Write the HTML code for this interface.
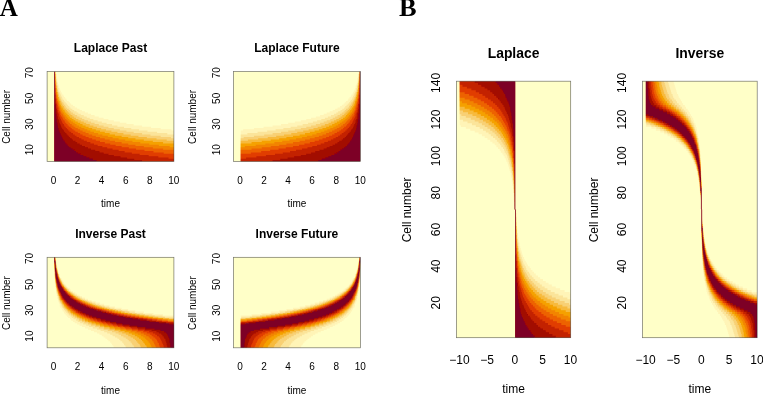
<!DOCTYPE html>
<html><head><meta charset="utf-8"><title>Figure</title>
<style>
html,body{margin:0;padding:0;background:#fff;}
body{width:763px;height:394px;overflow:hidden;}
svg{display:block;}
svg text{font-family:'Liberation Sans', sans-serif;fill:#000;}
</style></head><body>
<svg width="763" height="394" viewBox="0 0 763 394">
<rect width="763" height="394" fill="#fff"/>
<defs><filter id="soft" x="-5%" y="-5%" width="110%" height="110%"><feGaussianBlur stdDeviation="0.45"/></filter>
<clipPath id="c1"><rect x="47.1" y="71.4" width="126.8" height="90"/></clipPath>
<clipPath id="c2"><rect x="233.5" y="71.4" width="126.9" height="90"/></clipPath>
<clipPath id="c3"><rect x="47.1" y="257.3" width="126.8" height="90.5"/></clipPath>
<clipPath id="c4"><rect x="233.5" y="257.3" width="126.9" height="90.5"/></clipPath>
<clipPath id="c5"><rect x="456.4" y="81.2" width="114.3" height="256.5"/></clipPath>
<clipPath id="c6"><rect x="642.5" y="81.2" width="114.7" height="256.5"/></clipPath></defs>
<text x="-0.2" y="15.7" style="font-family:'Liberation Serif', serif" font-weight="bold" font-size="25">A</text>
<text x="398.9" y="15.7" style="font-family:'Liberation Serif', serif" font-weight="bold" font-size="25" textLength="17.6" lengthAdjust="spacingAndGlyphs">B</text>
<g clip-path="url(#c1)"><g filter="url(#soft)" fill-rule="evenodd">
<rect x="44.1" y="68.4" width="132.8" height="96" fill="#FFFFC8"/>
<path fill="#FFF4B7" d="M170.9 138.26H173.9V130.54H171.5V129.26H160.68V127.97H151.06V126.69H142.05V125.4H133.64V124.11H126.43V122.83H119.81V121.54H113.81V120.26H108.4V118.97H103.59V117.69H98.78V116.4H94.57V115.11H90.97V113.83H87.96V112.54H84.96V111.26H81.95V109.97H79.55V108.69H77.15V107.4H74.74V106.11H72.94V104.83H71.14V103.54H69.94V102.26H68.73V100.97H66.93V99.69H66.33V98.4H65.13V97.11H63.93V95.83H63.33V94.54H62.12V93.26H61.52V91.97H60.92V90.69H60.32V89.4H59.72V88.11H59.12V85.54H58.52V84.26H57.92V81.69H57.32V77.83H56.72V73.97H56.11V71.4H55.51V76.54H56.11V81.69H56.72V85.54H57.32V89.4H57.92V91.97H58.52V93.26H59.12V95.83H59.72V97.11H60.32V98.4H60.92V99.69H61.52V100.97H62.12V102.26H63.33V103.54H63.93V104.83H65.13V106.11H65.73V107.4H66.93V108.69H68.73V109.97H69.94V111.26H71.14V112.54H72.94V113.83H74.74V115.11H77.15V116.4H79.55V117.69H81.95V118.97H84.36V120.26H87.96V121.54H90.97V122.83H94.57V124.11H98.78V125.4H103.59V126.69H108.4V127.97H113.81V129.26H119.81V130.54H126.43V131.83H133.64V133.11H142.05V134.4H150.46V135.69H160.68V136.97H170.9Z"/>
<path fill="#FBE49A" d="M166.69 140.83H173.9V134.4H167.29V133.11H157.07V131.83H147.46V130.54H139.05V129.26H131.23V127.97H124.02V126.69H117.41V125.4H112V124.11H106.59V122.83H101.79V121.54H97.58V120.26H93.37V118.97H89.77V117.69H86.76V116.4H83.76V115.11H80.75V113.83H78.35V112.54H76.55V111.26H74.14V109.97H72.34V108.69H70.54V107.4H69.34V106.11H68.13V104.83H66.93V103.54H65.73V102.26H64.53V100.97H63.93V99.69H62.72V98.4H62.12V97.11H61.52V95.83H60.92V94.54H60.32V93.26H59.72V91.97H59.12V90.69H58.52V88.11H57.92V85.54H57.32V82.97H56.72V79.11H56.11V73.97H55.51V80.4H56.11V85.54H56.72V89.4H57.32V91.97H57.92V94.54H58.52V97.11H59.12V98.4H59.72V99.69H60.32V100.97H60.92V102.26H61.52V103.54H62.12V104.83H62.72V106.11H63.93V107.4H64.53V108.69H65.73V109.97H66.93V111.26H68.13V112.54H69.34V113.83H70.54V115.11H72.34V116.4H74.14V117.69H75.95V118.97H78.35V120.26H80.75V121.54H83.76V122.83H86.16V124.11H89.77V125.4H93.37V126.69H96.98V127.97H101.19V129.26H105.99V130.54H111.4V131.83H117.41V133.11H123.42V134.4H130.63V135.69H138.44V136.97H146.86V138.26H156.47V139.54H166.69Z"/>
<path fill="#F8D074" d="M163.08 143.4H173.9V138.26H170.9V136.97H160.68V135.69H150.46V134.4H142.05V133.11H133.64V131.83H126.43V130.54H119.81V129.26H113.81V127.97H108.4V126.69H103.59V125.4H98.78V124.11H94.57V122.83H90.97V121.54H87.96V120.26H84.36V118.97H81.95V117.69H79.55V116.4H77.15V115.11H74.74V113.83H72.94V112.54H71.14V111.26H69.94V109.97H68.73V108.69H66.93V107.4H65.73V106.11H65.13V104.83H63.93V103.54H63.33V102.26H62.12V100.97H61.52V99.69H60.92V98.4H60.32V97.11H59.72V95.83H59.12V93.26H58.52V91.97H57.92V89.4H57.32V85.54H56.72V81.69H56.11V76.54H55.51V82.97H56.11V88.11H56.72V91.97H57.32V94.54H57.92V97.11H58.52V99.69H59.12V100.97H59.72V103.54H60.32V104.83H60.92V106.11H61.52V107.4H62.72V108.69H63.33V109.97H64.53V111.26H65.13V112.54H66.33V113.83H67.53V115.11H68.73V116.4H69.94V117.69H71.74V118.97H73.54V120.26H75.34V121.54H77.75V122.83H80.15V124.11H82.56V125.4H85.56V126.69H88.57V127.97H92.17V129.26H95.78V130.54H99.98V131.83H104.79V133.11H109.6V134.4H115.01V135.69H121.62V136.97H128.23V138.26H135.44V139.54H143.85V140.83H152.87V142.11H163.08ZM54.91 73.97H55.51V71.4H54.91Z"/>
<path fill="#F7BA3C" d="M169.69 147.26H173.9V140.83H166.69V139.54H156.47V138.26H146.86V136.97H138.44V135.69H130.63V134.4H123.42V133.11H117.41V131.83H111.4V130.54H105.99V129.26H101.19V127.97H96.98V126.69H93.37V125.4H89.77V124.11H86.16V122.83H83.76V121.54H80.75V120.26H78.35V118.97H75.95V117.69H74.14V116.4H72.34V115.11H70.54V113.83H69.34V112.54H68.13V111.26H66.93V109.97H65.73V108.69H64.53V107.4H63.93V106.11H62.72V104.83H62.12V103.54H61.52V102.26H60.92V100.97H60.32V99.69H59.72V98.4H59.12V97.11H58.52V94.54H57.92V91.97H57.32V89.4H56.72V85.54H56.11V91.97H56.72V95.83H57.32V98.4H57.92V100.97H58.52V102.26H59.12V104.83H59.72V106.11H60.32V107.4H60.92V108.69H61.52V109.97H62.12V111.26H62.72V112.54H63.93V113.83H64.53V115.11H65.73V116.4H66.93V117.69H68.13V118.97H69.34V120.26H71.14V121.54H72.94V122.83H74.74V124.11H76.55V125.4H78.95V126.69H81.35V127.97H84.36V129.26H87.36V130.54H90.37V131.83H93.97V133.11H98.18V134.4H102.39V135.69H107.8V136.97H112.6V138.26H118.61V139.54H125.22V140.83H132.43V142.11H140.25V143.4H149.26V144.69H158.88V145.97H169.69ZM56.11 85.54V80.4H55.51V85.54ZM54.91 76.54H55.51V71.4H54.91Z"/>
<path fill="#F5A100" d="M163.08 149.83H173.9V143.4H163.08V142.11H152.87V140.83H143.85V139.54H135.44V138.26H128.23V136.97H121.62V135.69H115.01V134.4H109.6V133.11H104.79V131.83H99.98V130.54H95.78V129.26H92.17V127.97H88.57V126.69H85.56V125.4H82.56V124.11H80.15V122.83H77.75V121.54H75.34V120.26H73.54V118.97H71.74V117.69H69.94V116.4H68.73V115.11H67.53V113.83H66.33V112.54H65.13V111.26H64.53V109.97H63.33V108.69H62.72V107.4H61.52V106.11H60.92V104.83H60.32V103.54H59.72V100.97H59.12V99.69H58.52V97.11H57.92V94.54H57.32V91.97H56.72V88.11H56.11V82.97H55.51V89.4H56.11V94.54H56.72V98.4H57.32V100.97H57.92V103.54H58.52V106.11H59.12V107.4H59.72V109.97H60.32V111.26H60.92V112.54H61.52V113.83H62.72V115.11H63.33V116.4H64.53V117.69H65.13V118.97H66.33V120.26H67.53V121.54H68.73V122.83H69.94V124.11H71.74V125.4H73.54V126.69H75.34V127.97H77.75V129.26H80.15V130.54H82.56V131.83H85.56V133.11H88.57V134.4H92.17V135.69H95.78V136.97H99.98V138.26H104.79V139.54H109.6V140.83H115.01V142.11H121.62V143.4H128.23V144.69H135.44V145.97H143.85V147.26H152.87V148.54H163.08ZM54.91 80.4H55.51V73.97H54.91Z"/>
<path fill="#F28400" d="M163.68 153.69H173.9V147.26H169.69V145.97H158.88V144.69H149.26V143.4H140.25V142.11H132.43V140.83H125.22V139.54H118.61V138.26H112.6V136.97H107.8V135.69H102.39V134.4H98.18V133.11H93.97V131.83H90.37V130.54H87.36V129.26H84.36V127.97H81.35V126.69H78.95V125.4H76.55V124.11H74.74V122.83H72.94V121.54H71.14V120.26H69.34V118.97H68.13V117.69H66.93V116.4H65.73V115.11H64.53V113.83H63.93V112.54H62.72V111.26H62.12V109.97H61.52V108.69H60.92V107.4H60.32V106.11H59.72V104.83H59.12V102.26H58.52V100.97H57.92V98.4H57.32V95.83H56.72V91.97H56.11V85.54H55.51V93.26H56.11V98.4H56.72V102.26H57.32V104.83H57.92V107.4H58.52V109.97H59.12V111.26H59.72V112.54H60.32V115.11H60.92V116.4H62.12V117.69H62.72V118.97H63.33V120.26H64.53V121.54H65.13V122.83H66.33V124.11H67.53V125.4H68.73V126.69H70.54V127.97H71.74V129.26H73.54V130.54H75.34V131.83H77.75V133.11H80.15V134.4H82.56V135.69H85.56V136.97H88.57V138.26H92.17V139.54H95.78V140.83H99.98V142.11H104.79V143.4H110.2V144.69H115.61V145.97H121.62V147.26H128.83V148.54H136.04V149.83H144.45V151.11H153.47V152.4H163.68ZM54.91 84.26H55.51V76.54H54.91Z"/>
<path fill="#ED6200" d="M168.49 158.83H173.9V149.83H163.08V148.54H152.87V147.26H143.85V145.97H135.44V144.69H128.23V143.4H121.62V142.11H115.01V140.83H109.6V139.54H104.79V138.26H99.98V136.97H95.78V135.69H92.17V134.4H88.57V133.11H85.56V131.83H82.56V130.54H80.15V129.26H77.75V127.97H75.34V126.69H73.54V125.4H71.74V124.11H69.94V122.83H68.73V121.54H67.53V120.26H66.33V118.97H65.13V117.69H64.53V116.4H63.33V115.11H62.72V113.83H61.52V112.54H60.92V111.26H60.32V109.97H59.72V107.4H59.12V106.11H58.52V103.54H57.92V100.97H57.32V98.4H56.72V94.54H56.11V89.4H55.51V98.4H56.11V103.54H56.72V107.4H57.32V109.97H57.92V112.54H58.52V113.83H59.12V116.4H59.72V117.69H60.32V118.97H60.92V120.26H61.52V121.54H62.12V122.83H62.72V124.11H63.93V125.4H64.53V126.69H65.73V127.97H66.93V129.26H68.13V130.54H69.34V131.83H71.14V133.11H72.94V134.4H74.74V135.69H76.55V136.97H78.95V138.26H81.35V139.54H83.76V140.83H86.76V142.11H90.37V143.4H93.97V144.69H97.58V145.97H102.39V147.26H107.19V148.54H112.6V149.83H118.61V151.11H124.62V152.4H131.83V153.69H139.65V154.97H148.66V156.26H158.28V157.54H168.49ZM54.91 88.11H55.51V80.4H54.91Z"/>
<path fill="#E13C00" d="M142.05 161.4H173.9V153.69H163.68V152.4H153.47V151.11H144.45V149.83H136.04V148.54H128.83V147.26H121.62V145.97H115.61V144.69H110.2V143.4H104.79V142.11H99.98V140.83H95.78V139.54H92.17V138.26H88.57V136.97H85.56V135.69H82.56V134.4H80.15V133.11H77.75V131.83H75.34V130.54H73.54V129.26H71.74V127.97H70.54V126.69H68.73V125.4H67.53V124.11H66.33V122.83H65.13V121.54H64.53V120.26H63.33V118.97H62.72V117.69H62.12V116.4H60.92V115.11H60.32V112.54H59.72V111.26H59.12V109.97H58.52V107.4H57.92V104.83H57.32V102.26H56.72V98.4H56.11V93.26H55.51V84.26H54.91V94.54H55.51V103.54H56.11V108.69H56.72V112.54H57.32V116.4H57.92V118.97H58.52V120.26H59.12V122.83H59.72V124.11H60.32V125.4H60.92V126.69H61.52V127.97H62.12V129.26H63.33V130.54H63.93V131.83H65.13V133.11H66.33V134.4H67.53V135.69H68.73V136.97H69.94V138.26H71.74V139.54H72.94V140.83H75.34V142.11H77.15V143.4H79.55V144.69H81.95V145.97H84.96V147.26H87.96V148.54H90.97V149.83H95.18V151.11H99.38V152.4H103.59V153.69H108.4V154.97H113.81V156.26H120.42V157.54H127.03V158.83H134.24V160.11H142.05Z"/>
<path fill="#C32200" d="M96.38 161.4H173.9V158.83H168.49V157.54H158.28V156.26H148.66V154.97H139.65V153.69H131.83V152.4H124.62V151.11H118.61V149.83H112.6V148.54H107.19V147.26H102.39V145.97H97.58V144.69H93.97V143.4H90.37V142.11H86.76V140.83H83.76V139.54H81.35V138.26H78.95V136.97H76.55V135.69H74.74V134.4H72.94V133.11H71.14V131.83H69.34V130.54H68.13V129.26H66.93V127.97H65.73V126.69H64.53V125.4H63.93V124.11H62.72V122.83H62.12V121.54H61.52V120.26H60.92V118.97H60.32V117.69H59.72V116.4H59.12V113.83H58.52V112.54H57.92V109.97H57.32V107.4H56.72V103.54H56.11V98.4H55.51V88.11H54.91V104.83H55.51V113.83H56.11V118.97H56.72V122.83H57.32V125.4H57.92V127.97H58.52V130.54H59.12V131.83H59.72V133.11H60.32V134.4H60.92V135.69H61.52V136.97H62.12V138.26H62.72V139.54H63.33V140.83H64.53V142.11H65.13V143.4H66.33V144.69H67.53V145.97H68.73V147.26H70.54V148.54H72.34V149.83H74.14V151.11H75.95V152.4H77.75V153.69H80.15V154.97H83.16V156.26H86.16V157.54H89.17V158.83H92.77V160.11H96.38Z"/>
<path fill="#A20706" d="M54.31 161.4H142.05V160.11H134.24V158.83H127.03V157.54H120.42V156.26H113.81V154.97H108.4V153.69H103.59V152.4H99.38V151.11H95.18V149.83H90.97V148.54H87.96V147.26H84.96V145.97H81.95V144.69H79.55V143.4H77.15V142.11H75.34V140.83H72.94V139.54H71.74V138.26H69.94V136.97H68.73V135.69H67.53V134.4H66.33V133.11H65.13V131.83H63.93V130.54H63.33V129.26H62.12V127.97H61.52V126.69H60.92V125.4H60.32V124.11H59.72V122.83H59.12V120.26H58.52V118.97H57.92V116.4H57.32V112.54H56.72V108.69H56.11V103.54H55.51V94.54H54.91V71.4H54.31Z"/>
<path fill="#7D0025" d="M54.31 161.4H96.38V160.11H92.77V158.83H89.17V157.54H86.16V156.26H83.16V154.97H80.15V153.69H77.75V152.4H75.95V151.11H74.14V149.83H72.34V148.54H70.54V147.26H68.73V145.97H67.53V144.69H66.33V143.4H65.13V142.11H64.53V140.83H63.33V139.54H62.72V138.26H62.12V136.97H61.52V135.69H60.92V134.4H60.32V133.11H59.72V131.83H59.12V130.54H58.52V127.97H57.92V125.4H57.32V122.83H56.72V118.97H56.11V113.83H55.51V104.83H54.91V71.4H54.31Z"/>
</g></g>
<rect x="47.1" y="71.4" width="126.8" height="90" fill="none" stroke="#000" stroke-opacity="0.55" stroke-width="0.7"/>
<text x="53.56" y="183.6" font-size="10" text-anchor="middle">0</text>
<text x="77.6" y="183.6" font-size="10" text-anchor="middle">2</text>
<text x="101.64" y="183.6" font-size="10" text-anchor="middle">4</text>
<text x="125.67" y="183.6" font-size="10" text-anchor="middle">6</text>
<text x="149.71" y="183.6" font-size="10" text-anchor="middle">8</text>
<text x="173.75" y="183.6" font-size="10" text-anchor="middle">10</text>
<text x="33.3" y="149.79" font-size="10" text-anchor="middle" transform="rotate(-90 33.3 149.79)">10</text>
<text x="33.3" y="124.07" font-size="10" text-anchor="middle" transform="rotate(-90 33.3 124.07)">30</text>
<text x="33.3" y="98.36" font-size="10" text-anchor="middle" transform="rotate(-90 33.3 98.36)">50</text>
<text x="33.3" y="72.64" font-size="10" text-anchor="middle" transform="rotate(-90 33.3 72.64)">70</text>
<text x="110.5" y="207.2" font-size="10" text-anchor="middle">time</text>
<text x="9.7" y="116.9" font-size="10" text-anchor="middle" transform="rotate(-90 9.7 116.9)">Cell number</text>
<text x="110.5" y="52.1" font-size="12" text-anchor="middle" font-weight="bold">Laplace Past</text>
<g clip-path="url(#c2)"><g filter="url(#soft)" fill-rule="evenodd">
<rect x="230.5" y="68.4" width="132.9" height="96" fill="#FFFFC8"/>
<path fill="#FFF4B7" d="M240.72 138.26H243.72V136.97H253.95V135.69H264.17V134.4H272.59V133.11H281.01V131.83H288.23V130.54H294.85V129.26H300.86V127.97H306.27V126.69H311.08V125.4H315.89V124.11H320.1V122.83H323.71V121.54H326.72V120.26H330.33V118.97H332.73V117.69H335.14V116.4H337.55V115.11H339.95V113.83H341.76V112.54H343.56V111.26H344.76V109.97H345.97V108.69H347.77V107.4H348.97V106.11H349.57V104.83H350.78V103.54H351.38V102.26H352.58V100.97H353.18V99.69H353.78V98.4H354.39V97.11H354.99V95.83H355.59V93.26H356.19V91.97H356.79V89.4H357.39V85.54H357.99V81.69H358.6V76.54H359.2V71.4H358.6V73.97H357.99V77.83H357.39V81.69H356.79V84.26H356.19V85.54H355.59V88.11H354.99V89.4H354.39V90.69H353.78V91.97H353.18V93.26H352.58V94.54H351.38V95.83H350.78V97.11H349.57V98.4H348.37V99.69H347.77V100.97H345.97V102.26H344.76V103.54H343.56V104.83H341.76V106.11H339.95V107.4H337.55V108.69H335.14V109.97H332.73V111.26H329.73V112.54H326.72V113.83H323.71V115.11H320.1V116.4H315.89V117.69H311.08V118.97H306.27V120.26H300.86V121.54H294.85V122.83H288.23V124.11H281.01V125.4H272.59V126.69H263.57V127.97H253.95V129.26H243.12V130.54H240.72Z"/>
<path fill="#FBE49A" d="M240.72 140.83H247.93V139.54H258.16V138.26H267.78V136.97H276.2V135.69H284.02V134.4H291.24V133.11H297.25V131.83H303.26V130.54H308.68V129.26H313.49V127.97H317.7V126.69H321.31V125.4H324.92V124.11H328.52V122.83H330.93V121.54H333.94V120.26H336.34V118.97H338.75V117.69H340.55V116.4H342.36V115.11H344.16V113.83H345.36V112.54H346.57V111.26H347.77V109.97H348.97V108.69H350.18V107.4H350.78V106.11H351.98V104.83H352.58V103.54H353.18V102.26H353.78V100.97H354.39V99.69H354.99V98.4H355.59V97.11H356.19V94.54H356.79V91.97H357.39V89.4H357.99V85.54H358.6V80.4H359.2V73.97H358.6V79.11H357.99V82.97H357.39V85.54H356.79V88.11H356.19V90.69H355.59V91.97H354.99V93.26H354.39V94.54H353.78V95.83H353.18V97.11H352.58V98.4H351.98V99.69H350.78V100.97H350.18V102.26H348.97V103.54H347.77V104.83H346.57V106.11H345.36V107.4H344.16V108.69H342.36V109.97H340.55V111.26H338.15V112.54H336.34V113.83H333.94V115.11H330.93V116.4H327.92V117.69H324.92V118.97H321.31V120.26H317.1V121.54H312.89V122.83H308.08V124.11H302.66V125.4H297.25V126.69H290.64V127.97H283.42V129.26H275.6V130.54H267.18V131.83H257.56V133.11H247.33V134.4H240.72Z"/>
<path fill="#F8D074" d="M240.72 143.4H251.54V142.11H261.77V140.83H270.79V139.54H279.21V138.26H286.43V136.97H293.04V135.69H299.66V134.4H305.07V133.11H309.88V131.83H314.69V130.54H318.9V129.26H322.51V127.97H326.12V126.69H329.13V125.4H332.13V124.11H334.54V122.83H336.94V121.54H339.35V120.26H341.15V118.97H342.96V117.69H344.76V116.4H345.97V115.11H347.17V113.83H348.37V112.54H349.57V111.26H350.18V109.97H351.38V108.69H351.98V107.4H353.18V106.11H353.78V104.83H354.39V103.54H354.99V100.97H355.59V99.69H356.19V97.11H356.79V94.54H357.39V91.97H357.99V88.11H358.6V82.97H359.2V76.54H358.6V81.69H357.99V85.54H357.39V89.4H356.79V91.97H356.19V93.26H355.59V95.83H354.99V97.11H354.39V98.4H353.78V99.69H353.18V100.97H352.58V102.26H351.38V103.54H350.78V104.83H349.57V106.11H348.97V107.4H347.77V108.69H345.97V109.97H344.76V111.26H343.56V112.54H341.76V113.83H339.95V115.11H337.55V116.4H335.14V117.69H332.73V118.97H330.33V120.26H326.72V121.54H323.71V122.83H320.1V124.11H315.89V125.4H311.08V126.69H306.27V127.97H300.86V129.26H294.85V130.54H288.23V131.83H281.01V133.11H272.59V134.4H264.17V135.69H253.95V136.97H243.72V138.26H240.72ZM359.2 73.97H359.8V71.4H359.2Z"/>
<path fill="#F7BA3C" d="M240.72 147.26H244.93V145.97H255.75V144.69H265.38V143.4H274.4V142.11H282.22V140.83H289.43V139.54H296.05V138.26H302.06V136.97H306.87V135.69H312.29V134.4H316.5V133.11H320.71V131.83H324.31V130.54H327.32V129.26H330.33V127.97H333.34V126.69H335.74V125.4H338.15V124.11H339.95V122.83H341.76V121.54H343.56V120.26H345.36V118.97H346.57V117.69H347.77V116.4H348.97V115.11H350.18V113.83H350.78V112.54H351.98V111.26H352.58V109.97H353.18V108.69H353.78V107.4H354.39V106.11H354.99V104.83H355.59V102.26H356.19V100.97H356.79V98.4H357.39V95.83H357.99V91.97H358.6V85.54H357.99V89.4H357.39V91.97H356.79V94.54H356.19V97.11H355.59V98.4H354.99V99.69H354.39V100.97H353.78V102.26H353.18V103.54H352.58V104.83H351.98V106.11H350.78V107.4H350.18V108.69H348.97V109.97H347.77V111.26H346.57V112.54H345.36V113.83H344.16V115.11H342.36V116.4H340.55V117.69H338.75V118.97H336.34V120.26H333.94V121.54H330.93V122.83H328.52V124.11H324.92V125.4H321.31V126.69H317.7V127.97H313.49V129.26H308.68V130.54H303.26V131.83H297.25V133.11H291.24V134.4H284.02V135.69H276.2V136.97H267.78V138.26H258.16V139.54H247.93V140.83H240.72ZM358.6 85.54H359.2V80.4H358.6ZM359.2 76.54H359.8V71.4H359.2Z"/>
<path fill="#F5A100" d="M240.72 149.83H251.54V148.54H261.77V147.26H270.79V145.97H279.21V144.69H286.43V143.4H293.04V142.11H299.66V140.83H305.07V139.54H309.88V138.26H314.69V136.97H318.9V135.69H322.51V134.4H326.12V133.11H329.13V131.83H332.13V130.54H334.54V129.26H336.94V127.97H339.35V126.69H341.15V125.4H342.96V124.11H344.76V122.83H345.97V121.54H347.17V120.26H348.37V118.97H349.57V117.69H350.18V116.4H351.38V115.11H351.98V113.83H353.18V112.54H353.78V111.26H354.39V109.97H354.99V107.4H355.59V106.11H356.19V103.54H356.79V100.97H357.39V98.4H357.99V94.54H358.6V89.4H359.2V82.97H358.6V88.11H357.99V91.97H357.39V94.54H356.79V97.11H356.19V99.69H355.59V100.97H354.99V103.54H354.39V104.83H353.78V106.11H353.18V107.4H351.98V108.69H351.38V109.97H350.18V111.26H349.57V112.54H348.37V113.83H347.17V115.11H345.97V116.4H344.76V117.69H342.96V118.97H341.15V120.26H339.35V121.54H336.94V122.83H334.54V124.11H332.13V125.4H329.13V126.69H326.12V127.97H322.51V129.26H318.9V130.54H314.69V131.83H309.88V133.11H305.07V134.4H299.66V135.69H293.04V136.97H286.43V138.26H279.21V139.54H270.79V140.83H261.77V142.11H251.54V143.4H240.72ZM359.2 80.4H359.8V73.97H359.2Z"/>
<path fill="#F28400" d="M240.72 153.69H250.94V152.4H261.17V151.11H270.19V149.83H278.61V148.54H285.82V147.26H293.04V145.97H299.05V144.69H304.47V143.4H309.88V142.11H314.69V140.83H318.9V139.54H322.51V138.26H326.12V136.97H329.13V135.69H332.13V134.4H334.54V133.11H336.94V131.83H339.35V130.54H341.15V129.26H342.96V127.97H344.16V126.69H345.97V125.4H347.17V124.11H348.37V122.83H349.57V121.54H350.18V120.26H351.38V118.97H351.98V117.69H352.58V116.4H353.78V115.11H354.39V112.54H354.99V111.26H355.59V109.97H356.19V107.4H356.79V104.83H357.39V102.26H357.99V98.4H358.6V93.26H359.2V85.54H358.6V91.97H357.99V95.83H357.39V98.4H356.79V100.97H356.19V102.26H355.59V104.83H354.99V106.11H354.39V107.4H353.78V108.69H353.18V109.97H352.58V111.26H351.98V112.54H350.78V113.83H350.18V115.11H348.97V116.4H347.77V117.69H346.57V118.97H345.36V120.26H343.56V121.54H341.76V122.83H339.95V124.11H338.15V125.4H335.74V126.69H333.34V127.97H330.33V129.26H327.32V130.54H324.31V131.83H320.71V133.11H316.5V134.4H312.29V135.69H306.87V136.97H302.06V138.26H296.05V139.54H289.43V140.83H282.22V142.11H274.4V143.4H265.38V144.69H255.75V145.97H244.93V147.26H240.72ZM359.2 84.26H359.8V76.54H359.2Z"/>
<path fill="#ED6200" d="M240.72 158.83H246.13V157.54H256.35V156.26H265.98V154.97H275V153.69H282.82V152.4H290.03V151.11H296.05V149.83H302.06V148.54H307.47V147.26H312.29V145.97H317.1V144.69H320.71V143.4H324.31V142.11H327.92V140.83H330.93V139.54H333.34V138.26H335.74V136.97H338.15V135.69H339.95V134.4H341.76V133.11H343.56V131.83H345.36V130.54H346.57V129.26H347.77V127.97H348.97V126.69H350.18V125.4H350.78V124.11H351.98V122.83H352.58V121.54H353.18V120.26H353.78V118.97H354.39V117.69H354.99V116.4H355.59V113.83H356.19V112.54H356.79V109.97H357.39V107.4H357.99V103.54H358.6V98.4H359.2V89.4H358.6V94.54H357.99V98.4H357.39V100.97H356.79V103.54H356.19V106.11H355.59V107.4H354.99V109.97H354.39V111.26H353.78V112.54H353.18V113.83H351.98V115.11H351.38V116.4H350.18V117.69H349.57V118.97H348.37V120.26H347.17V121.54H345.97V122.83H344.76V124.11H342.96V125.4H341.15V126.69H339.35V127.97H336.94V129.26H334.54V130.54H332.13V131.83H329.13V133.11H326.12V134.4H322.51V135.69H318.9V136.97H314.69V138.26H309.88V139.54H305.07V140.83H299.66V142.11H293.04V143.4H286.43V144.69H279.21V145.97H270.79V147.26H261.77V148.54H251.54V149.83H240.72ZM359.2 88.11H359.8V80.4H359.2Z"/>
<path fill="#E13C00" d="M240.72 161.4H272.59V160.11H280.41V158.83H287.63V157.54H294.24V156.26H300.86V154.97H306.27V153.69H311.08V152.4H315.29V151.11H319.5V149.83H323.71V148.54H326.72V147.26H329.73V145.97H332.73V144.69H335.14V143.4H337.55V142.11H339.35V140.83H341.76V139.54H342.96V138.26H344.76V136.97H345.97V135.69H347.17V134.4H348.37V133.11H349.57V131.83H350.78V130.54H351.38V129.26H352.58V127.97H353.18V126.69H353.78V125.4H354.39V124.11H354.99V122.83H355.59V120.26H356.19V118.97H356.79V116.4H357.39V112.54H357.99V108.69H358.6V103.54H359.2V94.54H359.8V84.26H359.2V93.26H358.6V98.4H357.99V102.26H357.39V104.83H356.79V107.4H356.19V109.97H355.59V111.26H354.99V112.54H354.39V115.11H353.78V116.4H352.58V117.69H351.98V118.97H351.38V120.26H350.18V121.54H349.57V122.83H348.37V124.11H347.17V125.4H345.97V126.69H344.16V127.97H342.96V129.26H341.15V130.54H339.35V131.83H336.94V133.11H334.54V134.4H332.13V135.69H329.13V136.97H326.12V138.26H322.51V139.54H318.9V140.83H314.69V142.11H309.88V143.4H304.47V144.69H299.05V145.97H293.04V147.26H285.82V148.54H278.61V149.83H270.19V151.11H261.17V152.4H250.94V153.69H240.72Z"/>
<path fill="#C32200" d="M240.72 161.4H318.3V160.11H321.91V158.83H325.52V157.54H328.52V156.26H331.53V154.97H334.54V153.69H336.94V152.4H338.75V151.11H340.55V149.83H342.36V148.54H344.16V147.26H345.97V145.97H347.17V144.69H348.37V143.4H349.57V142.11H350.18V140.83H351.38V139.54H351.98V138.26H352.58V136.97H353.18V135.69H353.78V134.4H354.39V133.11H354.99V131.83H355.59V130.54H356.19V127.97H356.79V125.4H357.39V122.83H357.99V118.97H358.6V113.83H359.2V104.83H359.8V88.11H359.2V98.4H358.6V103.54H357.99V107.4H357.39V109.97H356.79V112.54H356.19V113.83H355.59V116.4H354.99V117.69H354.39V118.97H353.78V120.26H353.18V121.54H352.58V122.83H351.98V124.11H350.78V125.4H350.18V126.69H348.97V127.97H347.77V129.26H346.57V130.54H345.36V131.83H343.56V133.11H341.76V134.4H339.95V135.69H338.15V136.97H335.74V138.26H333.34V139.54H330.93V140.83H327.92V142.11H324.31V143.4H320.71V144.69H317.1V145.97H312.29V147.26H307.47V148.54H302.06V149.83H296.05V151.11H290.03V152.4H282.82V153.69H275V154.97H265.98V156.26H256.35V157.54H246.13V158.83H240.72Z"/>
<path fill="#A20706" d="M272.59 161.4H360.4V71.4H359.8V94.54H359.2V103.54H358.6V108.69H357.99V112.54H357.39V116.4H356.79V118.97H356.19V120.26H355.59V122.83H354.99V124.11H354.39V125.4H353.78V126.69H353.18V127.97H352.58V129.26H351.38V130.54H350.78V131.83H349.57V133.11H348.37V134.4H347.17V135.69H345.97V136.97H344.76V138.26H342.96V139.54H341.76V140.83H339.35V142.11H337.55V143.4H335.14V144.69H332.73V145.97H329.73V147.26H326.72V148.54H323.71V149.83H319.5V151.11H315.29V152.4H311.08V153.69H306.27V154.97H300.86V156.26H294.24V157.54H287.63V158.83H280.41V160.11H272.59Z"/>
<path fill="#7D0025" d="M318.3 161.4H360.4V71.4H359.8V104.83H359.2V113.83H358.6V118.97H357.99V122.83H357.39V125.4H356.79V127.97H356.19V130.54H355.59V131.83H354.99V133.11H354.39V134.4H353.78V135.69H353.18V136.97H352.58V138.26H351.98V139.54H351.38V140.83H350.18V142.11H349.57V143.4H348.37V144.69H347.17V145.97H345.97V147.26H344.16V148.54H342.36V149.83H340.55V151.11H338.75V152.4H336.94V153.69H334.54V154.97H331.53V156.26H328.52V157.54H325.52V158.83H321.91V160.11H318.3Z"/>
</g></g>
<rect x="233.5" y="71.4" width="126.9" height="90" fill="none" stroke="#000" stroke-opacity="0.55" stroke-width="0.7"/>
<text x="239.96" y="183.6" font-size="10" text-anchor="middle">0</text>
<text x="264.02" y="183.6" font-size="10" text-anchor="middle">2</text>
<text x="288.08" y="183.6" font-size="10" text-anchor="middle">4</text>
<text x="312.14" y="183.6" font-size="10" text-anchor="middle">6</text>
<text x="336.19" y="183.6" font-size="10" text-anchor="middle">8</text>
<text x="360.25" y="183.6" font-size="10" text-anchor="middle">10</text>
<text x="219.7" y="149.79" font-size="10" text-anchor="middle" transform="rotate(-90 219.7 149.79)">10</text>
<text x="219.7" y="124.07" font-size="10" text-anchor="middle" transform="rotate(-90 219.7 124.07)">30</text>
<text x="219.7" y="98.36" font-size="10" text-anchor="middle" transform="rotate(-90 219.7 98.36)">50</text>
<text x="219.7" y="72.64" font-size="10" text-anchor="middle" transform="rotate(-90 219.7 72.64)">70</text>
<text x="296.95" y="207.2" font-size="10" text-anchor="middle">time</text>
<text x="196.1" y="116.9" font-size="10" text-anchor="middle" transform="rotate(-90 196.1 116.9)">Cell number</text>
<text x="296.95" y="52.1" font-size="12" text-anchor="middle" font-weight="bold">Laplace Future</text>
<g clip-path="url(#c3)"><g filter="url(#soft)" fill-rule="evenodd">
<rect x="44.1" y="254.3" width="132.8" height="96.5" fill="#FFFFC8"/>
<path fill="#FFF4B7" d="M113.81 347.8H134.24V346.51H133.64V345.21H132.43V343.92H131.83V342.63H130.63V341.34H128.83V340.04H127.63V338.75H125.82V337.46H123.42V336.16H121.02V334.87H118.61V333.58H115.61V332.29H112V330.99H107.8V329.7H103.59V328.41H98.78V327.11H95.18V325.82H90.97V324.53H87.96V323.24H84.36V321.94H81.95V320.65H78.95V319.36H77.15V318.06H74.74V316.77H72.94V315.48H71.14V314.19H69.34V312.89H68.13V311.6H66.93V310.31H65.73V309.01H64.53V307.72H63.33V306.43H62.72V305.14H62.12V303.84H60.92V302.55H60.32V301.26H59.72V299.96H59.12V297.38H58.52V296.09H57.92V293.5H57.32V292.21H56.72V288.33H56.11V284.45H55.51V289.62H56.11V293.5H56.72V296.09H57.32V298.67H57.92V301.26H58.52V302.55H59.12V303.84H59.72V306.43H60.32V307.72H61.52V309.01H62.12V310.31H62.72V311.6H63.93V312.89H64.53V314.19H65.73V315.48H66.93V316.77H68.13V318.06H69.94V319.36H71.14V320.65H72.94V321.94H74.74V323.24H77.15V324.53H79.55V325.82H81.95V327.11H84.96V328.41H87.96V329.7H90.97V330.99H93.97V332.29H96.98V333.58H99.38V334.87H101.79V336.16H103.59V337.46H105.39V338.75H107.19V340.04H108.4V341.34H110.2V342.63H111.4V343.92H112V345.21H113.2V346.51H113.81ZM164.89 318.06H173.9V315.48H163.08V314.19H153.47V312.89H143.85V311.6H135.44V310.31H128.23V309.01H121.62V307.72H115.01V306.43H109.6V305.14H104.19V303.84H99.98V302.55H95.78V301.26H91.57V299.96H87.96V298.67H84.96V297.38H81.95V296.09H79.55V294.79H77.15V293.5H75.34V292.21H72.94V290.91H71.14V289.62H69.94V288.33H68.13V287.04H66.93V285.74H65.73V284.45H64.53V283.16H63.93V281.86H62.72V280.57H62.12V279.28H61.52V277.99H60.32V279.28H60.92V280.57H61.52V281.86H62.12V283.16H62.72V284.45H63.93V285.74H65.13V287.04H65.73V288.33H66.93V289.62H68.73V290.91H69.94V292.21H71.74V293.5H73.54V294.79H75.34V296.09H77.75V297.38H80.15V298.67H82.56V299.96H85.56V301.26H88.57V302.55H92.17V303.84H95.78V305.14H100.58V306.43H104.79V307.72H110.2V309.01H116.21V310.31H122.22V311.6H129.43V312.89H136.64V314.19H145.05V315.48H154.67V316.77H164.89ZM55.51 284.45V279.28H54.91V284.45ZM60.32 277.99V276.69H59.72V277.99ZM59.72 276.69V274.11H59.12V272.81H58.52V271.52H57.92V274.11H58.52V275.4H59.12V276.69ZM54.31 275.4H54.91V270.23H54.31ZM57.92 271.52V268.94H57.32V271.52ZM57.32 268.94V266.35H56.72V268.94ZM56.72 266.35V263.76H56.11V266.35ZM55.51 262.47H56.11V259.89H55.51Z"/>
<path fill="#FBE49A" d="M125.82 347.8H140.85V346.51H140.25V345.21H139.65V343.92H138.44V342.63H137.24V341.34H136.04V340.04H134.84V338.75H133.04V337.46H130.63V336.16H128.23V334.87H125.82V333.58H122.22V332.29H118.61V330.99H114.41V329.7H109.6V328.41H104.19V327.11H99.98V325.82H95.78V324.53H91.57V323.24H88.57V321.94H84.96V320.65H81.95V319.36H79.55V318.06H77.15V316.77H75.34V315.48H72.94V314.19H71.14V312.89H69.94V311.6H68.13V310.31H66.93V309.01H65.73V307.72H64.53V306.43H63.93V305.14H62.72V303.84H62.12V302.55H61.52V301.26H60.32V299.96H59.72V297.38H59.12V296.09H58.52V294.79H57.92V292.21H57.32V289.62H56.72V287.04H56.11V290.91H56.72V293.5H57.32V296.09H57.92V298.67H58.52V299.96H59.12V301.26H59.72V302.55H60.32V303.84H60.92V305.14H61.52V306.43H62.12V307.72H63.33V309.01H63.93V310.31H65.13V311.6H66.33V312.89H67.53V314.19H68.73V315.48H70.54V316.77H71.74V318.06H73.54V319.36H75.95V320.65H77.75V321.94H80.15V323.24H83.16V324.53H86.16V325.82H89.17V327.11H92.77V328.41H96.98V329.7H100.58V330.99H104.19V332.29H107.19V333.58H110.2V334.87H112.6V336.16H115.01V337.46H117.41V338.75H119.21V340.04H120.42V341.34H122.22V342.63H123.42V343.92H124.02V345.21H125.22V346.51H125.82ZM169.09 319.36H173.9V318.06H173.3V316.77H162.48V315.48H152.27V314.19H143.25V312.89H134.84V311.6H127.63V310.31H121.02V309.01H114.41V307.72H109V306.43H104.19V305.14H99.38V303.84H95.18V302.55H91.57V301.26H87.96V299.96H84.96V298.67H81.95V297.38H79.55V296.09H77.15V294.79H74.74V293.5H72.94V292.21H71.14V290.91H69.34V289.62H68.13V288.33H66.93V287.04H65.73V285.74H64.53V284.45H63.33V285.74H63.93V287.04H65.13V288.33H66.33V289.62H67.53V290.91H68.73V292.21H70.54V293.5H72.34V294.79H74.14V296.09H75.95V297.38H78.35V298.67H80.75V299.96H83.76V301.26H86.76V302.55H89.77V303.84H93.37V305.14H97.58V306.43H101.79V307.72H107.19V309.01H112.6V310.31H118.01V311.6H124.62V312.89H131.83V314.19H139.65V315.48H148.66V316.77H158.28V318.06H169.09ZM56.11 287.04V283.16H55.51V287.04ZM63.33 284.45V283.16H62.72V281.86H62.12V280.57H60.92V281.86H61.52V283.16H62.12V284.45ZM54.91 281.86H55.51V277.99H54.91ZM60.92 280.57V279.28H60.32V280.57ZM60.32 279.28V277.99H59.72V279.28ZM59.72 277.99V276.69H59.12V277.99ZM59.12 276.69V274.11H58.52V276.69ZM58.52 274.11V272.81H57.92V274.11ZM57.92 272.81V270.23H57.32V272.81ZM54.31 271.52H54.91V268.94H54.31ZM57.32 270.23V267.64H56.72V270.23ZM56.72 267.64V265.06H56.11V267.64ZM55.51 262.47H56.11V261.18H55.51Z"/>
<path fill="#F8D074" d="M134.24 347.8H146.86V346.51H146.26V345.21H145.05V343.92H144.45V342.63H143.25V341.34H142.05V340.04H140.85V338.75H139.05V337.46H137.24V336.16H134.84V334.87H131.83V333.58H128.83V332.29H124.62V330.99H120.42V329.7H115.01V328.41H109.6V327.11H104.19V325.82H99.98V324.53H95.78V323.24H91.57V321.94H87.96V320.65H84.96V319.36H81.95V318.06H79.55V316.77H77.15V315.48H75.34V314.19H72.94V312.89H71.14V311.6H69.94V310.31H68.13V309.01H66.93V307.72H65.73V306.43H64.53V305.14H63.93V303.84H62.72V302.55H62.12V301.26H61.52V299.96H60.32V298.67H59.72V296.09H59.12V294.79H58.52V293.5H57.92V296.09H58.52V297.38H59.12V299.96H59.72V301.26H60.32V302.55H60.92V303.84H62.12V305.14H62.72V306.43H63.33V307.72H64.53V309.01H65.73V310.31H66.93V311.6H68.13V312.89H69.34V314.19H71.14V315.48H72.94V316.77H74.74V318.06H77.15V319.36H78.95V320.65H81.95V321.94H84.36V323.24H87.96V324.53H90.97V325.82H95.18V327.11H98.78V328.41H103.59V329.7H107.8V330.99H112V332.29H115.61V333.58H118.61V334.87H121.02V336.16H123.42V337.46H125.82V338.75H127.63V340.04H128.83V341.34H130.63V342.63H131.83V343.92H132.43V345.21H133.64V346.51H134.24ZM163.08 319.36H173.9V318.06H164.89V316.77H154.67V315.48H145.05V314.19H136.64V312.89H129.43V311.6H122.22V310.31H116.21V309.01H110.2V307.72H104.79V306.43H100.58V305.14H95.78V303.84H92.17V302.55H88.57V301.26H85.56V299.96H82.56V298.67H80.15V297.38H77.75V296.09H75.34V294.79H73.54V293.5H71.74V292.21H69.94V293.5H71.14V294.79H72.94V296.09H74.74V297.38H77.15V298.67H79.55V299.96H81.95V301.26H84.96V302.55H87.96V303.84H91.57V305.14H95.18V306.43H99.38V307.72H104.19V309.01H109V310.31H115.01V311.6H121.02V312.89H127.63V314.19H135.44V315.48H143.85V316.77H152.87V318.06H163.08ZM57.92 293.5V290.91H57.32V288.33H56.72V292.21H57.32V293.5ZM69.94 292.21V290.91H68.73V289.62H66.93V290.91H68.13V292.21ZM66.93 289.62V288.33H65.73V289.62ZM56.72 288.33V285.74H56.11V288.33ZM65.73 288.33V287.04H65.13V285.74H63.93V287.04H64.53V288.33ZM63.93 285.74V284.45H62.72V285.74ZM62.72 284.45V283.16H62.12V284.45ZM55.51 284.45H56.11V281.86H55.51ZM62.12 283.16V281.86H61.52V283.16ZM61.52 281.86V280.57H60.92V279.28H60.32V277.99H59.72V276.69H59.12V279.28H59.72V280.57H60.32V281.86ZM54.91 279.28H55.51V276.69H54.91ZM59.12 276.69V275.4H58.52V276.69ZM58.52 275.4V274.11H57.92V275.4ZM57.32 272.81H57.92V271.52H57.32ZM54.31 270.23H54.91V267.64H54.31ZM56.72 270.23H57.32V268.94H56.72ZM56.11 267.64H56.72V266.35H56.11ZM55.51 263.76H56.11V262.47H55.51ZM54.91 258.59H55.51V257.3H54.91Z"/>
<path fill="#F7BA3C" d="M140.85 347.8H151.66V346.51H151.06V345.21H150.46V343.92H149.86V342.63H148.66V341.34H147.46V340.04H146.26V338.75H145.05V337.46H143.25V336.16H140.85V334.87H137.84V333.58H134.84V332.29H130.63V330.99H126.43V329.7H120.42V328.41H114.41V327.11H109V325.82H103.59V324.53H99.38V323.24H95.18V321.94H91.57V320.65H87.96V319.36H84.96V318.06H81.95V316.77H79.55V315.48H77.15V314.19H74.74V312.89H72.94V311.6H71.14V310.31H69.34V309.01H68.13V307.72H66.93V306.43H65.73V305.14H64.53V303.84H63.33V302.55H62.72V301.26H62.12V299.96H60.92V298.67H60.32V297.38H59.72V299.96H60.32V301.26H61.52V302.55H62.12V303.84H62.72V305.14H63.93V306.43H64.53V307.72H65.73V309.01H66.93V310.31H68.13V311.6H69.94V312.89H71.14V314.19H72.94V315.48H75.34V316.77H77.15V318.06H79.55V319.36H81.95V320.65H84.96V321.94H88.57V323.24H91.57V324.53H95.78V325.82H99.98V327.11H104.19V328.41H109.6V329.7H114.41V330.99H118.61V332.29H122.22V333.58H125.82V334.87H128.23V336.16H130.63V337.46H133.04V338.75H134.84V340.04H136.04V341.34H137.24V342.63H138.44V343.92H139.65V345.21H140.25V346.51H140.85ZM167.89 320.65H173.9V319.36H169.09V318.06H158.28V316.77H148.66V315.48H139.65V314.19H131.83V312.89H124.62V311.6H118.01V312.89H124.02V314.19H131.23V315.48H139.05V316.77H148.06V318.06H157.67V319.36H167.89ZM118.01 311.6V310.31H112.6V309.01H107.19V307.72H101.79V309.01H106.59V310.31H112V311.6ZM101.79 307.72V306.43H97.58V305.14H93.37V306.43H96.98V307.72ZM93.37 305.14V303.84H89.77V305.14ZM89.77 303.84V302.55H86.76V301.26H83.76V299.96H80.75V301.26H83.16V302.55H86.16V303.84ZM80.75 299.96V298.67H78.35V299.96ZM78.35 298.67V297.38H75.95V298.67ZM59.72 297.38V296.09H59.12V297.38ZM75.95 297.38V296.09H74.14V297.38ZM59.12 296.09V293.5H58.52V292.21H57.92V294.79H58.52V296.09ZM74.14 296.09V294.79H72.34V296.09ZM72.34 294.79V293.5H70.54V294.79ZM70.54 293.5V292.21H68.73V293.5ZM57.92 292.21V289.62H57.32V292.21ZM68.73 292.21V290.91H67.53V292.21ZM67.53 290.91V289.62H66.33V290.91ZM57.32 289.62V288.33H56.72V289.62ZM66.33 289.62V288.33H65.13V289.62ZM65.13 288.33V287.04H63.93V288.33ZM63.93 287.04V285.74H63.33V287.04ZM56.11 287.04H56.72V284.45H56.11ZM63.33 285.74V284.45H62.12V285.74ZM62.12 284.45V283.16H61.52V284.45ZM61.52 283.16V281.86H60.92V283.16ZM55.51 283.16H56.11V280.57H55.51ZM60.92 281.86V280.57H60.32V281.86ZM60.32 280.57V279.28H59.72V280.57ZM59.72 279.28V277.99H59.12V279.28ZM59.12 277.99V276.69H58.52V277.99ZM54.91 277.99H55.51V275.4H54.91ZM57.92 275.4H58.52V274.11H57.92ZM57.92 274.11V272.81H57.32V274.11ZM56.72 271.52H57.32V270.23H56.72ZM54.31 268.94H54.91V266.35H54.31ZM56.11 268.94H56.72V267.64H56.11ZM55.51 265.06H56.11V262.47H55.51ZM54.91 258.59H55.51V257.3H54.91Z"/>
<path fill="#F5A100" d="M146.86 347.8H155.87V346.51H155.27V345.21H154.67V343.92H154.07V342.63H153.47V341.34H152.27V340.04H151.66V338.75H149.86V337.46H148.66V336.16H146.26V334.87H143.85V333.58H140.85V332.29H136.64V330.99H131.83V329.7H125.82V328.41H119.81V327.11H113.81V325.82H107.8V324.53H102.99V323.24H98.78V321.94H94.57V320.65H90.37V319.36H87.36V318.06H84.36V316.77H81.35V315.48H78.95V314.19H76.55V312.89H74.74V311.6H72.34V310.31H71.14V309.01H69.34V307.72H68.13V306.43H66.93V305.14H65.73V303.84H64.53V302.55H63.33V301.26H62.72V299.96H61.52V301.26H62.12V302.55H62.72V303.84H63.93V305.14H64.53V306.43H65.73V307.72H66.93V309.01H68.13V310.31H69.94V311.6H71.14V312.89H72.94V314.19H75.34V315.48H77.15V316.77H79.55V318.06H81.95V319.36H84.96V320.65H87.96V321.94H91.57V323.24H95.78V324.53H99.98V325.82H104.19V327.11H109.6V328.41H115.01V329.7H120.42V330.99H124.62V332.29H128.83V333.58H131.83V334.87H134.84V336.16H137.24V337.46H139.05V338.75H140.85V340.04H142.05V341.34H143.25V342.63H144.45V343.92H145.05V345.21H146.26V346.51H146.86ZM173.3 321.94H173.9V319.36H163.08V318.06H152.87V316.77H143.85V315.48H135.44V316.77H143.25V318.06H152.27V319.36H162.48V320.65H173.3ZM135.44 315.48V314.19H127.63V315.48ZM127.63 314.19V312.89H121.02V314.19ZM121.02 312.89V311.6H115.01V310.31H109V311.6H114.41V312.89ZM109 310.31V309.01H104.19V310.31ZM104.19 309.01V307.72H99.38V309.01ZM99.38 307.72V306.43H95.18V307.72ZM95.18 306.43V305.14H91.57V306.43ZM91.57 305.14V303.84H87.96V305.14ZM87.96 303.84V302.55H84.96V303.84ZM84.96 302.55V301.26H81.95V302.55ZM81.95 301.26V299.96H79.55V301.26ZM61.52 299.96V298.67H60.92V297.38H60.32V296.09H59.72V298.67H60.32V299.96ZM79.55 299.96V298.67H77.15V299.96ZM77.15 298.67V297.38H74.74V298.67ZM74.74 297.38V296.09H72.94V297.38ZM59.72 296.09V294.79H59.12V296.09ZM72.94 296.09V294.79H71.14V296.09ZM59.12 294.79V293.5H58.52V294.79ZM71.14 294.79V293.5H69.94V294.79ZM58.52 293.5V290.91H57.92V293.5ZM69.94 293.5V292.21H68.13V293.5ZM68.13 292.21V290.91H66.93V292.21ZM57.92 290.91V289.62H57.32V290.91ZM66.93 290.91V289.62H65.73V290.91ZM65.73 289.62V288.33H64.53V289.62ZM64.53 288.33V287.04H63.93V288.33ZM56.72 288.33H57.32V287.04H56.72ZM63.93 287.04V285.74H62.72V287.04ZM62.72 285.74V284.45H62.12V285.74ZM56.11 285.74H56.72V283.16H56.11ZM62.12 284.45V283.16H61.52V281.86H60.32V283.16H60.92V284.45ZM60.32 281.86V280.57H59.72V281.86ZM55.51 281.86H56.11V279.28H55.51ZM59.72 280.57V279.28H59.12V280.57ZM58.52 277.99H59.12V276.69H58.52ZM58.52 276.69V275.4H57.92V276.69ZM54.91 276.69H55.51V274.11H54.91ZM57.32 274.11H57.92V272.81H57.32ZM56.72 271.52H57.32V270.23H56.72ZM56.11 268.94H56.72V267.64H56.11ZM54.31 267.64H54.91V265.06H54.31ZM55.51 265.06H56.11V263.76H55.51ZM54.91 259.89H55.51V258.59H54.91Z"/>
<path fill="#F28400" d="M151.66 347.8H160.08V346.51H159.48V345.21H158.88V342.63H157.67V341.34H157.07V340.04H156.47V338.75H155.27V337.46H153.47V336.16H151.66V334.87H149.86V333.58H146.86V332.29H143.25V330.99H137.84V329.7H131.83V328.41H124.62V327.11H118.01V325.82H112.6V324.53H107.19V323.24H101.79V321.94H97.58V320.65H93.37V319.36H89.77V318.06H86.76V316.77H83.76V315.48H80.75V314.19H78.35V312.89H75.95V311.6H74.14V310.31H72.34V309.01H70.54V307.72H69.34V306.43H67.53V305.14H66.33V303.84H65.13V302.55H63.93V301.26H63.33V299.96H62.12V301.26H62.72V302.55H63.33V303.84H64.53V305.14H65.73V306.43H66.93V307.72H68.13V309.01H69.34V310.31H71.14V311.6H72.94V312.89H74.74V314.19H77.15V315.48H79.55V316.77H81.95V318.06H84.96V319.36H87.96V320.65H91.57V321.94H95.18V323.24H99.38V324.53H103.59V325.82H109V327.11H114.41V328.41H120.42V329.7H126.43V330.99H130.63V332.29H134.84V333.58H137.84V334.87H140.85V336.16H143.25V337.46H145.05V338.75H146.26V340.04H147.46V341.34H148.66V342.63H149.86V343.92H150.46V345.21H151.06V346.51H151.66ZM167.89 321.94H173.9V320.65H167.89ZM167.89 320.65V319.36H157.67V318.06H148.06V316.77H139.05V318.06H147.46V319.36H157.07V320.65ZM139.05 316.77V315.48H131.23V316.77ZM131.23 315.48V314.19H124.02V315.48ZM124.02 314.19V312.89H118.01V311.6H112V312.89H117.41V314.19ZM112 311.6V310.31H106.59V311.6ZM106.59 310.31V309.01H101.79V310.31ZM101.79 309.01V307.72H96.98V309.01ZM96.98 307.72V306.43H93.37V307.72ZM93.37 306.43V305.14H89.77V306.43ZM89.77 305.14V303.84H86.16V305.14ZM86.16 303.84V302.55H83.16V303.84ZM83.16 302.55V301.26H80.75V302.55ZM80.75 301.26V299.96H78.35V301.26ZM62.12 299.96V298.67H61.52V297.38H60.92V296.09H60.32V294.79H59.72V293.5H59.12V296.09H59.72V297.38H60.32V298.67H60.92V299.96ZM78.35 299.96V298.67H75.95V299.96ZM75.95 298.67V297.38H74.14V298.67ZM74.14 297.38V296.09H72.34V297.38ZM72.34 296.09V294.79H70.54V296.09ZM70.54 294.79V293.5H68.73V294.79ZM59.12 293.5V292.21H58.52V293.5ZM68.73 293.5V292.21H67.53V293.5ZM58.52 292.21V289.62H57.92V292.21ZM67.53 292.21V290.91H66.33V292.21ZM66.33 290.91V289.62H65.13V290.91ZM57.92 289.62V288.33H57.32V289.62ZM65.13 289.62V288.33H63.93V289.62ZM57.32 288.33V285.74H56.72V288.33ZM63.93 288.33V287.04H63.33V288.33ZM63.33 287.04V285.74H62.12V287.04ZM62.12 285.74V284.45H61.52V285.74ZM61.52 284.45V283.16H60.92V284.45ZM56.11 284.45H56.72V283.16H56.11ZM60.92 283.16V281.86H60.32V283.16ZM60.32 281.86V280.57H59.72V281.86ZM59.72 280.57V279.28H59.12V280.57ZM55.51 280.57H56.11V279.28H55.51ZM59.12 279.28V277.99H58.52V279.28ZM57.92 276.69H58.52V275.4H57.92ZM57.92 275.4V274.11H57.32V275.4ZM54.91 275.4H55.51V272.81H54.91ZM56.72 272.81H57.32V271.52H56.72ZM56.11 270.23H56.72V268.94H56.11ZM54.31 266.35H54.91V263.76H54.31ZM55.51 266.35H56.11V265.06H55.51ZM54.91 259.89H55.51V258.59H54.91Z"/>
<path fill="#ED6200" d="M155.87 347.8H163.68V345.21H163.08V343.92H162.48V342.63H161.88V341.34H161.28V340.04H160.68V338.75H160.08V337.46H158.88V336.16H157.07V334.87H155.27V333.58H152.87V332.29H149.26V330.99H144.45V329.7H137.84V328.41H130.63V327.11H123.42V325.82H116.81V324.53H111.4V323.24H105.99V321.94H101.19V320.65H96.98V319.36H92.77V318.06H89.17V316.77H86.16V315.48H83.16V314.19H80.15V312.89H77.75V311.6H75.95V310.31H73.54V309.01H71.74V307.72H70.54V306.43H68.73V305.14H67.53V303.84H66.33V302.55H65.13V301.26H63.93V299.96H63.33V298.67H62.12V297.38H61.52V296.09H60.92V294.79H60.32V293.5H59.72V292.21H59.12V290.91H58.52V293.5H59.12V294.79H59.72V296.09H60.32V297.38H60.92V298.67H61.52V299.96H62.72V301.26H63.33V302.55H64.53V303.84H65.73V305.14H66.93V306.43H68.13V307.72H69.34V309.01H71.14V310.31H72.34V311.6H74.74V312.89H76.55V314.19H78.95V315.48H81.35V316.77H84.36V318.06H87.36V319.36H90.37V320.65H94.57V321.94H98.78V323.24H102.99V324.53H107.8V325.82H113.81V327.11H119.81V328.41H125.82V329.7H131.83V330.99H136.64V332.29H140.85V333.58H143.85V334.87H146.26V336.16H148.66V337.46H149.86V338.75H151.66V340.04H152.27V341.34H153.47V342.63H154.07V343.92H154.67V345.21H155.27V346.51H155.87ZM173.3 323.24H173.9V321.94H173.3ZM173.3 321.94V320.65H162.48V319.36H152.27V320.65H161.88V321.94ZM152.27 319.36V318.06H143.25V319.36ZM143.25 318.06V316.77H135.44V315.48H127.63V314.19H121.02V312.89H114.41V314.19H120.42V315.48H127.03V316.77H134.84V318.06ZM114.41 312.89V311.6H109V312.89ZM109 311.6V310.31H104.19V309.01H99.38V310.31H103.59V311.6ZM99.38 309.01V307.72H95.18V309.01ZM95.18 307.72V306.43H91.57V305.14H87.96V306.43H90.97V307.72ZM87.96 305.14V303.84H84.96V305.14ZM84.96 303.84V302.55H81.95V303.84ZM81.95 302.55V301.26H79.55V302.55ZM79.55 301.26V299.96H77.15V301.26ZM77.15 299.96V298.67H74.74V299.96ZM74.74 298.67V297.38H72.94V298.67ZM72.94 297.38V296.09H71.14V297.38ZM71.14 296.09V294.79H69.94V293.5H68.13V294.79H69.34V296.09ZM68.13 293.5V292.21H66.93V293.5ZM66.93 292.21V290.91H65.73V292.21ZM58.52 290.91V289.62H57.92V290.91ZM65.73 290.91V289.62H64.53V290.91ZM57.92 289.62V287.04H57.32V289.62ZM64.53 289.62V288.33H63.93V287.04H62.72V288.33H63.33V289.62ZM57.32 287.04V284.45H56.72V287.04ZM62.72 287.04V285.74H62.12V287.04ZM62.12 285.74V284.45H60.92V285.74ZM60.92 284.45V283.16H60.32V284.45ZM60.32 283.16V281.86H59.72V283.16ZM56.11 283.16H56.72V281.86H56.11ZM59.72 281.86V280.57H59.12V281.86ZM55.51 279.28H56.11V277.99H55.51ZM58.52 279.28H59.12V277.99H58.52ZM58.52 277.99V276.69H57.92V277.99ZM57.32 275.4H57.92V274.11H57.32ZM54.91 274.11H55.51V272.81H54.91ZM56.72 272.81H57.32V271.52H56.72ZM56.11 270.23H56.72V268.94H56.11ZM55.51 266.35H56.11V265.06H55.51ZM54.31 265.06H54.91V263.76H54.31ZM54.91 261.18H55.51V259.89H54.91Z"/>
<path fill="#E13C00" d="M160.08 347.8H167.29V345.21H166.69V342.63H166.09V341.34H165.49V338.75H164.28V337.46H163.68V336.16H162.48V334.87H161.28V333.58H158.88V332.29H156.47V330.99H151.66V329.7H145.05V328.41H137.24V327.11H129.43V325.82H122.22V324.53H116.21V323.24H110.2V321.94H105.39V320.65H100.58V319.36H96.38V318.06H92.17V316.77H88.57V315.48H85.56V314.19H82.56V312.89H80.15V311.6H77.75V310.31H75.34V309.01H73.54V307.72H71.74V306.43H69.94V305.14H68.73V303.84H66.93V302.55H65.73V301.26H65.13V299.96H63.93V298.67H62.72V297.38H62.12V296.09H61.52V294.79H60.92V293.5H60.32V292.21H59.72V290.91H59.12V289.62H58.52V292.21H59.12V293.5H59.72V294.79H60.32V296.09H60.92V297.38H61.52V298.67H62.12V299.96H63.33V301.26H63.93V302.55H65.13V303.84H66.33V305.14H67.53V306.43H69.34V307.72H70.54V309.01H72.34V310.31H74.14V311.6H75.95V312.89H78.35V314.19H80.75V315.48H83.76V316.77H86.76V318.06H89.77V319.36H93.37V320.65H97.58V321.94H101.79V323.24H107.19V324.53H112.6V325.82H118.01V327.11H124.62V328.41H131.83V329.7H137.84V330.99H143.25V332.29H146.86V333.58H149.86V334.87H151.66V336.16H153.47V337.46H155.27V338.75H156.47V340.04H157.07V341.34H157.67V342.63H158.88V345.21H159.48V346.51H160.08ZM166.09 323.24H173.9V321.94H167.89V320.65H157.07V319.36H147.46V318.06H139.05V316.77H131.23V315.48H124.02V314.19H117.41V312.89H112V311.6H106.59V310.31H101.79V309.01H96.98V307.72H93.37V306.43H89.77V305.14H86.16V306.43H89.17V307.72H92.77V309.01H96.38V310.31H101.19V311.6H105.99V312.89H110.8V314.19H116.81V315.48H123.42V316.77H130.03V318.06H137.84V319.36H146.86V320.65H155.87V321.94H166.09ZM86.16 305.14V303.84H83.16V305.14ZM83.16 303.84V302.55H80.75V301.26H78.35V299.96H75.95V301.26H77.75V302.55H80.15V303.84ZM75.95 299.96V298.67H74.14V297.38H72.34V296.09H70.54V294.79H68.73V296.09H69.94V297.38H71.74V298.67H73.54V299.96ZM68.73 294.79V293.5H67.53V294.79ZM67.53 293.5V292.21H66.33V293.5ZM66.33 292.21V290.91H65.13V292.21ZM65.13 290.91V289.62H63.93V290.91ZM58.52 289.62V288.33H57.92V289.62ZM63.93 289.62V288.33H63.33V289.62ZM57.92 288.33V285.74H57.32V288.33ZM63.33 288.33V287.04H62.12V288.33ZM62.12 287.04V285.74H61.52V287.04ZM57.32 285.74V283.16H56.72V285.74ZM61.52 285.74V284.45H60.92V285.74ZM60.92 284.45V283.16H60.32V284.45ZM56.72 283.16V280.57H56.11V283.16ZM60.32 283.16V281.86H59.72V283.16ZM59.72 281.86V280.57H59.12V281.86ZM59.12 280.57V279.28H58.52V280.57ZM58.52 279.28V276.69H57.92V279.28ZM55.51 279.28H56.11V276.69H55.51ZM57.92 276.69V275.4H57.32V276.69ZM56.72 274.11H57.32V272.81H56.72ZM54.91 272.81H55.51V271.52H54.91ZM56.11 271.52H56.72V270.23H56.11ZM55.51 267.64H56.11V266.35H55.51ZM54.31 263.76H54.91V262.47H54.31ZM54.91 261.18H55.51V259.89H54.91Z"/>
<path fill="#C32200" d="M163.68 347.8H170.29V342.63H169.69V338.75H169.09V337.46H168.49V336.16H167.89V334.87H167.29V333.58H166.09V332.29H164.28V330.99H160.68V329.7H154.67V328.41H145.66V327.11H137.24V325.82H129.43V324.53H122.22V323.24H116.21V321.94H110.2V320.65H105.39V319.36H100.58V318.06H96.38V316.77H92.17V315.48H88.57V314.19H85.56V312.89H82.56V311.6H80.15V310.31H77.75V309.01H75.34V307.72H73.54V306.43H71.74V305.14H69.94V303.84H68.73V302.55H66.93V301.26H65.73V299.96H65.13V298.67H63.93V297.38H62.72V296.09H62.12V294.79H61.52V293.5H60.92V292.21H60.32V290.91H59.72V289.62H59.12V288.33H58.52V287.04H57.92V289.62H58.52V290.91H59.12V292.21H59.72V293.5H60.32V294.79H60.92V296.09H61.52V297.38H62.12V298.67H63.33V299.96H63.93V301.26H65.13V302.55H66.33V303.84H67.53V305.14H68.73V306.43H70.54V307.72H71.74V309.01H73.54V310.31H75.95V311.6H77.75V312.89H80.15V314.19H83.16V315.48H86.16V316.77H89.17V318.06H92.77V319.36H96.98V320.65H101.19V321.94H105.99V323.24H111.4V324.53H116.81V325.82H123.42V327.11H130.63V328.41H137.84V329.7H144.45V330.99H149.26V332.29H152.87V333.58H155.27V334.87H157.07V336.16H158.88V337.46H160.08V338.75H160.68V340.04H161.28V341.34H161.88V342.63H162.48V343.92H163.08V345.21H163.68ZM169.09 324.53H173.9V323.24H173.3V321.94H161.88V320.65H152.27V319.36H143.25V318.06H134.84V316.77H127.03V315.48H120.42V314.19H114.41V312.89H109V311.6H103.59V310.31H99.38V309.01H95.18V307.72H90.97V306.43H87.96V305.14H84.96V303.84H81.95V302.55H79.55V301.26H77.15V299.96H74.74V298.67H72.94V297.38H71.14V296.09H69.34V297.38H70.54V298.67H72.34V299.96H74.14V301.26H75.95V302.55H78.35V303.84H80.75V305.14H83.76V306.43H86.76V307.72H89.77V309.01H93.97V310.31H97.58V311.6H102.39V312.89H107.19V314.19H112.6V315.48H118.61V316.77H125.22V318.06H132.43V319.36H140.25V320.65H149.26V321.94H158.88V323.24H169.09ZM69.34 296.09V294.79H68.13V293.5H66.93V292.21H65.73V290.91H64.53V292.21H65.13V293.5H66.33V294.79H67.53V296.09ZM64.53 290.91V289.62H63.33V290.91ZM63.33 289.62V288.33H62.72V289.62ZM62.72 288.33V287.04H62.12V285.74H60.92V287.04H61.52V288.33ZM57.92 287.04V284.45H57.32V287.04ZM60.92 285.74V284.45H60.32V285.74ZM57.32 284.45V281.86H56.72V284.45ZM60.32 284.45V283.16H59.72V284.45ZM59.72 283.16V281.86H59.12V283.16ZM56.72 281.86V279.28H56.11V281.86ZM59.12 281.86V279.28H58.52V281.86ZM58.52 279.28V277.99H57.92V279.28ZM57.92 277.99V275.4H57.32V277.99ZM55.51 277.99H56.11V275.4H55.51ZM57.32 275.4V272.81H56.72V275.4ZM56.72 272.81V270.23H56.11V272.81ZM54.91 272.81H55.51V270.23H54.91ZM55.51 267.64H56.11V266.35H55.51ZM54.31 263.76H54.91V262.47H54.31Z"/>
<path fill="#A20706" d="M167.29 347.8H173.9V323.24H166.09V321.94H155.87V320.65H146.86V319.36H137.84V318.06H130.03V316.77H123.42V315.48H116.81V314.19H110.8V312.89H105.99V311.6H101.19V310.31H96.38V309.01H92.77V307.72H89.17V306.43H86.16V305.14H83.16V303.84H80.15V302.55H77.75V301.26H75.95V299.96H73.54V298.67H71.74V297.38H69.94V296.09H68.73V294.79H67.53V293.5H66.33V292.21H65.13V290.91H63.93V289.62H63.33V288.33H62.12V287.04H61.52V285.74H60.92V284.45H60.32V283.16H59.72V281.86H59.12V280.57H58.52V279.28H57.92V276.69H57.32V274.11H56.72V271.52H56.11V267.64H55.51V261.18H54.91V257.3H54.31V262.47H54.91V271.52H55.51V276.69H56.11V280.57H56.72V283.16H57.32V285.74H57.92V288.33H58.52V289.62H59.12V290.91H59.72V292.21H60.32V293.5H60.92V294.79H61.52V296.09H62.12V297.38H62.72V298.67H63.93V299.96H65.13V301.26H65.73V302.55H66.93V303.84H68.73V305.14H69.94V306.43H71.74V307.72H73.54V309.01H75.34V310.31H77.75V311.6H80.15V312.89H82.56V314.19H85.56V315.48H88.57V316.77H92.17V318.06H96.38V319.36H100.58V320.65H105.39V321.94H110.2V323.24H116.21V324.53H122.22V325.82H129.43V327.11H137.24V328.41H145.05V329.7H151.66V330.99H156.47V332.29H158.88V333.58H161.28V334.87H162.48V336.16H163.68V337.46H164.28V338.75H165.49V341.34H166.09V342.63H166.69V345.21H167.29Z"/>
<path fill="#7D0025" d="M170.29 347.8H173.9V324.53H169.09V323.24H158.88V321.94H149.26V320.65H140.25V319.36H132.43V318.06H125.22V316.77H118.61V315.48H112.6V314.19H107.19V312.89H102.39V311.6H97.58V310.31H93.97V309.01H89.77V307.72H86.76V306.43H83.76V305.14H80.75V303.84H78.35V302.55H75.95V301.26H74.14V299.96H72.34V298.67H70.54V297.38H69.34V296.09H67.53V294.79H66.33V293.5H65.13V292.21H64.53V290.91H63.33V289.62H62.72V288.33H61.52V287.04H60.92V285.74H60.32V284.45H59.72V283.16H59.12V281.86H58.52V279.28H57.92V277.99H57.32V275.4H56.72V272.81H56.11V267.64H55.51V261.18H54.91V257.3H54.31V262.47H54.91V270.23H55.51V275.4H56.11V279.28H56.72V281.86H57.32V284.45H57.92V287.04H58.52V288.33H59.12V289.62H59.72V290.91H60.32V292.21H60.92V293.5H61.52V294.79H62.12V296.09H62.72V297.38H63.93V298.67H65.13V299.96H65.73V301.26H66.93V302.55H68.73V303.84H69.94V305.14H71.74V306.43H73.54V307.72H75.34V309.01H77.75V310.31H80.15V311.6H82.56V312.89H85.56V314.19H88.57V315.48H92.17V316.77H96.38V318.06H100.58V319.36H105.39V320.65H110.2V321.94H116.21V323.24H122.22V324.53H129.43V325.82H137.24V327.11H145.66V328.41H154.67V329.7H160.68V330.99H164.28V332.29H166.09V333.58H167.29V334.87H167.89V336.16H168.49V337.46H169.09V338.75H169.69V342.63H170.29Z"/>
</g></g>
<rect x="47.1" y="257.3" width="126.8" height="90.5" fill="none" stroke="#000" stroke-opacity="0.55" stroke-width="0.7"/>
<text x="53.56" y="370" font-size="10" text-anchor="middle">0</text>
<text x="77.6" y="370" font-size="10" text-anchor="middle">2</text>
<text x="101.64" y="370" font-size="10" text-anchor="middle">4</text>
<text x="125.67" y="370" font-size="10" text-anchor="middle">6</text>
<text x="149.71" y="370" font-size="10" text-anchor="middle">8</text>
<text x="173.75" y="370" font-size="10" text-anchor="middle">10</text>
<text x="33.3" y="336.12" font-size="10" text-anchor="middle" transform="rotate(-90 33.3 336.12)">10</text>
<text x="33.3" y="310.26" font-size="10" text-anchor="middle" transform="rotate(-90 33.3 310.26)">30</text>
<text x="33.3" y="284.4" font-size="10" text-anchor="middle" transform="rotate(-90 33.3 284.4)">50</text>
<text x="33.3" y="258.55" font-size="10" text-anchor="middle" transform="rotate(-90 33.3 258.55)">70</text>
<text x="110.5" y="393.6" font-size="10" text-anchor="middle">time</text>
<text x="9.7" y="303.05" font-size="10" text-anchor="middle" transform="rotate(-90 9.7 303.05)">Cell number</text>
<text x="110.5" y="238" font-size="12" text-anchor="middle" font-weight="bold">Inverse Past</text>
<g clip-path="url(#c4)"><g filter="url(#soft)" fill-rule="evenodd">
<rect x="230.5" y="254.3" width="132.9" height="96.5" fill="#FFFFC8"/>
<path fill="#FFF4B7" d="M280.41 347.8H300.86V346.51H301.46V345.21H302.66V343.92H303.26V342.63H304.47V341.34H306.27V340.04H307.47V338.75H309.28V337.46H311.08V336.16H312.89V334.87H315.29V333.58H317.7V332.29H320.71V330.99H323.71V329.7H326.72V328.41H329.73V327.11H332.73V325.82H335.14V324.53H337.55V323.24H339.95V321.94H341.76V320.65H343.56V319.36H344.76V318.06H346.57V316.77H347.77V315.48H348.97V314.19H350.18V312.89H350.78V311.6H351.98V310.31H352.58V309.01H353.18V307.72H354.39V306.43H354.99V303.84H355.59V302.55H356.19V301.26H356.79V298.67H357.39V296.09H357.99V293.5H358.6V289.62H359.2V284.45H358.6V288.33H357.99V292.21H357.39V293.5H356.79V296.09H356.19V297.38H355.59V299.96H354.99V301.26H354.39V302.55H353.78V303.84H352.58V305.14H351.98V306.43H351.38V307.72H350.18V309.01H348.97V310.31H347.77V311.6H346.57V312.89H345.36V314.19H343.56V315.48H341.76V316.77H339.95V318.06H337.55V319.36H335.74V320.65H332.73V321.94H330.33V323.24H326.72V324.53H323.71V325.82H319.5V327.11H315.89V328.41H311.08V329.7H306.87V330.99H302.66V332.29H299.05V333.58H296.05V334.87H293.64V336.16H291.24V337.46H288.83V338.75H287.03V340.04H285.82V341.34H284.02V342.63H282.82V343.92H282.22V345.21H281.01V346.51H280.41ZM240.72 318.06H249.74V316.77H259.96V315.48H269.59V314.19H278.01V312.89H285.22V311.6H292.44V310.31H298.45V309.01H304.47V307.72H309.88V306.43H314.09V305.14H318.9V303.84H322.51V302.55H326.12V301.26H329.13V299.96H332.13V298.67H334.54V297.38H336.94V296.09H339.35V294.79H341.15V293.5H342.96V292.21H344.76V290.91H345.97V289.62H347.77V288.33H348.97V287.04H349.57V285.74H350.78V284.45H351.98V283.16H352.58V281.86H353.18V280.57H353.78V279.28H354.39V277.99H353.18V279.28H352.58V280.57H351.98V281.86H350.78V283.16H350.18V284.45H348.97V285.74H347.77V287.04H346.57V288.33H344.76V289.62H343.56V290.91H341.76V292.21H339.35V293.5H337.55V294.79H335.14V296.09H332.73V297.38H329.73V298.67H326.72V299.96H323.11V301.26H318.9V302.55H314.69V303.84H310.48V305.14H305.07V306.43H299.66V307.72H293.04V309.01H286.43V310.31H279.21V311.6H270.79V312.89H261.17V314.19H251.54V315.48H240.72ZM359.2 284.45H359.8V279.28H359.2ZM354.39 277.99H354.99V276.69H354.39ZM354.99 276.69H355.59V275.4H356.19V274.11H356.79V271.52H356.19V272.81H355.59V274.11H354.99ZM359.8 275.4H360.4V270.23H359.8ZM356.79 271.52H357.39V268.94H356.79ZM357.39 268.94H357.99V266.35H357.39ZM357.99 266.35H358.6V263.76H357.99ZM358.6 262.47H359.2V259.89H358.6Z"/>
<path fill="#FBE49A" d="M273.8 347.8H288.83V346.51H289.43V345.21H290.64V343.92H291.24V342.63H292.44V341.34H294.24V340.04H295.45V338.75H297.25V337.46H299.66V336.16H302.06V334.87H304.47V333.58H307.47V332.29H310.48V330.99H314.09V329.7H317.7V328.41H321.91V327.11H325.52V325.82H328.52V324.53H331.53V323.24H334.54V321.94H336.94V320.65H338.75V319.36H341.15V318.06H342.96V316.77H344.16V315.48H345.97V314.19H347.17V312.89H348.37V311.6H349.57V310.31H350.78V309.01H351.38V307.72H352.58V306.43H353.18V305.14H353.78V303.84H354.39V302.55H354.99V301.26H355.59V299.96H356.19V298.67H356.79V296.09H357.39V293.5H357.99V290.91H358.6V287.04H357.99V289.62H357.39V292.21H356.79V294.79H356.19V296.09H355.59V297.38H354.99V299.96H354.39V301.26H353.18V302.55H352.58V303.84H351.98V305.14H350.78V306.43H350.18V307.72H348.97V309.01H347.77V310.31H346.57V311.6H344.76V312.89H343.56V314.19H341.76V315.48H339.35V316.77H337.55V318.06H335.14V319.36H332.73V320.65H329.73V321.94H326.12V323.24H323.11V324.53H318.9V325.82H314.69V327.11H310.48V328.41H305.07V329.7H300.26V330.99H296.05V332.29H292.44V333.58H288.83V334.87H286.43V336.16H284.02V337.46H281.61V338.75H279.81V340.04H278.61V341.34H277.4V342.63H276.2V343.92H275V345.21H274.4V346.51H273.8ZM240.72 319.36H245.53V318.06H256.35V316.77H265.98V315.48H275V314.19H282.82V312.89H290.03V311.6H296.65V310.31H302.06V309.01H307.47V307.72H312.89V306.43H317.1V305.14H321.31V303.84H324.92V302.55H327.92V301.26H330.93V299.96H333.94V298.67H336.34V297.38H338.75V296.09H340.55V294.79H342.36V293.5H344.16V292.21H345.97V290.91H347.17V289.62H348.37V288.33H349.57V287.04H350.78V285.74H351.38V284.45H350.18V285.74H348.97V287.04H347.77V288.33H346.57V289.62H345.36V290.91H343.56V292.21H341.76V293.5H339.95V294.79H337.55V296.09H335.14V297.38H332.73V298.67H329.73V299.96H326.72V301.26H323.11V302.55H319.5V303.84H315.29V305.14H310.48V306.43H305.67V307.72H300.26V309.01H293.64V310.31H287.03V311.6H279.81V312.89H271.39V314.19H262.37V315.48H252.14V316.77H241.32V318.06H240.72ZM358.6 287.04H359.2V283.16H358.6ZM351.38 284.45H352.58V283.16H353.18V281.86H353.78V280.57H352.58V281.86H351.98V283.16H351.38ZM353.78 280.57H354.39V279.28H353.78ZM359.2 281.86H359.8V277.99H359.2ZM354.39 279.28H354.99V277.99H354.39ZM354.99 277.99H355.59V276.69H354.99ZM355.59 276.69H356.19V274.11H355.59ZM356.19 274.11H356.79V272.81H356.19ZM356.79 272.81H357.39V270.23H356.79ZM357.39 270.23H357.99V267.64H357.39ZM359.8 271.52H360.4V268.94H359.8ZM357.99 267.64H358.6V265.06H357.99ZM358.6 262.47H359.2V261.18H358.6Z"/>
<path fill="#F8D074" d="M267.78 347.8H280.41V346.51H281.01V345.21H282.22V343.92H282.82V342.63H284.02V341.34H285.82V340.04H287.03V338.75H288.83V337.46H291.24V336.16H293.64V334.87H296.05V333.58H299.05V332.29H302.66V330.99H306.87V329.7H311.08V328.41H315.89V327.11H319.5V325.82H323.71V324.53H326.72V323.24H330.33V321.94H332.73V320.65H335.74V319.36H337.55V318.06H339.95V316.77H341.76V315.48H343.56V314.19H345.36V312.89H346.57V311.6H347.77V310.31H348.97V309.01H350.18V307.72H351.38V306.43H351.98V305.14H352.58V303.84H353.78V302.55H354.39V301.26H354.99V299.96H355.59V297.38H356.19V296.09H356.79V293.5H356.19V294.79H355.59V296.09H354.99V298.67H354.39V299.96H353.18V301.26H352.58V302.55H351.98V303.84H350.78V305.14H350.18V306.43H348.97V307.72H347.77V309.01H346.57V310.31H344.76V311.6H343.56V312.89H341.76V314.19H339.35V315.48H337.55V316.77H335.14V318.06H332.73V319.36H329.73V320.65H326.72V321.94H323.11V323.24H318.9V324.53H314.69V325.82H310.48V327.11H305.07V328.41H299.66V329.7H294.24V330.99H290.03V332.29H285.82V333.58H282.82V334.87H279.81V336.16H277.4V337.46H275.6V338.75H273.8V340.04H272.59V341.34H271.39V342.63H270.19V343.92H269.59V345.21H268.38V346.51H267.78ZM240.72 319.36H251.54V318.06H261.77V316.77H270.79V315.48H279.21V314.19H287.03V312.89H293.64V311.6H299.66V310.31H305.67V309.01H310.48V307.72H315.29V306.43H319.5V305.14H323.11V303.84H326.72V302.55H329.73V301.26H332.73V299.96H335.14V298.67H337.55V297.38H339.95V296.09H341.76V294.79H343.56V293.5H344.76V292.21H342.96V293.5H341.15V294.79H339.35V296.09H336.94V297.38H334.54V298.67H332.13V299.96H329.13V301.26H326.12V302.55H322.51V303.84H318.9V305.14H314.09V306.43H309.88V307.72H304.47V309.01H298.45V310.31H292.44V311.6H285.22V312.89H278.01V314.19H269.59V315.48H259.96V316.77H249.74V318.06H240.72ZM356.79 293.5H357.39V292.21H357.99V288.33H357.39V290.91H356.79ZM344.76 292.21H346.57V290.91H347.77V289.62H345.97V290.91H344.76ZM347.77 289.62H348.97V288.33H347.77ZM348.97 288.33H350.18V287.04H350.78V285.74H349.57V287.04H348.97ZM357.99 288.33H358.6V285.74H357.99ZM350.78 285.74H351.98V284.45H350.78ZM351.98 284.45H352.58V283.16H351.98ZM352.58 283.16H353.18V281.86H352.58ZM358.6 284.45H359.2V281.86H358.6ZM353.18 281.86H354.39V280.57H354.99V279.28H355.59V276.69H354.99V277.99H354.39V279.28H353.78V280.57H353.18ZM359.2 279.28H359.8V276.69H359.2ZM355.59 276.69H356.19V275.4H355.59ZM356.19 275.4H356.79V274.11H356.19ZM356.79 272.81H357.39V271.52H356.79ZM357.39 270.23H357.99V268.94H357.39ZM359.8 270.23H360.4V267.64H359.8ZM357.99 267.64H358.6V266.35H357.99ZM358.6 263.76H359.2V262.47H358.6ZM359.2 258.59H359.8V257.3H359.2Z"/>
<path fill="#F7BA3C" d="M262.97 347.8H273.8V346.51H274.4V345.21H275V343.92H276.2V342.63H277.4V341.34H278.61V340.04H279.81V338.75H281.61V337.46H284.02V336.16H286.43V334.87H288.83V333.58H292.44V332.29H296.05V330.99H300.26V329.7H305.07V328.41H310.48V327.11H314.69V325.82H318.9V324.53H323.11V323.24H326.12V321.94H329.73V320.65H332.73V319.36H335.14V318.06H337.55V316.77H339.35V315.48H341.76V314.19H343.56V312.89H344.76V311.6H346.57V310.31H347.77V309.01H348.97V307.72H350.18V306.43H350.78V305.14H351.98V303.84H352.58V302.55H353.18V301.26H354.39V299.96H354.99V297.38H354.39V298.67H353.78V299.96H352.58V301.26H351.98V302.55H351.38V303.84H350.18V305.14H348.97V306.43H347.77V307.72H346.57V309.01H345.36V310.31H343.56V311.6H341.76V312.89H339.95V314.19H337.55V315.48H335.14V316.77H332.73V318.06H329.73V319.36H326.72V320.65H323.11V321.94H319.5V323.24H315.29V324.53H311.08V325.82H305.67V327.11H300.26V328.41H294.24V329.7H288.23V330.99H284.02V332.29H279.81V333.58H276.8V334.87H273.8V336.16H271.39V337.46H269.59V338.75H268.38V340.04H267.18V341.34H265.98V342.63H264.77V343.92H264.17V345.21H263.57V346.51H262.97ZM240.72 320.65H246.73V319.36H256.96V318.06H266.58V316.77H275.6V315.48H283.42V314.19H290.64V312.89H296.65V311.6H290.03V312.89H282.82V314.19H275V315.48H265.98V316.77H256.35V318.06H245.53V319.36H240.72ZM296.65 311.6H302.66V310.31H308.08V309.01H312.89V307.72H307.47V309.01H302.06V310.31H296.65ZM312.89 307.72H317.7V306.43H321.31V305.14H317.1V306.43H312.89ZM321.31 305.14H324.92V303.84H321.31ZM324.92 303.84H328.52V302.55H331.53V301.26H333.94V299.96H330.93V301.26H327.92V302.55H324.92ZM333.94 299.96H336.34V298.67H333.94ZM336.34 298.67H338.75V297.38H336.34ZM338.75 297.38H340.55V296.09H338.75ZM354.99 297.38H355.59V296.09H354.99ZM340.55 296.09H342.36V294.79H340.55ZM355.59 296.09H356.19V294.79H356.79V292.21H356.19V293.5H355.59ZM342.36 294.79H344.16V293.5H342.36ZM344.16 293.5H345.97V292.21H344.16ZM345.97 292.21H347.17V290.91H345.97ZM356.79 292.21H357.39V289.62H356.79ZM347.17 290.91H348.37V289.62H347.17ZM348.37 289.62H349.57V288.33H348.37ZM357.39 289.62H357.99V288.33H357.39ZM349.57 288.33H350.78V287.04H349.57ZM350.78 287.04H351.38V285.74H350.78ZM351.38 285.74H352.58V284.45H351.38ZM357.99 287.04H358.6V284.45H357.99ZM352.58 284.45H353.18V283.16H352.58ZM353.18 283.16H353.78V281.86H353.18ZM353.78 281.86H354.39V280.57H353.78ZM358.6 283.16H359.2V280.57H358.6ZM354.39 280.57H354.99V279.28H354.39ZM354.99 279.28H355.59V277.99H354.99ZM355.59 277.99H356.19V276.69H355.59ZM359.2 277.99H359.8V275.4H359.2ZM356.19 275.4H356.79V274.11H356.19ZM356.79 274.11H357.39V272.81H356.79ZM357.39 271.52H357.99V270.23H357.39ZM357.99 268.94H358.6V267.64H357.99ZM359.8 268.94H360.4V266.35H359.8ZM358.6 265.06H359.2V262.47H358.6ZM359.2 258.59H359.8V257.3H359.2Z"/>
<path fill="#F5A100" d="M258.76 347.8H267.78V346.51H268.38V345.21H269.59V343.92H270.19V342.63H271.39V341.34H272.59V340.04H273.8V338.75H275.6V337.46H277.4V336.16H279.81V334.87H282.82V333.58H285.82V332.29H290.03V330.99H294.24V329.7H299.66V328.41H305.07V327.11H310.48V325.82H314.69V324.53H318.9V323.24H323.11V321.94H326.72V320.65H329.73V319.36H332.73V318.06H335.14V316.77H337.55V315.48H339.35V314.19H341.76V312.89H343.56V311.6H344.76V310.31H346.57V309.01H347.77V307.72H348.97V306.43H350.18V305.14H350.78V303.84H351.98V302.55H352.58V301.26H353.18V299.96H351.98V301.26H351.38V302.55H350.18V303.84H348.97V305.14H347.77V306.43H346.57V307.72H345.36V309.01H343.56V310.31H342.36V311.6H339.95V312.89H338.15V314.19H335.74V315.48H333.34V316.77H330.33V318.06H327.32V319.36H324.31V320.65H320.1V321.94H315.89V323.24H311.68V324.53H306.87V325.82H300.86V327.11H294.85V328.41H288.83V329.7H282.82V330.99H278.01V332.29H273.8V333.58H270.79V334.87H268.38V336.16H265.98V337.46H264.77V338.75H262.97V340.04H262.37V341.34H261.17V342.63H260.56V343.92H259.96V345.21H259.36V346.51H258.76ZM240.72 321.94H241.32V320.65H252.14V319.36H262.37V318.06H271.39V316.77H279.21V315.48H270.79V316.77H261.77V318.06H251.54V319.36H240.72ZM279.21 315.48H287.03V314.19H279.21ZM287.03 314.19H293.64V312.89H287.03ZM293.64 312.89H300.26V311.6H305.67V310.31H299.66V311.6H293.64ZM305.67 310.31H310.48V309.01H305.67ZM310.48 309.01H315.29V307.72H310.48ZM315.29 307.72H319.5V306.43H315.29ZM319.5 306.43H323.11V305.14H319.5ZM323.11 305.14H326.72V303.84H323.11ZM326.72 303.84H329.73V302.55H326.72ZM329.73 302.55H332.73V301.26H329.73ZM332.73 301.26H335.14V299.96H332.73ZM335.14 299.96H337.55V298.67H335.14ZM353.18 299.96H354.39V298.67H354.99V296.09H354.39V297.38H353.78V298.67H353.18ZM337.55 298.67H339.95V297.38H337.55ZM339.95 297.38H341.76V296.09H339.95ZM341.76 296.09H343.56V294.79H341.76ZM354.99 296.09H355.59V294.79H354.99ZM343.56 294.79H344.76V293.5H343.56ZM355.59 294.79H356.19V293.5H355.59ZM344.76 293.5H346.57V292.21H344.76ZM356.19 293.5H356.79V290.91H356.19ZM346.57 292.21H347.77V290.91H346.57ZM347.77 290.91H348.97V289.62H347.77ZM356.79 290.91H357.39V289.62H356.79ZM348.97 289.62H350.18V288.33H348.97ZM350.18 288.33H350.78V287.04H350.18ZM350.78 287.04H351.98V285.74H350.78ZM357.39 288.33H357.99V287.04H357.39ZM351.98 285.74H352.58V284.45H351.98ZM352.58 284.45H353.78V283.16H354.39V281.86H353.18V283.16H352.58ZM357.99 285.74H358.6V283.16H357.99ZM354.39 281.86H354.99V280.57H354.39ZM354.99 280.57H355.59V279.28H354.99ZM358.6 281.86H359.2V279.28H358.6ZM355.59 277.99H356.19V276.69H355.59ZM356.19 276.69H356.79V275.4H356.19ZM359.2 276.69H359.8V274.11H359.2ZM356.79 274.11H357.39V272.81H356.79ZM357.39 271.52H357.99V270.23H357.39ZM357.99 268.94H358.6V267.64H357.99ZM359.8 267.64H360.4V265.06H359.8ZM358.6 265.06H359.2V263.76H358.6ZM359.2 259.89H359.8V258.59H359.2Z"/>
<path fill="#F28400" d="M254.55 347.8H262.97V346.51H263.57V345.21H264.17V343.92H264.77V342.63H265.98V341.34H267.18V340.04H268.38V338.75H269.59V337.46H271.39V336.16H273.8V334.87H276.8V333.58H279.81V332.29H284.02V330.99H288.23V329.7H294.24V328.41H300.26V327.11H305.67V325.82H311.08V324.53H315.29V323.24H319.5V321.94H323.11V320.65H326.72V319.36H329.73V318.06H332.73V316.77H335.14V315.48H337.55V314.19H339.95V312.89H341.76V311.6H343.56V310.31H345.36V309.01H346.57V307.72H347.77V306.43H348.97V305.14H350.18V303.84H351.38V302.55H351.98V301.26H352.58V299.96H351.38V301.26H350.78V302.55H349.57V303.84H348.37V305.14H347.17V306.43H345.36V307.72H344.16V309.01H342.36V310.31H340.55V311.6H338.75V312.89H336.34V314.19H333.94V315.48H330.93V316.77H327.92V318.06H324.92V319.36H321.31V320.65H317.1V321.94H312.89V323.24H307.47V324.53H302.06V325.82H296.65V327.11H290.03V328.41H282.82V329.7H276.8V330.99H271.39V332.29H267.78V333.58H264.77V334.87H262.97V336.16H261.17V337.46H259.36V338.75H258.16V340.04H257.56V341.34H256.96V342.63H255.75V345.21H255.15V346.51H254.55ZM240.72 321.94H246.73V320.65H240.72ZM246.73 320.65H257.56V319.36H267.18V318.06H275.6V316.77H266.58V318.06H256.96V319.36H246.73ZM275.6 316.77H283.42V315.48H275.6ZM283.42 315.48H290.64V314.19H283.42ZM290.64 314.19H297.25V312.89H302.66V311.6H296.65V312.89H290.64ZM302.66 311.6H308.08V310.31H302.66ZM308.08 310.31H312.89V309.01H308.08ZM312.89 309.01H317.7V307.72H312.89ZM317.7 307.72H321.31V306.43H317.7ZM321.31 306.43H324.92V305.14H321.31ZM324.92 305.14H328.52V303.84H324.92ZM328.52 303.84H331.53V302.55H328.52ZM331.53 302.55H333.94V301.26H331.53ZM333.94 301.26H336.34V299.96H333.94ZM336.34 299.96H338.75V298.67H336.34ZM352.58 299.96H353.78V298.67H354.39V297.38H354.99V296.09H355.59V293.5H354.99V294.79H354.39V296.09H353.78V297.38H353.18V298.67H352.58ZM338.75 298.67H340.55V297.38H338.75ZM340.55 297.38H342.36V296.09H340.55ZM342.36 296.09H344.16V294.79H342.36ZM344.16 294.79H345.97V293.5H344.16ZM345.97 293.5H347.17V292.21H345.97ZM355.59 293.5H356.19V292.21H355.59ZM347.17 292.21H348.37V290.91H347.17ZM356.19 292.21H356.79V289.62H356.19ZM348.37 290.91H349.57V289.62H348.37ZM349.57 289.62H350.78V288.33H349.57ZM356.79 289.62H357.39V288.33H356.79ZM350.78 288.33H351.38V287.04H350.78ZM357.39 288.33H357.99V285.74H357.39ZM351.38 287.04H352.58V285.74H351.38ZM352.58 285.74H353.18V284.45H352.58ZM353.18 284.45H353.78V283.16H353.18ZM353.78 283.16H354.39V281.86H353.78ZM357.99 284.45H358.6V283.16H357.99ZM354.39 281.86H354.99V280.57H354.39ZM354.99 280.57H355.59V279.28H354.99ZM355.59 279.28H356.19V277.99H355.59ZM358.6 280.57H359.2V279.28H358.6ZM356.19 276.69H356.79V275.4H356.19ZM356.79 275.4H357.39V274.11H356.79ZM359.2 275.4H359.8V272.81H359.2ZM357.39 272.81H357.99V271.52H357.39ZM357.99 270.23H358.6V268.94H357.99ZM358.6 266.35H359.2V265.06H358.6ZM359.8 266.35H360.4V263.76H359.8ZM359.2 259.89H359.8V258.59H359.2Z"/>
<path fill="#ED6200" d="M250.94 347.8H258.76V346.51H259.36V345.21H259.96V343.92H260.56V342.63H261.17V341.34H262.37V340.04H262.97V338.75H264.77V337.46H265.98V336.16H268.38V334.87H270.79V333.58H273.8V332.29H278.01V330.99H282.82V329.7H288.83V328.41H294.85V327.11H300.86V325.82H306.87V324.53H311.68V323.24H315.89V321.94H320.1V320.65H324.31V319.36H327.32V318.06H330.33V316.77H333.34V315.48H335.74V314.19H338.15V312.89H339.95V311.6H342.36V310.31H343.56V309.01H345.36V307.72H346.57V306.43H347.77V305.14H348.97V303.84H350.18V302.55H351.38V301.26H351.98V299.96H353.18V298.67H353.78V297.38H354.39V296.09H354.99V294.79H355.59V293.5H356.19V290.91H355.59V292.21H354.99V293.5H354.39V294.79H353.78V296.09H353.18V297.38H352.58V298.67H351.38V299.96H350.78V301.26H349.57V302.55H348.37V303.84H347.17V305.14H345.97V306.43H344.16V307.72H342.96V309.01H341.15V310.31H338.75V311.6H336.94V312.89H334.54V314.19H331.53V315.48H328.52V316.77H325.52V318.06H321.91V319.36H317.7V320.65H313.49V321.94H308.68V323.24H303.26V324.53H297.85V325.82H291.24V327.11H284.02V328.41H276.8V329.7H270.19V330.99H265.38V332.29H261.77V333.58H259.36V334.87H257.56V336.16H255.75V337.46H254.55V338.75H253.95V340.04H253.35V341.34H252.75V342.63H252.14V343.92H251.54V345.21H250.94ZM240.72 323.24H241.32V321.94H240.72ZM241.32 321.94H252.75V320.65H262.37V319.36H252.14V320.65H241.32ZM262.37 319.36H271.39V318.06H262.37ZM271.39 318.06H279.81V316.77H287.63V315.48H294.24V314.19H300.26V312.89H293.64V314.19H287.03V315.48H279.21V316.77H271.39ZM300.26 312.89H305.67V311.6H300.26ZM305.67 311.6H311.08V310.31H315.29V309.01H310.48V310.31H305.67ZM315.29 309.01H319.5V307.72H315.29ZM319.5 307.72H323.71V306.43H326.72V305.14H323.11V306.43H319.5ZM326.72 305.14H329.73V303.84H326.72ZM329.73 303.84H332.73V302.55H329.73ZM332.73 302.55H335.14V301.26H332.73ZM335.14 301.26H337.55V299.96H335.14ZM337.55 299.96H339.95V298.67H337.55ZM339.95 298.67H341.76V297.38H339.95ZM341.76 297.38H343.56V296.09H341.76ZM343.56 296.09H345.36V294.79H346.57V293.5H344.76V294.79H343.56ZM346.57 293.5H347.77V292.21H346.57ZM347.77 292.21H348.97V290.91H347.77ZM348.97 290.91H350.18V289.62H348.97ZM356.19 290.91H356.79V289.62H356.19ZM350.18 289.62H351.38V288.33H351.98V287.04H350.78V288.33H350.18ZM356.79 289.62H357.39V287.04H356.79ZM351.98 287.04H352.58V285.74H351.98ZM357.39 287.04H357.99V284.45H357.39ZM352.58 285.74H353.78V284.45H352.58ZM353.78 284.45H354.39V283.16H353.78ZM354.39 283.16H354.99V281.86H354.39ZM354.99 281.86H355.59V280.57H354.99ZM357.99 283.16H358.6V281.86H357.99ZM355.59 279.28H356.19V277.99H355.59ZM356.19 277.99H356.79V276.69H356.19ZM358.6 279.28H359.2V277.99H358.6ZM356.79 275.4H357.39V274.11H356.79ZM359.2 274.11H359.8V272.81H359.2ZM357.39 272.81H357.99V271.52H357.39ZM357.99 270.23H358.6V268.94H357.99ZM358.6 266.35H359.2V265.06H358.6ZM359.8 265.06H360.4V263.76H359.8ZM359.2 261.18H359.8V259.89H359.2Z"/>
<path fill="#E13C00" d="M247.33 347.8H254.55V346.51H255.15V345.21H255.75V342.63H256.96V341.34H257.56V340.04H258.16V338.75H259.36V337.46H261.17V336.16H262.97V334.87H264.77V333.58H267.78V332.29H271.39V330.99H276.8V329.7H282.82V328.41H290.03V327.11H296.65V325.82H302.06V324.53H307.47V323.24H312.89V321.94H317.1V320.65H321.31V319.36H324.92V318.06H327.92V316.77H330.93V315.48H333.94V314.19H336.34V312.89H338.75V311.6H340.55V310.31H342.36V309.01H344.16V307.72H345.36V306.43H347.17V305.14H348.37V303.84H349.57V302.55H350.78V301.26H351.38V299.96H352.58V298.67H353.18V297.38H353.78V296.09H354.39V294.79H354.99V293.5H355.59V292.21H356.19V289.62H355.59V290.91H354.99V292.21H354.39V293.5H353.78V294.79H353.18V296.09H352.58V297.38H351.98V298.67H350.78V299.96H349.57V301.26H348.97V302.55H347.77V303.84H345.97V305.14H344.76V306.43H342.96V307.72H341.15V309.01H339.35V310.31H336.94V311.6H334.54V312.89H332.13V314.19H329.13V315.48H326.12V316.77H322.51V318.06H318.3V319.36H314.09V320.65H309.28V321.94H304.47V323.24H298.45V324.53H292.44V325.82H285.22V327.11H277.4V328.41H269.59V329.7H262.97V330.99H258.16V332.29H255.75V333.58H253.35V334.87H252.14V336.16H250.94V337.46H250.34V338.75H249.14V341.34H248.54V342.63H247.93V345.21H247.33ZM240.72 323.24H248.54V321.94H258.76V320.65H267.78V319.36H276.8V318.06H284.62V316.77H291.24V315.48H297.85V314.19H303.87V312.89H308.68V311.6H313.49V310.31H318.3V309.01H321.91V307.72H325.52V306.43H328.52V305.14H324.92V306.43H321.31V307.72H317.7V309.01H312.89V310.31H308.08V311.6H302.66V312.89H297.25V314.19H290.64V315.48H283.42V316.77H275.6V318.06H267.18V319.36H257.56V320.65H246.73V321.94H240.72ZM328.52 305.14H331.53V303.84H328.52ZM331.53 303.84H334.54V302.55H336.94V301.26H338.75V299.96H336.34V301.26H333.94V302.55H331.53ZM338.75 299.96H341.15V298.67H342.96V297.38H344.76V296.09H345.97V294.79H344.16V296.09H342.36V297.38H340.55V298.67H338.75ZM345.97 294.79H347.17V293.5H345.97ZM347.17 293.5H348.37V292.21H347.17ZM348.37 292.21H349.57V290.91H348.37ZM349.57 290.91H350.78V289.62H349.57ZM350.78 289.62H351.38V288.33H350.78ZM356.19 289.62H356.79V288.33H356.19ZM351.38 288.33H352.58V287.04H351.38ZM356.79 288.33H357.39V285.74H356.79ZM352.58 287.04H353.18V285.74H352.58ZM353.18 285.74H353.78V284.45H353.18ZM357.39 285.74H357.99V283.16H357.39ZM353.78 284.45H354.39V283.16H353.78ZM354.39 283.16H354.99V281.86H354.39ZM357.99 283.16H358.6V280.57H357.99ZM354.99 281.86H355.59V280.57H354.99ZM355.59 280.57H356.19V279.28H355.59ZM356.19 279.28H356.79V276.69H356.19ZM358.6 279.28H359.2V276.69H358.6ZM356.79 276.69H357.39V275.4H356.79ZM357.39 274.11H357.99V272.81H357.39ZM359.2 272.81H359.8V271.52H359.2ZM357.99 271.52H358.6V270.23H357.99ZM358.6 267.64H359.2V266.35H358.6ZM359.8 263.76H360.4V262.47H359.8ZM359.2 261.18H359.8V259.89H359.2Z"/>
<path fill="#C32200" d="M244.33 347.8H250.94V345.21H251.54V343.92H252.14V342.63H252.75V341.34H253.35V340.04H253.95V338.75H254.55V337.46H255.75V336.16H257.56V334.87H259.36V333.58H261.77V332.29H265.38V330.99H270.19V329.7H276.8V328.41H284.02V327.11H291.24V325.82H297.85V324.53H303.26V323.24H308.68V321.94H313.49V320.65H317.7V319.36H321.91V318.06H325.52V316.77H328.52V315.48H331.53V314.19H334.54V312.89H336.94V311.6H338.75V310.31H341.15V309.01H342.96V307.72H344.16V306.43H345.97V305.14H347.17V303.84H348.37V302.55H349.57V301.26H350.78V299.96H351.38V298.67H352.58V297.38H353.18V296.09H353.78V294.79H354.39V293.5H354.99V292.21H355.59V290.91H356.19V289.62H356.79V287.04H356.19V288.33H355.59V289.62H354.99V290.91H354.39V292.21H353.78V293.5H353.18V294.79H352.58V296.09H351.98V297.38H350.78V298.67H349.57V299.96H348.97V301.26H347.77V302.55H345.97V303.84H344.76V305.14H342.96V306.43H341.15V307.72H339.35V309.01H336.94V310.31H334.54V311.6H332.13V312.89H329.13V314.19H326.12V315.48H322.51V316.77H318.3V318.06H314.09V319.36H309.28V320.65H304.47V321.94H298.45V323.24H292.44V324.53H285.22V325.82H277.4V327.11H268.98V328.41H259.96V329.7H253.95V330.99H250.34V332.29H248.54V333.58H247.33V334.87H246.73V336.16H246.13V337.46H245.53V338.75H244.93V342.63H244.33ZM240.72 324.53H245.53V323.24H255.75V321.94H265.38V320.65H274.4V319.36H282.22V318.06H289.43V316.77H296.05V315.48H302.06V314.19H307.47V312.89H312.29V311.6H317.1V310.31H320.71V309.01H324.92V307.72H327.92V306.43H330.93V305.14H333.94V303.84H336.34V302.55H338.75V301.26H340.55V299.96H342.36V298.67H344.16V297.38H345.36V296.09H343.56V297.38H341.76V298.67H339.95V299.96H337.55V301.26H335.14V302.55H332.73V303.84H329.73V305.14H326.72V306.43H323.71V307.72H319.5V309.01H315.29V310.31H311.08V311.6H305.67V312.89H300.26V314.19H294.24V315.48H287.63V316.77H279.81V318.06H271.39V319.36H262.37V320.65H252.75V321.94H241.32V323.24H240.72ZM345.36 296.09H347.17V294.79H348.37V293.5H349.57V292.21H350.18V290.91H348.97V292.21H347.77V293.5H346.57V294.79H345.36ZM350.18 290.91H351.38V289.62H350.18ZM351.38 289.62H351.98V288.33H351.38ZM351.98 288.33H353.18V287.04H353.78V285.74H352.58V287.04H351.98ZM356.79 287.04H357.39V284.45H356.79ZM353.78 285.74H354.39V284.45H353.78ZM354.39 284.45H354.99V283.16H354.39ZM357.39 284.45H357.99V281.86H357.39ZM354.99 283.16H355.59V281.86H354.99ZM355.59 281.86H356.19V279.28H355.59ZM357.99 281.86H358.6V279.28H357.99ZM356.19 279.28H356.79V277.99H356.19ZM356.79 277.99H357.39V275.4H356.79ZM358.6 277.99H359.2V275.4H358.6ZM357.39 275.4H357.99V272.81H357.39ZM357.99 272.81H358.6V270.23H357.99ZM359.2 272.81H359.8V270.23H359.2ZM358.6 267.64H359.2V266.35H358.6ZM359.8 263.76H360.4V262.47H359.8Z"/>
<path fill="#A20706" d="M240.72 347.8H247.33V345.21H247.93V342.63H248.54V341.34H249.14V338.75H250.34V337.46H250.94V336.16H252.14V334.87H253.35V333.58H255.75V332.29H258.16V330.99H262.97V329.7H269.59V328.41H277.4V327.11H285.22V325.82H292.44V324.53H298.45V323.24H304.47V321.94H309.28V320.65H314.09V319.36H318.3V318.06H322.51V316.77H326.12V315.48H329.13V314.19H332.13V312.89H334.54V311.6H336.94V310.31H339.35V309.01H341.15V307.72H342.96V306.43H344.76V305.14H345.97V303.84H347.77V302.55H348.97V301.26H349.57V299.96H350.78V298.67H351.98V297.38H352.58V296.09H353.18V294.79H353.78V293.5H354.39V292.21H354.99V290.91H355.59V289.62H356.19V288.33H356.79V285.74H357.39V283.16H357.99V280.57H358.6V276.69H359.2V271.52H359.8V262.47H360.4V257.3H359.8V261.18H359.2V267.64H358.6V271.52H357.99V274.11H357.39V276.69H356.79V279.28H356.19V280.57H355.59V281.86H354.99V283.16H354.39V284.45H353.78V285.74H353.18V287.04H352.58V288.33H351.38V289.62H350.78V290.91H349.57V292.21H348.37V293.5H347.17V294.79H345.97V296.09H344.76V297.38H342.96V298.67H341.15V299.96H338.75V301.26H336.94V302.55H334.54V303.84H331.53V305.14H328.52V306.43H325.52V307.72H321.91V309.01H318.3V310.31H313.49V311.6H308.68V312.89H303.87V314.19H297.85V315.48H291.24V316.77H284.62V318.06H276.8V319.36H267.78V320.65H258.76V321.94H248.54V323.24H240.72Z"/>
<path fill="#7D0025" d="M240.72 347.8H244.33V342.63H244.93V338.75H245.53V337.46H246.13V336.16H246.73V334.87H247.33V333.58H248.54V332.29H250.34V330.99H253.95V329.7H259.96V328.41H268.98V327.11H277.4V325.82H285.22V324.53H292.44V323.24H298.45V321.94H304.47V320.65H309.28V319.36H314.09V318.06H318.3V316.77H322.51V315.48H326.12V314.19H329.13V312.89H332.13V311.6H334.54V310.31H336.94V309.01H339.35V307.72H341.15V306.43H342.96V305.14H344.76V303.84H345.97V302.55H347.77V301.26H348.97V299.96H349.57V298.67H350.78V297.38H351.98V296.09H352.58V294.79H353.18V293.5H353.78V292.21H354.39V290.91H354.99V289.62H355.59V288.33H356.19V287.04H356.79V284.45H357.39V281.86H357.99V279.28H358.6V275.4H359.2V270.23H359.8V262.47H360.4V257.3H359.8V261.18H359.2V267.64H358.6V272.81H357.99V275.4H357.39V277.99H356.79V279.28H356.19V281.86H355.59V283.16H354.99V284.45H354.39V285.74H353.78V287.04H353.18V288.33H351.98V289.62H351.38V290.91H350.18V292.21H349.57V293.5H348.37V294.79H347.17V296.09H345.36V297.38H344.16V298.67H342.36V299.96H340.55V301.26H338.75V302.55H336.34V303.84H333.94V305.14H330.93V306.43H327.92V307.72H324.92V309.01H320.71V310.31H317.1V311.6H312.29V312.89H307.47V314.19H302.06V315.48H296.05V316.77H289.43V318.06H282.22V319.36H274.4V320.65H265.38V321.94H255.75V323.24H245.53V324.53H240.72Z"/>
</g></g>
<rect x="233.5" y="257.3" width="126.9" height="90.5" fill="none" stroke="#000" stroke-opacity="0.55" stroke-width="0.7"/>
<text x="239.96" y="370" font-size="10" text-anchor="middle">0</text>
<text x="264.02" y="370" font-size="10" text-anchor="middle">2</text>
<text x="288.08" y="370" font-size="10" text-anchor="middle">4</text>
<text x="312.14" y="370" font-size="10" text-anchor="middle">6</text>
<text x="336.19" y="370" font-size="10" text-anchor="middle">8</text>
<text x="360.25" y="370" font-size="10" text-anchor="middle">10</text>
<text x="219.7" y="336.12" font-size="10" text-anchor="middle" transform="rotate(-90 219.7 336.12)">10</text>
<text x="219.7" y="310.26" font-size="10" text-anchor="middle" transform="rotate(-90 219.7 310.26)">30</text>
<text x="219.7" y="284.4" font-size="10" text-anchor="middle" transform="rotate(-90 219.7 284.4)">50</text>
<text x="219.7" y="258.55" font-size="10" text-anchor="middle" transform="rotate(-90 219.7 258.55)">70</text>
<text x="296.95" y="393.6" font-size="10" text-anchor="middle">time</text>
<text x="196.1" y="303.05" font-size="10" text-anchor="middle" transform="rotate(-90 196.1 303.05)">Cell number</text>
<text x="296.95" y="238" font-size="12" text-anchor="middle" font-weight="bold">Inverse Future</text>
<g clip-path="url(#c5)"><g filter="url(#soft)" fill-rule="evenodd">
<rect x="453.4" y="78.2" width="120.3" height="262.5" fill="#FFFFC8"/>
<path fill="#FFF4B7" d="M569.04 304.72H570.7V293.73H569.59V291.9H564.6V290.06H560.16V288.23H555.72V286.4H551.83V284.57H548.51V282.74H545.73V280.9H542.96V279.07H540.18V277.24H537.96V275.41H535.74V273.57H534.08V271.74H532.42V269.91H530.75V268.08H529.64V266.25H527.98V264.41H526.87V262.58H525.76V260.75H524.65V258.92H524.09V257.09H522.98V255.25H522.43V253.42H521.87V251.59H521.32V249.76H520.76V247.93H520.21V246.09H519.65V242.43H519.1V240.6H518.54V236.93H517.99V233.27H517.43V227.77H516.88V218.61H516.32V229.6H516.88V238.76H517.43V244.26H517.99V247.93H518.54V251.59H519.1V253.42H519.65V257.09H520.21V258.92H520.76V260.75H521.32V262.58H521.87V264.41H522.43V266.25H522.98V268.08H524.09V269.91H524.65V271.74H525.76V273.57H526.87V275.41H527.98V277.24H529.09V279.07H530.75V280.9H532.42V282.74H534.08V284.57H535.74V286.4H537.96V288.23H540.18V290.06H542.96V291.9H545.73V293.73H548.51V295.56H551.83V297.39H555.72V299.22H559.6V301.06H564.6V302.89H569.04ZM515.77 216.78H516.32V209.45H515.77ZM514.1 209.45H514.66V202.12H514.1ZM513.55 200.29H514.1V189.3H513.55V180.14H513V174.64H512.44V170.97H511.89V167.31H511.33V165.48H510.78V161.81H510.22V159.98H509.67V158.15H509.11V156.32H508.56V154.49H508V152.65H507.45V150.82H506.34V148.99H505.78V147.16H504.67V145.32H503.56V143.49H502.45V141.66H501.34V139.83H499.68V138H498.01V136.16H496.35V134.33H494.68V132.5H492.47V130.67H490.25V128.84H487.47V127H484.7V125.17H481.92V123.34H478.59V121.51H474.71V119.67H470.83V117.84H465.83V116.01H461.39V114.18H459.73V125.17H460.84V127H465.83V128.84H470.27V130.67H474.71V132.5H478.59V134.33H481.92V136.16H484.7V138H487.47V139.83H490.25V141.66H492.47V143.49H494.68V145.32H496.35V147.16H498.01V148.99H499.68V150.82H500.79V152.65H502.45V154.49H503.56V156.32H504.67V158.15H505.78V159.98H506.34V161.81H507.45V163.65H508V165.48H508.56V167.31H509.11V169.14H509.67V170.97H510.22V172.81H510.78V176.47H511.33V178.3H511.89V181.97H512.44V185.63H513V191.13H513.55Z"/>
<path fill="#FBE49A" d="M567.37 308.39H570.7V299.22H567.37V297.39H562.93V295.56H558.49V293.73H554.61V291.9H550.73V290.06H547.4V288.23H544.62V286.4H541.85V284.57H539.63V282.74H537.41V280.9H535.19V279.07H533.52V277.24H531.86V275.41H530.2V273.57H529.09V271.74H527.42V269.91H526.31V268.08H525.76V266.25H524.65V264.41H523.54V262.58H522.98V260.75H522.43V258.92H521.87V257.09H521.32V255.25H520.76V253.42H520.21V251.59H519.65V249.76H519.1V246.09H518.54V242.43H517.99V238.76H517.43V233.27H516.88V225.94H516.32V235.1H516.88V242.43H517.43V247.93H517.99V251.59H518.54V255.25H519.1V258.92H519.65V260.75H520.21V262.58H520.76V264.41H521.32V266.25H521.87V268.08H522.43V269.91H522.98V271.74H523.54V273.57H524.65V275.41H525.2V277.24H526.31V279.07H527.42V280.9H529.09V282.74H530.2V284.57H531.86V286.4H533.52V288.23H535.19V290.06H536.85V291.9H539.07V293.73H541.85V295.56H544.62V297.39H547.4V299.22H550.73V301.06H554.05V302.89H557.94V304.72H562.38V306.55H567.37ZM515.77 222.27H516.32V213.11H515.77ZM514.1 205.79H514.66V196.62H514.1ZM513.55 192.96H514.1V183.8H513.55V176.47H513V170.97H512.44V167.31H511.89V163.65H511.33V159.98H510.78V158.15H510.22V156.32H509.67V154.49H509.11V152.65H508.56V150.82H508V148.99H507.45V147.16H506.89V145.32H505.78V143.49H505.23V141.66H504.12V139.83H503.01V138H501.34V136.16H500.23V134.33H498.57V132.5H496.9V130.67H495.24V128.84H493.58V127H491.36V125.17H488.58V123.34H485.81V121.51H483.03V119.67H479.7V117.84H476.37V116.01H472.49V114.18H468.05V112.35H463.06V110.51H459.73V119.67H463.06V121.51H467.5V123.34H471.94V125.17H475.82V127H479.7V128.84H483.03V130.67H485.81V132.5H488.58V134.33H490.8V136.16H493.02V138H495.24V139.83H496.9V141.66H498.57V143.49H500.23V145.32H501.34V147.16H503.01V148.99H504.12V150.82H504.67V152.65H505.78V154.49H506.89V156.32H507.45V158.15H508V159.98H508.56V161.81H509.11V163.65H509.67V165.48H510.22V167.31H510.78V169.14H511.33V172.81H511.89V176.47H512.44V180.14H513V185.63H513.55Z"/>
<path fill="#F8D074" d="M565.71 312.05H570.7V304.72H569.04V302.89H564.6V301.06H559.6V299.22H555.72V297.39H551.83V295.56H548.51V293.73H545.73V291.9H542.96V290.06H540.18V288.23H537.96V286.4H535.74V284.57H534.08V282.74H532.42V280.9H530.75V279.07H529.09V277.24H527.98V275.41H526.87V273.57H525.76V271.74H524.65V269.91H524.09V268.08H522.98V266.25H522.43V264.41H521.87V262.58H521.32V260.75H520.76V258.92H520.21V257.09H519.65V253.42H519.1V251.59H518.54V247.93H517.99V244.26H517.43V238.76H516.88V246.09H517.43V251.59H517.99V257.09H518.54V260.75H519.1V262.58H519.65V264.41H520.21V268.08H520.76V269.91H521.32V271.74H521.87V273.57H522.43V275.41H523.54V277.24H524.09V279.07H525.2V280.9H526.31V282.74H527.42V284.57H528.53V286.4H529.64V288.23H531.31V290.06H532.97V291.9H534.63V293.73H536.3V295.56H538.52V297.39H540.74V299.22H543.51V301.06H546.29V302.89H549.62V304.72H552.94V306.55H556.83V308.39H560.71V310.22H565.71ZM516.88 238.76V229.6H516.32V238.76ZM515.77 225.94H516.32V216.78H515.77ZM514.1 202.12H514.66V192.96H514.1ZM513.55 189.3H514.1V180.14H513.55ZM513.55 180.14V172.81H513V167.31H512.44V161.81H511.89V158.15H511.33V156.32H510.78V154.49H510.22V150.82H509.67V148.99H509.11V147.16H508.56V145.32H508V143.49H506.89V141.66H506.34V139.83H505.23V138H504.12V136.16H503.01V134.33H501.9V132.5H500.79V130.67H499.12V128.84H497.46V127H495.79V125.17H494.13V123.34H491.91V121.51H489.69V119.67H486.92V117.84H484.14V116.01H480.81V114.18H477.48V112.35H473.6V110.51H469.72V108.68H464.72V106.85H459.73V114.18H461.39V116.01H465.83V117.84H470.83V119.67H474.71V121.51H478.59V123.34H481.92V125.17H484.7V127H487.47V128.84H490.25V130.67H492.47V132.5H494.68V134.33H496.35V136.16H498.01V138H499.68V139.83H501.34V141.66H502.45V143.49H503.56V145.32H504.67V147.16H505.78V148.99H506.34V150.82H507.45V152.65H508V154.49H508.56V156.32H509.11V158.15H509.67V159.98H510.22V161.81H510.78V165.48H511.33V167.31H511.89V170.97H512.44V174.64H513V180.14Z"/>
<path fill="#F7BA3C" d="M568.48 317.55H570.7V308.39H567.37V306.55H562.38V304.72H557.94V302.89H554.05V301.06H550.73V299.22H547.4V297.39H544.62V295.56H541.85V293.73H539.07V291.9H536.85V290.06H535.19V288.23H533.52V286.4H531.86V284.57H530.2V282.74H529.09V280.9H527.42V279.07H526.31V277.24H525.2V275.41H524.65V273.57H523.54V271.74H522.98V269.91H522.43V268.08H521.87V266.25H521.32V264.41H520.76V262.58H520.21V260.75H519.65V258.92H519.1V255.25H518.54V251.59H517.99V247.93H517.43V242.43H516.88V235.1H516.32V244.26H516.88V251.59H517.43V257.09H517.99V260.75H518.54V264.41H519.1V268.08H519.65V269.91H520.21V271.74H520.76V273.57H521.32V275.41H521.87V277.24H522.43V279.07H522.98V280.9H524.09V282.74H524.65V284.57H525.76V286.4H526.87V288.23H527.98V290.06H529.09V291.9H530.75V293.73H531.86V295.56H533.52V297.39H535.74V299.22H537.41V301.06H540.18V302.89H542.4V304.72H545.18V306.55H547.95V308.39H551.28V310.22H555.16V312.05H559.05V313.88H563.49V315.71H568.48ZM515.77 229.6H516.32V222.27H515.77ZM514.1 196.62H514.66V189.3H514.1ZM513.55 183.8H514.1V174.64H513.55V167.31H513V161.81H512.44V158.15H511.89V154.49H511.33V150.82H510.78V148.99H510.22V147.16H509.67V145.32H509.11V143.49H508.56V141.66H508V139.83H507.45V138H506.34V136.16H505.78V134.33H504.67V132.5H503.56V130.67H502.45V128.84H501.34V127H499.68V125.17H498.57V123.34H496.9V121.51H494.68V119.67H493.02V117.84H490.25V116.01H488.03V114.18H485.25V112.35H482.48V110.51H479.15V108.68H475.27V106.85H471.38V105.02H466.94V103.19H461.95V101.35H459.73V110.51H463.06V112.35H468.05V114.18H472.49V116.01H476.37V117.84H479.7V119.67H483.03V121.51H485.81V123.34H488.58V125.17H491.36V127H493.58V128.84H495.24V130.67H496.9V132.5H498.57V134.33H500.23V136.16H501.34V138H503.01V139.83H504.12V141.66H505.23V143.49H505.78V145.32H506.89V147.16H507.45V148.99H508V150.82H508.56V152.65H509.11V154.49H509.67V156.32H510.22V158.15H510.78V159.98H511.33V163.65H511.89V167.31H512.44V170.97H513V176.47H513.55Z"/>
<path fill="#F5A100" d="M565.71 321.21H570.7V312.05H565.71V310.22H560.71V308.39H556.83V306.55H552.94V304.72H549.62V302.89H546.29V301.06H543.51V299.22H540.74V297.39H538.52V295.56H536.3V293.73H534.63V291.9H532.97V290.06H531.31V288.23H529.64V286.4H528.53V284.57H527.42V282.74H526.31V280.9H525.2V279.07H524.09V277.24H523.54V275.41H522.43V273.57H521.87V271.74H521.32V269.91H520.76V268.08H520.21V264.41H519.65V262.58H519.1V260.75H518.54V257.09H517.99V251.59H517.43V246.09H516.88V238.76H516.32V247.93H516.88V255.25H517.43V260.75H517.99V266.25H518.54V269.91H519.1V271.74H519.65V273.57H520.21V277.24H520.76V279.07H521.32V280.9H521.87V282.74H522.43V284.57H523.54V286.4H524.09V288.23H525.2V290.06H526.31V291.9H527.42V293.73H528.53V295.56H529.64V297.39H531.31V299.22H532.97V301.06H534.63V302.89H536.3V304.72H538.52V306.55H540.74V308.39H543.51V310.22H546.29V312.05H549.62V313.88H552.94V315.71H556.83V317.55H560.71V319.38H565.71ZM515.77 235.1H516.32V225.94H515.77ZM514.1 192.96H514.66V183.8H514.1ZM513.55 180.14H514.1V170.97H513.55V163.65H513V158.15H512.44V152.65H511.89V148.99H511.33V147.16H510.78V145.32H510.22V141.66H509.67V139.83H509.11V138H508.56V136.16H508V134.33H506.89V132.5H506.34V130.67H505.23V128.84H504.12V127H503.01V125.17H501.9V123.34H500.79V121.51H499.12V119.67H497.46V117.84H495.79V116.01H494.13V114.18H491.91V112.35H489.69V110.51H486.92V108.68H484.14V106.85H480.81V105.02H477.48V103.19H473.6V101.35H469.72V99.52H464.72V97.69H459.73V106.85H464.72V108.68H469.72V110.51H473.6V112.35H477.48V114.18H480.81V116.01H484.14V117.84H486.92V119.67H489.69V121.51H491.91V123.34H494.13V125.17H495.79V127H497.46V128.84H499.12V130.67H500.79V132.5H501.9V134.33H503.01V136.16H504.12V138H505.23V139.83H506.34V141.66H506.89V143.49H508V145.32H508.56V147.16H509.11V148.99H509.67V150.82H510.22V154.49H510.78V156.32H511.33V158.15H511.89V161.81H512.44V167.31H513V172.81H513.55Z"/>
<path fill="#F28400" d="M565.71 326.71H570.7V317.55H568.48V315.71H563.49V313.88H559.05V312.05H555.16V310.22H551.28V308.39H547.95V306.55H545.18V304.72H542.4V302.89H540.18V301.06H537.41V299.22H535.74V297.39H533.52V295.56H531.86V293.73H530.75V291.9H529.09V290.06H527.98V288.23H526.87V286.4H525.76V284.57H524.65V282.74H524.09V280.9H522.98V279.07H522.43V277.24H521.87V275.41H521.32V273.57H520.76V271.74H520.21V269.91H519.65V268.08H519.1V264.41H518.54V260.75H517.99V257.09H517.43V251.59H516.88V244.26H516.32V253.42H516.88V260.75H517.43V266.25H517.99V271.74H518.54V273.57H519.1V277.24H519.65V279.07H520.21V282.74H520.76V284.57H521.32V286.4H521.87V288.23H522.98V290.06H523.54V291.9H524.09V293.73H525.2V295.56H526.31V297.39H527.42V299.22H528.53V301.06H529.64V302.89H531.31V304.72H532.97V306.55H534.63V308.39H536.3V310.22H538.52V312.05H541.29V313.88H543.51V315.71H546.29V317.55H549.62V319.38H552.94V321.21H556.83V323.04H561.27V324.88H565.71ZM515.77 240.6H516.32V229.6H515.77ZM514.1 189.3H514.66V178.3H514.1ZM513.55 174.64H514.1V165.48H513.55V158.15H513V152.65H512.44V147.16H511.89V145.32H511.33V141.66H510.78V139.83H510.22V136.16H509.67V134.33H509.11V132.5H508.56V130.67H507.45V128.84H506.89V127H506.34V125.17H505.23V123.34H504.12V121.51H503.01V119.67H501.9V117.84H500.79V116.01H499.12V114.18H497.46V112.35H495.79V110.51H494.13V108.68H491.91V106.85H489.14V105.02H486.92V103.19H484.14V101.35H480.81V99.52H477.48V97.69H473.6V95.86H469.16V94.03H464.72V92.19H459.73V101.35H461.95V103.19H466.94V105.02H471.38V106.85H475.27V108.68H479.15V110.51H482.48V112.35H485.25V114.18H488.03V116.01H490.25V117.84H493.02V119.67H494.68V121.51H496.9V123.34H498.57V125.17H499.68V127H501.34V128.84H502.45V130.67H503.56V132.5H504.67V134.33H505.78V136.16H506.34V138H507.45V139.83H508V141.66H508.56V143.49H509.11V145.32H509.67V147.16H510.22V148.99H510.78V150.82H511.33V154.49H511.89V158.15H512.44V161.81H513V167.31H513.55Z"/>
<path fill="#ED6200" d="M567.93 334.04H570.7V321.21H565.71V319.38H560.71V317.55H556.83V315.71H552.94V313.88H549.62V312.05H546.29V310.22H543.51V308.39H540.74V306.55H538.52V304.72H536.3V302.89H534.63V301.06H532.97V299.22H531.31V297.39H529.64V295.56H528.53V293.73H527.42V291.9H526.31V290.06H525.2V288.23H524.09V286.4H523.54V284.57H522.43V282.74H521.87V280.9H521.32V279.07H520.76V277.24H520.21V273.57H519.65V271.74H519.1V269.91H518.54V266.25H517.99V260.75H517.43V255.25H516.88V247.93H516.32V260.75H516.88V268.08H517.43V273.57H517.99V277.24H518.54V280.9H519.1V284.57H519.65V286.4H520.21V288.23H520.76V290.06H521.32V291.9H521.87V293.73H522.43V295.56H522.98V297.39H524.09V299.22H524.65V301.06H525.76V302.89H526.87V304.72H527.98V306.55H529.09V308.39H530.2V310.22H531.86V312.05H533.52V313.88H535.19V315.71H537.41V317.55H539.63V319.38H542.4V321.21H545.18V323.04H547.95V324.88H551.28V326.71H554.61V328.54H559.05V330.37H563.49V332.2H567.93ZM516.32 247.93V235.1H515.77V247.93ZM514.1 183.8H514.66V170.97H514.1ZM514.1 170.97V158.15H513.55V150.82H513V145.32H512.44V141.66H511.89V138H511.33V134.33H510.78V132.5H510.22V130.67H509.67V128.84H509.11V127H508.56V125.17H508V123.34H507.45V121.51H506.34V119.67H505.78V117.84H504.67V116.01H503.56V114.18H502.45V112.35H501.34V110.51H500.23V108.68H498.57V106.85H496.9V105.02H495.24V103.19H493.02V101.35H490.8V99.52H488.03V97.69H485.25V95.86H482.48V94.03H479.15V92.19H475.82V90.36H471.38V88.53H466.94V86.7H462.5V84.86H459.73V97.69H464.72V99.52H469.72V101.35H473.6V103.19H477.48V105.02H480.81V106.85H484.14V108.68H486.92V110.51H489.69V112.35H491.91V114.18H494.13V116.01H495.79V117.84H497.46V119.67H499.12V121.51H500.79V123.34H501.9V125.17H503.01V127H504.12V128.84H505.23V130.67H506.34V132.5H506.89V134.33H508V136.16H508.56V138H509.11V139.83H509.67V141.66H510.22V145.32H510.78V147.16H511.33V148.99H511.89V152.65H512.44V158.15H513V163.65H513.55V170.97Z"/>
<path fill="#E13C00" d="M555.72 337.7H570.7V326.71H565.71V324.88H561.27V323.04H556.83V321.21H552.94V319.38H549.62V317.55H546.29V315.71H543.51V313.88H541.29V312.05H538.52V310.22H536.3V308.39H534.63V306.55H532.97V304.72H531.31V302.89H529.64V301.06H528.53V299.22H527.42V297.39H526.31V295.56H525.2V293.73H524.09V291.9H523.54V290.06H522.98V288.23H521.87V286.4H521.32V284.57H520.76V282.74H520.21V279.07H519.65V277.24H519.1V273.57H518.54V271.74H517.99V266.25H517.43V260.75H516.88V253.42H516.32V240.6H515.77V255.25H516.32V268.08H516.88V277.24H517.43V282.74H517.99V286.4H518.54V290.06H519.1V291.9H519.65V295.56H520.21V297.39H520.76V299.22H521.32V301.06H521.87V302.89H522.43V304.72H523.54V306.55H524.09V308.39H525.2V310.22H525.76V312.05H526.87V313.88H527.98V315.71H529.64V317.55H530.75V319.38H532.42V321.21H534.08V323.04H536.3V324.88H537.96V326.71H540.18V328.54H542.96V330.37H545.73V332.2H549.06V334.04H552.39V335.87H555.72ZM514.1 178.3H514.66V163.65H514.1V150.82H513.55V141.66H513V136.16H512.44V132.5H511.89V128.84H511.33V127H510.78V123.34H510.22V121.51H509.67V119.67H509.11V117.84H508.56V116.01H508V114.18H506.89V112.35H506.34V110.51H505.23V108.68H504.67V106.85H503.56V105.02H502.45V103.19H500.79V101.35H499.68V99.52H498.01V97.69H496.35V95.86H494.13V94.03H492.47V92.19H490.25V90.36H487.47V88.53H484.7V86.7H481.37V84.86H478.04V83.03H474.71V81.2H459.73V92.19H464.72V94.03H469.16V95.86H473.6V97.69H477.48V99.52H480.81V101.35H484.14V103.19H486.92V105.02H489.14V106.85H491.91V108.68H494.13V110.51H495.79V112.35H497.46V114.18H499.12V116.01H500.79V117.84H501.9V119.67H503.01V121.51H504.12V123.34H505.23V125.17H506.34V127H506.89V128.84H507.45V130.67H508.56V132.5H509.11V134.33H509.67V136.16H510.22V139.83H510.78V141.66H511.33V145.32H511.89V147.16H512.44V152.65H513V158.15H513.55V165.48H514.1Z"/>
<path fill="#C32200" d="M534.63 337.7H570.7V334.04H567.93V332.2H563.49V330.37H559.05V328.54H554.61V326.71H551.28V324.88H547.95V323.04H545.18V321.21H542.4V319.38H539.63V317.55H537.41V315.71H535.19V313.88H533.52V312.05H531.86V310.22H530.2V308.39H529.09V306.55H527.98V304.72H526.87V302.89H525.76V301.06H524.65V299.22H524.09V297.39H522.98V295.56H522.43V293.73H521.87V291.9H521.32V290.06H520.76V288.23H520.21V286.4H519.65V284.57H519.1V280.9H518.54V277.24H517.99V273.57H517.43V268.08H516.88V260.75H516.32V247.93H515.77V269.91H516.32V282.74H516.88V290.06H517.43V295.56H517.99V299.22H518.54V302.89H519.1V306.55H519.65V308.39H520.21V312.05H520.76V313.88H521.32V315.71H521.87V317.55H522.98V319.38H523.54V321.21H524.65V323.04H525.2V324.88H526.31V326.71H527.42V328.54H528.53V330.37H530.2V332.2H531.31V334.04H532.97V335.87H534.63ZM514.1 170.97H514.66V148.99H514.1V136.16H513.55V128.84H513V123.34H512.44V119.67H511.89V116.01H511.33V112.35H510.78V110.51H510.22V106.85H509.67V105.02H509.11V103.19H508.56V101.35H507.45V99.52H506.89V97.69H505.78V95.86H505.23V94.03H504.12V92.19H503.01V90.36H501.9V88.53H500.23V86.7H499.12V84.86H497.46V83.03H495.79V81.2H459.73V84.86H462.5V86.7H466.94V88.53H471.38V90.36H475.82V92.19H479.15V94.03H482.48V95.86H485.25V97.69H488.03V99.52H490.8V101.35H493.02V103.19H495.24V105.02H496.9V106.85H498.57V108.68H500.23V110.51H501.34V112.35H502.45V114.18H503.56V116.01H504.67V117.84H505.78V119.67H506.34V121.51H507.45V123.34H508V125.17H508.56V127H509.11V128.84H509.67V130.67H510.22V132.5H510.78V134.33H511.33V138H511.89V141.66H512.44V145.32H513V150.82H513.55V158.15H514.1Z"/>
<path fill="#A20706" d="M515.21 337.7H555.72V335.87H552.39V334.04H549.06V332.2H545.73V330.37H542.96V328.54H540.18V326.71H537.96V324.88H536.3V323.04H534.08V321.21H532.42V319.38H530.75V317.55H529.64V315.71H527.98V313.88H526.87V312.05H525.76V310.22H525.2V308.39H524.09V306.55H523.54V304.72H522.43V302.89H521.87V301.06H521.32V299.22H520.76V297.39H520.21V295.56H519.65V291.9H519.1V290.06H518.54V286.4H517.99V282.74H517.43V277.24H516.88V268.08H516.32V255.25H515.77V209.45H515.21ZM515.21 209.45V81.2H474.71V83.03H478.04V84.86H481.37V86.7H484.7V88.53H487.47V90.36H490.25V92.19H492.47V94.03H494.13V95.86H496.35V97.69H498.01V99.52H499.68V101.35H500.79V103.19H502.45V105.02H503.56V106.85H504.67V108.68H505.23V110.51H506.34V112.35H506.89V114.18H508V116.01H508.56V117.84H509.11V119.67H509.67V121.51H510.22V123.34H510.78V127H511.33V128.84H511.89V132.5H512.44V136.16H513V141.66H513.55V150.82H514.1V163.65H514.66V209.45Z"/>
<path fill="#7D0025" d="M515.21 337.7H534.63V335.87H532.97V334.04H531.31V332.2H530.2V330.37H528.53V328.54H527.42V326.71H526.31V324.88H525.2V323.04H524.65V321.21H523.54V319.38H522.98V317.55H521.87V315.71H521.32V313.88H520.76V312.05H520.21V308.39H519.65V306.55H519.1V302.89H518.54V299.22H517.99V295.56H517.43V290.06H516.88V282.74H516.32V269.91H515.77V209.45H515.21ZM515.21 209.45V81.2H495.79V83.03H497.46V84.86H499.12V86.7H500.23V88.53H501.9V90.36H503.01V92.19H504.12V94.03H505.23V95.86H505.78V97.69H506.89V99.52H507.45V101.35H508.56V103.19H509.11V105.02H509.67V106.85H510.22V110.51H510.78V112.35H511.33V116.01H511.89V119.67H512.44V123.34H513V128.84H513.55V136.16H514.1V148.99H514.66V209.45Z"/>
</g></g>
<rect x="456.4" y="81.2" width="114.3" height="256.5" fill="none" stroke="#000" stroke-opacity="0.55" stroke-width="0.7"/>
<text x="459.45" y="364" font-size="12" text-anchor="middle">−10</text>
<text x="487.19" y="364" font-size="12" text-anchor="middle">−5</text>
<text x="514.94" y="364" font-size="12" text-anchor="middle">0</text>
<text x="542.68" y="364" font-size="12" text-anchor="middle">5</text>
<text x="570.42" y="364" font-size="12" text-anchor="middle">10</text>
<text x="439.6" y="302.77" font-size="12" text-anchor="middle" transform="rotate(-90 439.6 302.77)">20</text>
<text x="439.6" y="266.13" font-size="12" text-anchor="middle" transform="rotate(-90 439.6 266.13)">40</text>
<text x="439.6" y="229.49" font-size="12" text-anchor="middle" transform="rotate(-90 439.6 229.49)">60</text>
<text x="439.6" y="192.84" font-size="12" text-anchor="middle" transform="rotate(-90 439.6 192.84)">80</text>
<text x="439.6" y="156.2" font-size="12" text-anchor="middle" transform="rotate(-90 439.6 156.2)">100</text>
<text x="439.6" y="119.56" font-size="12" text-anchor="middle" transform="rotate(-90 439.6 119.56)">120</text>
<text x="439.6" y="82.92" font-size="12" text-anchor="middle" transform="rotate(-90 439.6 82.92)">140</text>
<text x="513.55" y="392.9" font-size="12" text-anchor="middle">time</text>
<text x="411.5" y="209.95" font-size="12" text-anchor="middle" transform="rotate(-90 411.5 209.95)">Cell number</text>
<text x="513.55" y="58" font-size="13.9" text-anchor="middle" font-weight="bold">Laplace</text>
<g clip-path="url(#c6)"><g filter="url(#soft)" fill-rule="evenodd">
<rect x="639.5" y="78.2" width="120.7" height="262.5" fill="#FFFFC8"/>
<path fill="#FFF4B7" d="M729.36 337.7H738.83V335.87H738.27V334.04H737.71V332.2H737.16V330.37H736.6V328.54H736.04V326.71H735.48V324.88H734.37V323.04H733.81V321.21H732.7V319.38H731.03V317.55H729.92V315.71H728.25V313.88H726.02V312.05H724.35V310.22H722.12V308.39H720.45V306.55H718.22V304.72H717.11V302.89H715.44V301.06H714.33V299.22H712.66V297.39H712.1V295.56H710.99V293.73H709.87V291.9H709.32V290.06H708.2V288.23H707.65V286.4H707.09V284.57H706.53V282.74H705.97V280.9H705.42V277.24H704.86V275.41H704.3V271.74H703.75V266.25H703.19V260.75H702.63V268.08H703.19V273.57H703.75V279.07H704.3V280.9H704.86V284.57H705.42V286.4H705.97V290.06H706.53V291.9H707.09V293.73H707.65V295.56H708.76V297.39H709.32V299.22H709.87V301.06H710.99V302.89H712.1V304.72H713.21V306.55H714.33V308.39H715.44V310.22H717.11V312.05H718.22V313.88H719.89V315.71H721.01V317.55H722.12V319.38H723.24V321.21H724.35V323.04H724.91V324.88H726.02V326.71H726.58V328.54H727.13V330.37H727.69V332.2H728.25V334.04H728.8V335.87H729.36ZM752.75 295.56H757.2V291.9H751.63V290.06H747.18V288.23H742.72V286.4H738.83V284.57H735.48V282.74H732.7V280.9H729.36V279.07H727.13V277.24H724.35V275.41H722.68V273.57H720.45V271.74H718.78V269.91H717.11V268.08H715.44V266.25H714.33V264.41H713.21V262.58H712.1V260.75H710.99V258.92H709.87V257.09H709.32V255.25H708.76V253.42H707.65V251.59H707.09V249.76H706.53V253.42H707.09V255.25H708.2V257.09H708.76V258.92H709.32V260.75H710.43V262.58H710.99V264.41H712.1V266.25H713.21V268.08H714.33V269.91H716V271.74H717.11V273.57H718.78V275.41H720.45V277.24H722.68V279.07H724.91V280.9H727.13V282.74H729.92V284.57H732.7V286.4H736.04V288.23H739.38V290.06H743.28V291.9H747.73V293.73H752.75ZM702.63 260.75V253.42H702.08V260.75ZM706.53 249.76V247.93H705.97V249.76ZM705.97 247.93V244.26H705.42V242.43H704.86V246.09H705.42V247.93ZM701.52 247.93H702.08V240.6H701.52ZM704.86 242.43V238.76H704.3V242.43ZM704.3 238.76V236.93H703.75V238.76ZM703.19 235.1H703.75V231.44H703.19ZM702.63 229.6H703.19V225.94H702.63ZM702.08 222.27H702.63V218.61H702.08ZM700.41 200.29H700.96V196.62H700.41ZM699.85 192.96H700.41V189.3H699.85ZM699.29 187.46H699.85V183.8H699.29ZM698.74 181.97H699.29V180.14H698.74ZM698.74 180.14V176.47H698.18V180.14ZM698.18 176.47V172.81H697.62V170.97H697.07V174.64H697.62V176.47ZM700.96 178.3H701.52V170.97H700.96ZM697.07 170.97V169.14H696.51V170.97ZM696.51 169.14V165.48H695.95V163.65H694.84V161.81H694.28V159.98H693.73V158.15H692.61V156.32H692.05V154.49H690.94V152.65H689.83V150.82H688.71V148.99H687.04V147.16H685.93V145.32H684.26V143.49H682.59V141.66H680.36V139.83H678.13V138H675.91V136.16H673.12V134.33H670.34V132.5H667V130.67H663.66V128.84H659.76V127H655.31V125.17H650.3V123.34H645.84V127H651.41V128.84H655.86V130.67H660.32V132.5H664.22V134.33H667.56V136.16H670.34V138H673.68V139.83H675.91V141.66H678.69V143.49H680.36V145.32H682.59V147.16H684.26V148.99H685.93V150.82H687.6V152.65H688.71V154.49H689.83V156.32H690.94V158.15H692.05V159.98H693.17V161.81H693.73V163.65H694.28V165.48H695.4V167.31H695.95V169.14ZM700.41 165.48H700.96V158.15H700.41ZM700.41 158.15V150.82H699.85V145.32H699.29V139.83H698.74V138H698.18V134.33H697.62V132.5H697.07V128.84H696.51V127H695.95V125.17H695.4V123.34H694.28V121.51H693.73V119.67H693.17V117.84H692.05V116.01H690.94V114.18H689.83V112.35H688.71V110.51H687.6V108.68H685.93V106.85H684.82V105.02H683.15V103.19H682.03V101.35H680.92V99.52H679.81V97.69H678.69V95.86H678.13V94.03H677.02V92.19H676.46V90.36H675.91V88.53H675.35V86.7H674.79V84.86H674.24V83.03H673.68V81.2H664.22V83.03H664.77V84.86H665.33V86.7H665.89V88.53H666.44V90.36H667V92.19H667.56V94.03H668.67V95.86H669.23V97.69H670.34V99.52H672.01V101.35H673.12V103.19H674.79V105.02H677.02V106.85H678.69V108.68H680.92V110.51H682.59V112.35H684.82V114.18H685.93V116.01H687.6V117.84H688.71V119.67H690.38V121.51H690.94V123.34H692.05V125.17H693.17V127H693.73V128.84H694.84V130.67H695.4V132.5H695.95V134.33H696.51V136.16H697.07V138H697.62V141.66H698.18V143.49H698.74V147.16H699.29V152.65H699.85V158.15Z"/>
<path fill="#FBE49A" d="M734.93 337.7H741.61V334.04H741.05V332.2H740.5V330.37H739.94V328.54H739.38V326.71H738.83V324.88H737.71V323.04H737.16V321.21H736.04V319.38H734.37V317.55H733.26V315.71H731.03V313.88H729.36V312.05H727.13V310.22H724.35V308.39H722.68V306.55H720.45V304.72H718.78V302.89H717.11V301.06H715.44V299.22H714.33V297.39H713.21V295.56H712.1V293.73H710.99V291.9H709.87V290.06H709.32V288.23H708.76V286.4H707.65V284.57H707.09V282.74H706.53V280.9H705.97V277.24H705.42V275.41H704.86V271.74H704.3V269.91H703.75V273.57H704.3V277.24H704.86V280.9H705.42V282.74H705.97V284.57H706.53V286.4H707.09V288.23H707.65V290.06H708.2V291.9H708.76V293.73H709.32V295.56H710.43V297.39H711.54V299.22H712.1V301.06H713.21V302.89H714.88V304.72H716V306.55H717.67V308.39H719.34V310.22H721.01V312.05H722.68V313.88H724.35V315.71H726.02V317.55H727.13V319.38H728.8V321.21H729.92V323.04H730.47V324.88H731.59V326.71H732.14V328.54H732.7V330.37H733.26V332.2H733.81V334.04H734.37V335.87H734.93ZM754.42 297.39H757.2V295.56H756.64V293.73H751.63V291.9H746.62V290.06H742.72V288.23H738.83V286.4H735.48V284.57H732.14V282.74H729.36V280.9H726.58V279.07H724.35V277.24H722.12V275.41H720.45V273.57H718.78V271.74H717.11V269.91H715.44V268.08H714.33V266.25H713.21V264.41H712.1V262.58H710.99V260.75H709.87V262.58H710.43V264.41H711.54V266.25H712.66V268.08H713.77V269.91H714.88V271.74H716.55V273.57H717.67V275.41H719.34V277.24H721.57V279.07H723.24V280.9H726.02V282.74H728.25V284.57H731.03V286.4H733.81V288.23H737.16V290.06H741.05V291.9H744.95V293.73H749.4V295.56H754.42ZM703.75 269.91V264.41H703.19V269.91ZM703.19 264.41V258.92H702.63V264.41ZM709.87 260.75V258.92H709.32V257.09H708.2V258.92H708.76V260.75ZM708.2 257.09V255.25H707.65V257.09ZM702.08 257.09H702.63V251.59H702.08ZM707.65 255.25V253.42H707.09V255.25ZM707.09 253.42V251.59H706.53V253.42ZM706.53 251.59V249.76H705.97V251.59ZM705.97 249.76V247.93H705.42V249.76ZM705.42 247.93V244.26H704.86V247.93ZM704.86 244.26V242.43H704.3V244.26ZM701.52 244.26H702.08V238.76H701.52ZM703.75 240.6H704.3V238.76H703.75ZM703.19 236.93H703.75V233.27H703.19ZM702.63 231.44H703.19V227.77H702.63ZM702.08 224.11H702.63V220.44H702.08ZM700.41 198.46H700.96V194.79H700.41ZM699.85 191.13H700.41V187.46H699.85ZM699.29 185.63H699.85V181.97H699.29ZM698.74 180.14H699.29V178.3H698.74ZM700.96 180.14H701.52V174.64H700.96ZM698.18 176.47H698.74V174.64H698.18ZM698.18 174.64V170.97H697.62V174.64ZM697.62 170.97V169.14H697.07V170.97ZM697.07 169.14V167.31H696.51V169.14ZM696.51 167.31V165.48H695.95V167.31ZM695.95 165.48V163.65H695.4V165.48ZM700.41 167.31H700.96V161.81H700.41ZM695.4 163.65V161.81H694.84V163.65ZM694.84 161.81V159.98H694.28V158.15H693.17V159.98H693.73V161.81ZM693.17 158.15V156.32H692.61V154.49H691.5V152.65H690.38V150.82H689.27V148.99H688.16V147.16H686.49V145.32H685.37V143.49H683.7V141.66H681.48V139.83H679.81V138H677.02V136.16H674.79V134.33H672.01V132.5H669.23V130.67H665.89V128.84H661.99V127H658.09V125.17H653.64V123.34H648.62V121.51H645.84V123.34H646.4V125.17H651.41V127H656.42V128.84H660.32V130.67H664.22V132.5H667.56V134.33H670.9V136.16H673.68V138H676.46V139.83H678.69V141.66H680.92V143.49H682.59V145.32H684.26V147.16H685.93V148.99H687.6V150.82H688.71V152.65H689.83V154.49H690.94V156.32H692.05V158.15ZM699.85 159.98H700.41V154.49H699.85ZM699.85 154.49V148.99H699.29V154.49ZM699.29 148.99V145.32H698.74V141.66H698.18V138H697.62V136.16H697.07V134.33H696.51V132.5H695.95V130.67H695.4V128.84H694.84V127H694.28V125.17H693.73V123.34H692.61V121.51H691.5V119.67H690.94V117.84H689.83V116.01H688.16V114.18H687.04V112.35H685.37V110.51H683.7V108.68H682.03V106.85H680.36V105.02H678.69V103.19H677.02V101.35H675.91V99.52H674.24V97.69H673.12V95.86H672.57V94.03H671.45V92.19H670.9V90.36H670.34V88.53H669.78V86.7H669.23V84.86H668.67V83.03H668.11V81.2H661.43V84.86H661.99V86.7H662.54V88.53H663.1V90.36H663.66V92.19H664.22V94.03H665.33V95.86H665.89V97.69H667V99.52H668.67V101.35H669.78V103.19H672.01V105.02H673.68V106.85H675.91V108.68H678.69V110.51H680.36V112.35H682.59V114.18H684.26V116.01H685.93V117.84H687.6V119.67H688.71V121.51H689.83V123.34H690.94V125.17H692.05V127H693.17V128.84H693.73V130.67H694.28V132.5H695.4V134.33H695.95V136.16H696.51V138H697.07V141.66H697.62V143.49H698.18V147.16H698.74V148.99Z"/>
<path fill="#F8D074" d="M738.83 337.7H744.39V335.87H743.84V332.2H743.28V330.37H742.72V328.54H742.17V326.71H741.61V324.88H741.05V323.04H739.94V321.21H738.83V319.38H737.71V317.55H736.04V315.71H734.37V313.88H732.14V312.05H729.36V310.22H727.13V308.39H724.35V306.55H722.68V304.72H720.45V302.89H718.78V301.06H717.11V299.22H715.44V297.39H714.33V295.56H713.21V293.73H712.1V291.9H710.99V290.06H709.87V288.23H709.32V286.4H708.76V284.57H707.65V282.74H707.09V280.9H706.53V279.07H705.97V275.41H705.42V273.57H704.86V269.91H704.3V268.08H703.75V271.74H704.3V275.41H704.86V277.24H705.42V280.9H705.97V282.74H706.53V284.57H707.09V286.4H707.65V288.23H708.2V290.06H709.32V291.9H709.87V293.73H710.99V295.56H712.1V297.39H712.66V299.22H714.33V301.06H715.44V302.89H717.11V304.72H718.22V306.55H720.45V308.39H722.12V310.22H724.35V312.05H726.02V313.88H728.25V315.71H729.92V317.55H731.03V319.38H732.7V321.21H733.81V323.04H734.37V324.88H735.48V326.71H736.04V328.54H736.6V330.37H737.16V332.2H737.71V334.04H738.27V335.87H738.83ZM756.64 299.22H757.2V295.56H752.75V293.73H747.73V291.9H743.28V290.06H739.38V288.23H736.04V286.4H732.7V284.57H729.92V282.74H727.13V280.9H724.91V279.07H722.68V277.24H720.45V279.07H722.12V280.9H724.35V282.74H726.58V284.57H729.36V286.4H732.14V288.23H735.48V290.06H738.83V291.9H742.72V293.73H747.18V295.56H751.63V297.39H756.64ZM720.45 277.24V275.41H718.78V277.24ZM718.78 275.41V273.57H717.11V275.41ZM717.11 273.57V271.74H716V269.91H714.33V271.74H715.44V273.57ZM714.33 269.91V268.08H713.21V269.91ZM713.21 268.08V266.25H712.1V268.08ZM712.1 266.25V264.41H710.99V266.25ZM703.19 266.25H703.75V262.58H703.19ZM710.99 264.41V262.58H710.43V260.75H709.32V262.58H709.87V264.41ZM709.32 260.75V258.92H708.76V260.75ZM702.63 260.75H703.19V257.09H702.63ZM708.76 258.92V257.09H708.2V255.25H707.09V257.09H707.65V258.92ZM707.09 255.25V253.42H706.53V255.25ZM706.53 253.42V249.76H705.97V253.42ZM702.08 253.42H702.63V249.76H702.08ZM705.97 249.76V247.93H705.42V249.76ZM705.42 247.93V246.09H704.86V247.93ZM704.3 244.26H704.86V242.43H704.3ZM704.3 242.43V238.76H703.75V242.43ZM701.52 240.6H702.08V236.93H701.52ZM703.19 236.93H703.75V235.1H703.19ZM702.63 231.44H703.19V229.6H702.63ZM702.08 224.11H702.63V222.27H702.08ZM700.41 196.62H700.96V194.79H700.41ZM699.85 189.3H700.41V187.46H699.85ZM699.29 183.8H699.85V181.97H699.29ZM700.96 181.97H701.52V178.3H700.96ZM698.74 180.14H699.29V176.47H698.74ZM698.74 176.47V174.64H698.18V176.47ZM697.62 172.81H698.18V170.97H697.62ZM697.62 170.97V169.14H697.07V170.97ZM697.07 169.14V165.48H696.51V169.14ZM700.41 169.14H700.96V165.48H700.41ZM696.51 165.48V163.65H695.95V165.48ZM695.95 163.65V161.81H695.4V159.98H694.28V161.81H694.84V163.65ZM694.28 159.98V158.15H693.73V159.98ZM699.85 161.81H700.41V158.15H699.85ZM693.73 158.15V156.32H693.17V154.49H692.05V156.32H692.61V158.15ZM692.05 154.49V152.65H690.94V154.49ZM699.29 156.32H699.85V152.65H699.29ZM690.94 152.65V150.82H689.83V152.65ZM689.83 150.82V148.99H688.71V150.82ZM688.71 148.99V147.16H687.6V145.32H685.93V147.16H687.04V148.99ZM698.74 150.82H699.29V147.16H698.74V143.49H698.18V141.66H697.62V138H697.07V136.16H696.51V134.33H695.95V132.5H695.4V130.67H694.84V128.84H693.73V127H693.17V125.17H692.05V123.34H690.94V121.51H690.38V119.67H688.71V117.84H687.6V116.01H685.93V114.18H684.82V112.35H682.59V110.51H680.92V108.68H678.69V106.85H677.02V105.02H674.79V103.19H673.12V101.35H672.01V99.52H670.34V97.69H669.23V95.86H668.67V94.03H667.56V92.19H667V90.36H666.44V88.53H665.89V86.7H665.33V84.86H664.77V83.03H664.22V81.2H658.65V83.03H659.2V86.7H659.76V88.53H660.32V90.36H660.87V92.19H661.43V94.03H661.99V95.86H663.1V97.69H664.22V99.52H665.33V101.35H667V103.19H668.67V105.02H670.9V106.85H673.68V108.68H675.91V110.51H678.69V112.35H680.36V114.18H682.59V116.01H684.26V117.84H685.93V119.67H687.6V121.51H688.71V123.34H689.83V125.17H690.94V127H692.05V128.84H693.17V130.67H693.73V132.5H694.28V134.33H695.4V136.16H695.95V138H696.51V139.83H697.07V143.49H697.62V145.32H698.18V148.99H698.74ZM685.93 145.32V143.49H684.26V145.32ZM684.26 143.49V141.66H682.59V143.49ZM682.59 141.66V139.83H680.92V138H678.69V136.16H676.46V134.33H673.68V132.5H670.9V130.67H667.56V128.84H664.22V127H660.32V125.17H655.86V123.34H651.41V121.51H646.4V119.67H645.84V123.34H650.3V125.17H655.31V127H659.76V128.84H663.66V130.67H667V132.5H670.34V134.33H673.12V136.16H675.91V138H678.13V139.83H680.36V141.66Z"/>
<path fill="#F7BA3C" d="M741.61 337.7H746.62V334.04H746.06V332.2H745.51V328.54H744.95V326.71H744.39V324.88H743.28V323.04H742.72V321.21H741.61V319.38H740.5V317.55H738.83V315.71H737.16V313.88H734.93V312.05H732.14V310.22H729.36V308.39H726.58V306.55H724.35V304.72H722.12V302.89H720.45V301.06H718.78V299.22H717.11V297.39H715.44V295.56H714.33V293.73H713.21V291.9H712.1V290.06H710.99V288.23H709.87V286.4H709.32V284.57H708.2V282.74H707.65V280.9H707.09V279.07H706.53V277.24H705.97V280.9H706.53V282.74H707.09V284.57H707.65V286.4H708.76V288.23H709.32V290.06H709.87V291.9H710.99V293.73H712.1V295.56H713.21V297.39H714.33V299.22H715.44V301.06H717.11V302.89H718.78V304.72H720.45V306.55H722.68V308.39H724.35V310.22H727.13V312.05H729.36V313.88H731.03V315.71H733.26V317.55H734.37V319.38H736.04V321.21H737.16V323.04H737.71V324.88H738.83V326.71H739.38V328.54H739.94V330.37H740.5V332.2H741.05V334.04H741.61ZM753.86 299.22H757.2V297.39H754.42V295.56H749.4V297.39H753.86ZM749.4 295.56V293.73H744.95V295.56ZM744.95 293.73V291.9H741.05V290.06H737.16V291.9H740.5V293.73ZM737.16 290.06V288.23H733.81V290.06ZM733.81 288.23V286.4H731.03V288.23ZM731.03 286.4V284.57H728.25V286.4ZM728.25 284.57V282.74H726.02V280.9H723.24V282.74H725.46V284.57ZM723.24 280.9V279.07H721.57V277.24H719.34V279.07H721.01V280.9ZM705.97 277.24V275.41H705.42V277.24ZM719.34 277.24V275.41H717.67V277.24ZM705.42 275.41V271.74H704.86V275.41ZM717.67 275.41V273.57H716.55V271.74H714.88V273.57H716V275.41ZM704.86 271.74V269.91H704.3V271.74ZM714.88 271.74V269.91H713.77V271.74ZM704.3 269.91V266.25H703.75V269.91ZM713.77 269.91V268.08H712.66V269.91ZM712.66 268.08V266.25H711.54V268.08ZM711.54 266.25V264.41H710.43V266.25ZM710.43 264.41V262.58H709.87V264.41ZM703.19 264.41H703.75V260.75H703.19ZM709.87 262.58V260.75H708.76V262.58ZM708.76 260.75V258.92H708.2V260.75ZM708.2 258.92V257.09H707.65V258.92ZM702.63 258.92H703.19V255.25H702.63ZM707.65 257.09V255.25H707.09V257.09ZM707.09 255.25V253.42H706.53V255.25ZM706.53 253.42V251.59H705.97V253.42ZM705.97 251.59V249.76H705.42V251.59ZM702.08 251.59H702.63V247.93H702.08ZM705.42 249.76V247.93H704.86V249.76ZM704.3 246.09H704.86V244.26H704.3ZM703.75 242.43H704.3V240.6H703.75ZM701.52 238.76H702.08V235.1H701.52ZM703.19 238.76H703.75V236.93H703.19ZM702.63 233.27H703.19V231.44H702.63ZM702.08 225.94H702.63V224.11H702.08ZM700.41 194.79H700.96V192.96H700.41ZM699.85 187.46H700.41V185.63H699.85ZM700.96 183.8H701.52V180.14H700.96ZM699.29 181.97H699.85V180.14H699.29ZM698.74 178.3H699.29V176.47H698.74ZM698.18 174.64H698.74V172.81H698.18ZM697.62 170.97H698.18V169.14H697.62ZM697.62 169.14V167.31H697.07V169.14ZM700.41 170.97H700.96V167.31H700.41ZM697.07 167.31V165.48H696.51V167.31ZM696.51 165.48V163.65H695.95V165.48ZM695.95 163.65V161.81H695.4V163.65ZM695.4 161.81V159.98H694.84V161.81ZM699.85 163.65H700.41V159.98H699.85ZM694.84 159.98V158.15H694.28V159.98ZM694.28 158.15V156.32H693.17V158.15ZM693.17 156.32V154.49H692.61V156.32ZM699.29 158.15H699.85V154.49H699.29ZM692.61 154.49V152.65H691.5V154.49ZM691.5 152.65V150.82H690.38V152.65ZM690.38 150.82V148.99H689.27V150.82ZM698.74 152.65H699.29V148.99H698.74ZM689.27 148.99V147.16H688.16V148.99ZM698.74 148.99V147.16H698.18V148.99ZM688.16 147.16V145.32H687.04V143.49H685.37V145.32H686.49V147.16ZM698.18 147.16V143.49H697.62V147.16ZM685.37 143.49V141.66H683.7V143.49ZM697.62 143.49V141.66H697.07V143.49ZM683.7 141.66V139.83H682.03V138H679.81V139.83H681.48V141.66ZM697.07 141.66V138H696.51V136.16H695.95V134.33H695.4V132.5H694.28V130.67H693.73V128.84H693.17V127H692.05V125.17H690.94V123.34H689.83V121.51H688.71V119.67H687.6V117.84H685.93V116.01H684.26V114.18H682.59V112.35H680.36V110.51H678.69V108.68H675.91V106.85H673.68V105.02H672.01V103.19H669.78V101.35H668.67V99.52H667V97.69H665.89V95.86H665.33V94.03H664.22V92.19H663.66V90.36H663.1V88.53H662.54V86.7H661.99V84.86H661.43V81.2H656.42V84.86H656.98V86.7H657.53V90.36H658.09V92.19H658.65V94.03H659.76V95.86H660.32V97.69H661.43V99.52H662.54V101.35H664.22V103.19H665.89V105.02H668.11V106.85H670.9V108.68H673.68V110.51H676.46V112.35H678.69V114.18H680.92V116.01H682.59V117.84H684.26V119.67H685.93V121.51H687.6V123.34H688.71V125.17H689.83V127H690.94V128.84H692.05V130.67H693.17V132.5H693.73V134.33H694.84V136.16H695.4V138H695.95V139.83H696.51V141.66ZM679.81 138V136.16H677.58V134.33H674.79V136.16H677.02V138ZM674.79 134.33V132.5H672.01V134.33ZM672.01 132.5V130.67H669.23V132.5ZM669.23 130.67V128.84H665.89V130.67ZM665.89 128.84V127H662.54V125.17H658.09V127H661.99V128.84ZM658.09 125.17V123.34H653.64V125.17ZM653.64 123.34V121.51H649.18V119.67H645.84V121.51H648.62V123.34Z"/>
<path fill="#F5A100" d="M744.39 337.7H748.85V335.87H748.29V332.2H747.73V328.54H747.18V326.71H746.62V324.88H746.06V323.04H744.95V321.21H744.39V319.38H743.28V317.55H741.61V315.71H739.94V313.88H737.16V312.05H734.93V310.22H731.59V308.39H728.8V306.55H726.02V304.72H723.79V302.89H722.12V301.06H719.89V299.22H718.22V297.39H716.55V295.56H715.44V293.73H713.77V291.9H712.66V290.06H711.54V288.23H710.99V286.4H709.87V284.57H709.32V282.74H708.2V280.9H707.65V279.07H707.09V277.24H706.53V275.41H705.97V279.07H706.53V280.9H707.09V282.74H707.65V284.57H708.76V286.4H709.32V288.23H709.87V290.06H710.99V291.9H712.1V293.73H713.21V295.56H714.33V297.39H715.44V299.22H717.11V301.06H718.78V302.89H720.45V304.72H722.68V306.55H724.35V308.39H727.13V310.22H729.36V312.05H732.14V313.88H734.37V315.71H736.04V317.55H737.71V319.38H738.83V321.21H739.94V323.04H741.05V324.88H741.61V326.71H742.17V328.54H742.72V330.37H743.28V332.2H743.84V335.87H744.39ZM756.64 301.06H757.2V299.22H756.64ZM756.64 299.22V297.39H751.63V299.22ZM751.63 297.39V295.56H747.18V293.73H742.72V295.56H746.62V297.39ZM742.72 293.73V291.9H738.83V293.73ZM738.83 291.9V290.06H735.48V291.9ZM735.48 290.06V288.23H732.14V290.06ZM732.14 288.23V286.4H729.36V288.23ZM729.36 286.4V284.57H726.58V286.4ZM726.58 284.57V282.74H724.35V284.57ZM724.35 282.74V280.9H722.12V282.74ZM722.12 280.9V279.07H720.45V280.9ZM720.45 279.07V277.24H718.78V279.07ZM718.78 277.24V275.41H717.11V277.24ZM705.97 275.41V273.57H705.42V275.41ZM717.11 275.41V273.57H715.44V275.41ZM705.42 273.57V269.91H704.86V273.57ZM715.44 273.57V271.74H714.33V273.57ZM714.33 271.74V269.91H713.21V271.74ZM704.86 269.91V268.08H704.3V269.91ZM713.21 269.91V268.08H712.1V269.91ZM704.3 268.08V264.41H703.75V268.08ZM712.1 268.08V266.25H710.99V268.08ZM710.99 266.25V264.41H709.87V266.25ZM709.87 264.41V262.58H709.32V264.41ZM709.32 262.58V260.75H708.76V262.58ZM703.19 262.58H703.75V260.75H703.19ZM708.76 260.75V258.92H707.65V260.75ZM707.65 258.92V257.09H707.09V258.92ZM707.09 257.09V255.25H706.53V257.09ZM702.63 257.09H703.19V255.25H702.63ZM706.53 255.25V253.42H705.97V255.25ZM705.42 251.59H705.97V249.76H705.42ZM705.42 249.76V247.93H704.86V249.76ZM702.08 249.76H702.63V246.09H702.08ZM704.86 247.93V244.26H704.3V247.93ZM704.3 244.26V242.43H703.75V244.26ZM703.19 238.76H703.75V236.93H703.19ZM701.52 236.93H702.08V233.27H701.52ZM702.63 233.27H703.19V231.44H702.63ZM702.08 225.94H702.63V224.11H702.08ZM700.41 194.79H700.96V192.96H700.41ZM699.85 187.46H700.41V185.63H699.85ZM700.96 185.63H701.52V181.97H700.96ZM699.29 181.97H699.85V180.14H699.29ZM698.74 176.47H699.29V174.64H698.74ZM698.74 174.64V170.97H698.18V174.64ZM698.18 170.97V169.14H697.62V170.97ZM700.41 172.81H700.96V169.14H700.41ZM697.62 169.14V167.31H697.07V169.14ZM696.51 165.48H697.07V163.65H696.51ZM696.51 163.65V161.81H695.95V163.65ZM695.95 161.81V159.98H695.4V161.81ZM699.85 163.65H700.41V161.81H699.85ZM695.4 159.98V158.15H694.28V159.98ZM694.28 158.15V156.32H693.73V158.15ZM693.73 156.32V154.49H693.17V156.32ZM699.29 158.15H699.85V156.32H699.29ZM693.17 154.49V152.65H692.05V154.49ZM692.05 152.65V150.82H690.94V152.65ZM698.74 154.49H699.29V150.82H698.74ZM690.94 150.82V148.99H689.83V150.82ZM698.74 150.82V148.99H698.18V150.82ZM689.83 148.99V147.16H688.71V148.99ZM698.18 148.99V145.32H697.62V148.99ZM688.71 147.16V145.32H687.6V147.16ZM687.6 145.32V143.49H685.93V145.32ZM697.62 145.32V143.49H697.07V145.32ZM685.93 143.49V141.66H684.26V143.49ZM697.07 143.49V139.83H696.51V138H695.95V136.16H695.4V134.33H694.28V132.5H693.73V130.67H693.17V128.84H692.05V127H690.94V125.17H689.83V123.34H688.71V121.51H687.6V119.67H685.93V117.84H684.26V116.01H682.59V114.18H680.36V112.35H678.69V110.51H675.91V108.68H673.68V106.85H670.9V105.02H668.67V103.19H667V101.35H665.33V99.52H664.22V97.69H663.1V95.86H661.99V94.03H661.43V92.19H660.87V90.36H660.32V88.53H659.76V86.7H659.2V83.03H658.65V81.2H654.19V83.03H654.75V86.7H655.31V90.36H655.86V92.19H656.42V94.03H656.98V95.86H658.09V97.69H658.65V99.52H659.76V101.35H661.43V103.19H663.1V105.02H665.89V106.85H668.11V108.68H671.45V110.51H674.24V112.35H677.02V114.18H679.25V116.01H680.92V117.84H683.15V119.67H684.82V121.51H686.49V123.34H687.6V125.17H689.27V127H690.38V128.84H691.5V130.67H692.05V132.5H693.17V134.33H693.73V136.16H694.84V138H695.4V139.83H695.95V141.66H696.51V143.49ZM684.26 141.66V139.83H682.59V141.66ZM682.59 139.83V138H680.92V139.83ZM680.92 138V136.16H678.69V138ZM678.69 136.16V134.33H676.46V136.16ZM676.46 134.33V132.5H673.68V134.33ZM673.68 132.5V130.67H670.9V132.5ZM670.9 130.67V128.84H667.56V130.67ZM667.56 128.84V127H664.22V128.84ZM664.22 127V125.17H660.32V127ZM660.32 125.17V123.34H656.42V121.51H651.41V123.34H655.86V125.17ZM651.41 121.51V119.67H646.4V121.51ZM646.4 119.67V117.84H645.84V119.67Z"/>
<path fill="#F28400" d="M746.62 337.7H750.52V334.04H749.96V330.37H749.4V326.71H748.85V324.88H748.29V323.04H747.73V321.21H746.62V319.38H745.51V317.55H744.39V315.71H742.72V313.88H740.5V312.05H737.16V310.22H733.81V308.39H731.03V306.55H728.25V304.72H726.02V302.89H723.24V301.06H721.57V299.22H719.34V297.39H717.67V295.56H716.55V293.73H714.88V291.9H713.77V290.06H712.66V288.23H711.54V286.4H710.43V284.57H709.87V282.74H708.76V280.9H708.2V279.07H707.65V277.24H707.09V275.41H706.53V273.57H705.97V271.74H705.42V275.41H705.97V277.24H706.53V279.07H707.09V280.9H707.65V282.74H708.2V284.57H709.32V286.4H709.87V288.23H710.99V290.06H712.1V291.9H713.21V293.73H714.33V295.56H715.44V297.39H717.11V299.22H718.78V301.06H720.45V302.89H722.12V304.72H724.35V306.55H726.58V308.39H729.36V310.22H732.14V312.05H734.93V313.88H737.16V315.71H738.83V317.55H740.5V319.38H741.61V321.21H742.72V323.04H743.28V324.88H744.39V326.71H744.95V328.54H745.51V332.2H746.06V334.04H746.62ZM753.86 301.06H757.2V299.22H753.86ZM753.86 299.22V297.39H749.4V295.56H744.95V293.73H740.5V295.56H744.39V297.39H748.85V299.22ZM740.5 293.73V291.9H737.16V293.73ZM737.16 291.9V290.06H733.81V291.9ZM733.81 290.06V288.23H731.03V286.4H728.25V288.23H730.47V290.06ZM728.25 286.4V284.57H725.46V286.4ZM725.46 284.57V282.74H723.24V284.57ZM723.24 282.74V280.9H721.01V282.74ZM721.01 280.9V279.07H719.34V280.9ZM719.34 279.07V277.24H717.67V279.07ZM717.67 277.24V275.41H716V277.24ZM716 275.41V273.57H714.88V275.41ZM714.88 273.57V271.74H713.77V273.57ZM705.42 271.74V269.91H704.86V271.74ZM713.77 271.74V269.91H712.66V271.74ZM704.86 269.91V266.25H704.3V269.91ZM712.66 269.91V268.08H711.54V269.91ZM711.54 268.08V266.25H710.43V268.08ZM704.3 266.25V262.58H703.75V266.25ZM710.43 266.25V264.41H709.87V266.25ZM709.87 264.41V262.58H708.76V264.41ZM708.76 262.58V260.75H708.2V262.58ZM708.2 260.75V258.92H707.65V260.75ZM703.19 260.75H703.75V258.92H703.19ZM707.65 258.92V257.09H707.09V258.92ZM707.09 257.09V255.25H706.53V257.09ZM706.53 255.25V253.42H705.97V255.25ZM702.63 255.25H703.19V253.42H702.63ZM705.97 253.42V251.59H705.42V253.42ZM705.42 251.59V249.76H704.86V251.59ZM702.08 247.93H702.63V246.09H702.08ZM704.3 247.93H704.86V246.09H704.3ZM703.75 244.26H704.3V242.43H703.75ZM703.19 240.6H703.75V238.76H703.19ZM701.52 235.1H702.08V233.27H701.52ZM702.63 235.1H703.19V233.27H702.63ZM699.85 185.63H700.41V183.8H699.85ZM700.96 185.63H701.52V183.8H700.96ZM699.29 180.14H699.85V178.3H699.29ZM698.74 176.47H699.29V174.64H698.74ZM698.18 172.81H698.74V170.97H698.18ZM700.41 172.81H700.96V170.97H700.41ZM697.62 169.14H698.18V167.31H697.62ZM697.62 167.31V165.48H697.07V167.31ZM697.07 165.48V163.65H696.51V165.48ZM696.51 163.65V161.81H695.95V163.65ZM699.85 165.48H700.41V163.65H699.85ZM695.95 161.81V159.98H695.4V161.81ZM695.4 159.98V158.15H694.84V159.98ZM694.84 158.15V156.32H694.28V158.15ZM699.29 159.98H699.85V158.15H699.29ZM694.28 156.32V154.49H693.17V156.32ZM693.17 154.49V152.65H692.61V154.49ZM698.74 156.32H699.29V152.65H698.74ZM692.61 152.65V150.82H691.5V152.65ZM698.74 152.65V148.99H698.18V152.65ZM691.5 150.82V148.99H690.38V150.82ZM690.38 148.99V147.16H689.27V148.99ZM698.18 148.99V147.16H697.62V148.99ZM689.27 147.16V145.32H688.16V147.16ZM697.62 147.16V143.49H697.07V141.66H696.51V139.83H695.95V138H695.4V136.16H694.84V134.33H693.73V132.5H693.17V130.67H692.05V128.84H690.94V127H689.83V125.17H688.71V123.34H687.6V121.51H685.93V119.67H684.26V117.84H682.59V116.01H680.92V114.18H678.69V112.35H676.46V110.51H673.68V108.68H670.9V106.85H668.11V105.02H665.89V103.19H664.22V101.35H662.54V99.52H661.43V97.69H660.32V95.86H659.76V94.03H658.65V92.19H658.09V90.36H657.53V86.7H656.98V84.86H656.42V81.2H652.52V84.86H653.08V88.53H653.64V92.19H654.19V94.03H654.75V95.86H655.31V97.69H656.42V99.52H657.53V101.35H658.65V103.19H660.32V105.02H662.54V106.85H665.89V108.68H669.23V110.51H672.01V112.35H674.79V114.18H677.02V116.01H679.81V117.84H681.48V119.67H683.7V121.51H685.37V123.34H686.49V125.17H688.16V127H689.27V128.84H690.38V130.67H691.5V132.5H692.61V134.33H693.17V136.16H694.28V138H694.84V139.83H695.4V141.66H695.95V143.49H696.51V145.32H697.07V147.16ZM688.16 145.32V143.49H687.04V145.32ZM687.04 143.49V141.66H685.37V143.49ZM685.37 141.66V139.83H683.7V141.66ZM683.7 139.83V138H682.03V139.83ZM682.03 138V136.16H679.81V138ZM679.81 136.16V134.33H677.58V136.16ZM677.58 134.33V132.5H674.79V134.33ZM674.79 132.5V130.67H672.57V128.84H669.23V130.67H672.01V132.5ZM669.23 128.84V127H665.89V128.84ZM665.89 127V125.17H662.54V127ZM662.54 125.17V123.34H658.65V121.51H654.19V119.67H649.18V121.51H653.64V123.34H658.09V125.17ZM649.18 119.67V117.84H645.84V119.67Z"/>
<path fill="#ED6200" d="M748.85 337.7H752.19V332.2H751.63V328.54H751.08V324.88H750.52V323.04H749.96V321.21H749.4V319.38H748.29V317.55H747.18V315.71H745.51V313.88H743.28V312.05H740.5V310.22H736.6V308.39H733.26V306.55H730.47V304.72H727.69V302.89H725.46V301.06H723.24V299.22H721.01V297.39H719.34V295.56H717.67V293.73H716V291.9H714.88V290.06H713.21V288.23H712.1V286.4H711.54V284.57H710.43V282.74H709.32V284.57H709.87V286.4H710.99V288.23H711.54V290.06H712.66V291.9H713.77V293.73H715.44V295.56H716.55V297.39H718.22V299.22H719.89V301.06H722.12V302.89H723.79V304.72H726.02V306.55H728.8V308.39H731.59V310.22H734.93V312.05H737.16V313.88H739.94V315.71H741.61V317.55H743.28V319.38H744.39V321.21H744.95V323.04H746.06V324.88H746.62V326.71H747.18V328.54H747.73V332.2H748.29V335.87H748.85ZM756.64 302.89H757.2V301.06H756.64ZM756.64 301.06V299.22H751.63V297.39H746.62V299.22H751.08V301.06ZM746.62 297.39V295.56H742.72V297.39ZM742.72 295.56V293.73H738.83V295.56ZM738.83 293.73V291.9H735.48V290.06H732.14V291.9H734.93V293.73ZM732.14 290.06V288.23H729.36V290.06ZM729.36 288.23V286.4H726.58V288.23ZM726.58 286.4V284.57H724.35V286.4ZM724.35 284.57V282.74H722.12V284.57ZM709.32 282.74V280.9H708.76V279.07H708.2V277.24H707.65V275.41H707.09V273.57H706.53V271.74H705.97V269.91H705.42V273.57H705.97V275.41H706.53V277.24H707.09V279.07H707.65V280.9H708.2V282.74ZM722.12 282.74V280.9H720.45V282.74ZM720.45 280.9V279.07H718.78V277.24H717.11V279.07H718.22V280.9ZM717.11 277.24V275.41H715.44V277.24ZM715.44 275.41V273.57H714.33V275.41ZM714.33 273.57V271.74H713.21V273.57ZM713.21 271.74V269.91H712.1V271.74ZM705.42 269.91V268.08H704.86V269.91ZM712.1 269.91V268.08H710.99V269.91ZM704.86 268.08V264.41H704.3V268.08ZM710.99 268.08V266.25H709.87V268.08ZM709.87 266.25V264.41H709.32V266.25ZM704.3 264.41V260.75H703.75V264.41ZM709.32 264.41V262.58H708.76V260.75H707.65V262.58H708.2V264.41ZM703.75 260.75V257.09H703.19V260.75ZM707.65 260.75V258.92H707.09V260.75ZM707.09 258.92V257.09H706.53V258.92ZM706.53 257.09V255.25H705.97V257.09ZM705.97 255.25V251.59H705.42V255.25ZM702.63 255.25H703.19V251.59H702.63ZM705.42 251.59V249.76H704.86V251.59ZM704.86 249.76V247.93H704.3V249.76ZM702.08 246.09H702.63V244.26H702.08ZM703.75 246.09H704.3V244.26H703.75ZM703.19 240.6H703.75V238.76H703.19ZM702.63 235.1H703.19V233.27H702.63ZM701.52 233.27H702.08V231.44H701.52ZM702.08 227.77H702.63V225.94H702.08ZM700.41 192.96H700.96V191.13H700.41ZM700.96 187.46H701.52V185.63H700.96ZM699.85 185.63H700.41V183.8H699.85ZM699.29 180.14H699.85V178.3H699.29ZM698.74 174.64H699.29V172.81H698.74ZM700.41 174.64H700.96V172.81H700.41ZM698.18 170.97H698.74V169.14H698.18ZM698.18 169.14V167.31H697.62V169.14ZM697.62 167.31V163.65H697.07V167.31ZM699.85 167.31H700.41V163.65H699.85ZM697.07 163.65V161.81H696.51V163.65ZM696.51 161.81V159.98H695.95V161.81ZM695.95 159.98V158.15H695.4V159.98ZM699.29 161.81H699.85V158.15H699.29ZM695.4 158.15V156.32H694.84V154.49H693.73V156.32H694.28V158.15ZM699.29 158.15V154.49H698.74V158.15ZM693.73 154.49V152.65H693.17V154.49ZM698.74 154.49V150.82H698.18V154.49ZM693.17 152.65V150.82H692.05V152.65ZM692.05 150.82V148.99H690.94V150.82ZM698.18 150.82V148.99H697.62V150.82ZM690.94 148.99V147.16H689.83V148.99ZM697.62 148.99V145.32H697.07V143.49H696.51V141.66H695.95V139.83H695.4V138H694.84V136.16H693.73V138H694.28V139.83H694.84V141.66H695.4V143.49H695.95V145.32H696.51V147.16H697.07V148.99ZM689.83 147.16V145.32H688.71V147.16ZM688.71 145.32V143.49H687.6V145.32ZM687.6 143.49V141.66H685.93V143.49ZM685.93 141.66V139.83H684.82V138H682.59V139.83H684.26V141.66ZM682.59 138V136.16H680.92V138ZM680.92 136.16V134.33H678.69V136.16ZM693.73 136.16V134.33H693.17V132.5H692.05V130.67H691.5V128.84H690.38V127H689.27V125.17H687.6V123.34H686.49V121.51H684.82V119.67H683.15V117.84H680.92V116.01H679.25V114.18H677.02V112.35H674.24V110.51H671.45V108.68H668.11V106.85H665.89V105.02H663.1V103.19H661.43V101.35H659.76V99.52H658.65V97.69H658.09V95.86H656.98V94.03H656.42V92.19H655.86V90.36H655.31V86.7H654.75V83.03H654.19V81.2H650.85V86.7H651.41V90.36H651.97V94.03H652.52V95.86H653.08V97.69H653.64V99.52H654.75V101.35H655.86V103.19H657.53V105.02H659.76V106.85H662.54V108.68H666.44V110.51H669.78V112.35H672.57V114.18H675.35V116.01H677.58V117.84H679.81V119.67H682.03V121.51H683.7V123.34H685.37V125.17H687.04V127H688.16V128.84H689.83V130.67H690.94V132.5H691.5V134.33H692.61V136.16ZM678.69 134.33V132.5H676.46V134.33ZM676.46 132.5V130.67H673.68V132.5ZM673.68 130.67V128.84H670.9V130.67ZM670.9 128.84V127H668.11V125.17H664.22V127H667.56V128.84ZM664.22 125.17V123.34H660.32V125.17ZM660.32 123.34V121.51H656.42V123.34ZM656.42 121.51V119.67H651.97V117.84H646.4V119.67H651.41V121.51ZM646.4 117.84V116.01H645.84V117.84Z"/>
<path fill="#E13C00" d="M750.52 337.7H753.86V330.37H753.3V326.71H752.75V323.04H752.19V321.21H751.63V319.38H751.08V317.55H749.96V315.71H748.85V313.88H746.62V312.05H743.84V310.22H739.94V308.39H736.04V306.55H732.7V304.72H729.92V302.89H727.13V301.06H724.91V299.22H722.68V297.39H721.01V295.56H718.78V293.73H717.11V291.9H716V290.06H714.33V288.23H713.21V286.4H712.1V284.57H710.99V282.74H710.43V280.9H709.32V279.07H708.76V277.24H708.2V275.41H707.09V277.24H707.65V279.07H708.2V280.9H708.76V282.74H709.87V284.57H710.43V286.4H711.54V288.23H712.66V290.06H713.77V291.9H714.88V293.73H716.55V295.56H717.67V297.39H719.34V299.22H721.57V301.06H723.24V302.89H726.02V304.72H728.25V306.55H731.03V308.39H733.81V310.22H737.16V312.05H740.5V313.88H742.72V315.71H744.39V317.55H745.51V319.38H746.62V321.21H747.73V323.04H748.29V324.88H748.85V326.71H749.4V330.37H749.96V334.04H750.52ZM753.3 302.89H757.2V301.06H753.86V299.22H748.85V297.39H744.39V299.22H748.29V301.06H753.3ZM744.39 297.39V295.56H740.5V293.73H737.16V291.9H733.81V290.06H730.47V291.9H733.26V293.73H736.6V295.56H739.94V297.39ZM730.47 290.06V288.23H728.25V286.4H725.46V288.23H727.69V290.06ZM725.46 286.4V284.57H723.24V286.4ZM723.24 284.57V282.74H721.01V284.57ZM721.01 282.74V280.9H719.34V282.74ZM719.34 280.9V279.07H717.67V280.9ZM717.67 279.07V277.24H716V279.07ZM716 277.24V275.41H714.88V277.24ZM707.09 275.41V273.57H706.53V275.41ZM714.88 275.41V273.57H713.77V271.74H712.66V269.91H711.54V271.74H712.1V273.57H713.21V275.41ZM706.53 273.57V269.91H705.97V268.08H705.42V266.25H704.86V269.91H705.42V271.74H705.97V273.57ZM711.54 269.91V268.08H710.43V269.91ZM710.43 268.08V266.25H709.87V264.41H708.76V266.25H709.32V268.08ZM704.86 266.25V262.58H704.3V266.25ZM708.76 264.41V262.58H708.2V264.41ZM704.3 262.58V258.92H703.75V262.58ZM708.2 262.58V260.75H707.65V262.58ZM707.65 260.75V258.92H707.09V260.75ZM703.75 258.92V255.25H703.19V258.92ZM707.09 258.92V257.09H706.53V258.92ZM706.53 257.09V255.25H705.97V257.09ZM705.97 255.25V253.42H705.42V255.25ZM705.42 253.42V251.59H704.86V253.42ZM702.63 253.42H703.19V249.76H702.63ZM704.3 249.76H704.86V247.93H704.3ZM702.08 246.09H702.63V242.43H702.08ZM703.75 246.09H704.3V244.26H703.75ZM703.19 242.43H703.75V240.6H703.19ZM702.63 236.93H703.19V235.1H702.63ZM701.52 233.27H702.08V231.44H701.52ZM702.08 227.77H702.63V225.94H702.08ZM700.41 192.96H700.96V191.13H700.41ZM700.96 187.46H701.52V185.63H700.96ZM699.85 183.8H700.41V181.97H699.85ZM699.29 178.3H699.85V176.47H699.29ZM700.41 176.47H700.96V172.81H700.41ZM698.74 174.64H699.29V172.81H698.74ZM698.18 170.97H698.74V169.14H698.18ZM699.85 169.14H700.41V165.48H699.85ZM697.62 167.31H698.18V165.48H697.62ZM697.62 165.48V163.65H697.07V165.48ZM697.07 163.65V161.81H696.51V163.65ZM696.51 161.81V159.98H695.95V161.81ZM699.29 163.65H699.85V159.98H699.29ZM695.95 159.98V158.15H695.4V159.98ZM699.29 159.98V156.32H698.74V159.98ZM695.4 158.15V156.32H694.84V158.15ZM694.84 156.32V154.49H694.28V156.32ZM698.74 156.32V152.65H698.18V156.32ZM694.28 154.49V152.65H693.73V150.82H692.61V152.65H693.17V154.49ZM698.18 152.65V148.99H697.62V147.16H697.07V145.32H696.51V148.99H697.07V150.82H697.62V152.65ZM692.61 150.82V148.99H691.5V150.82ZM691.5 148.99V147.16H690.94V145.32H689.83V143.49H688.16V145.32H689.27V147.16H690.38V148.99ZM696.51 145.32V143.49H695.95V145.32ZM688.16 143.49V141.66H687.04V143.49ZM695.95 143.49V141.66H695.4V139.83H694.84V138H694.28V136.16H693.17V134.33H692.61V132.5H691.5V130.67H690.38V128.84H689.27V127H688.16V125.17H686.49V123.34H685.37V121.51H683.7V119.67H681.48V117.84H679.81V116.01H677.02V114.18H674.79V112.35H672.01V110.51H669.23V108.68H665.89V106.85H662.54V105.02H660.32V103.19H658.65V101.35H657.53V99.52H656.42V97.69H655.31V95.86H654.75V94.03H654.19V92.19H653.64V88.53H653.08V84.86H652.52V81.2H649.18V88.53H649.74V92.19H650.3V95.86H650.85V97.69H651.41V99.52H651.97V101.35H653.08V103.19H654.19V105.02H656.42V106.85H659.2V108.68H663.1V110.51H667V112.35H670.34V114.18H673.12V116.01H675.91V117.84H678.13V119.67H680.36V121.51H682.03V123.34H684.26V125.17H685.93V127H687.04V128.84H688.71V130.67H689.83V132.5H690.94V134.33H692.05V136.16H692.61V138H693.73V139.83H694.28V141.66H694.84V143.49ZM687.04 141.66V139.83H685.37V141.66ZM685.37 139.83V138H683.7V139.83ZM683.7 138V136.16H682.03V138ZM682.03 136.16V134.33H679.81V136.16ZM679.81 134.33V132.5H677.58V134.33ZM677.58 132.5V130.67H675.35V128.84H672.57V130.67H674.79V132.5ZM672.57 128.84V127H669.78V125.17H666.44V123.34H663.1V121.51H658.65V123.34H662.54V125.17H665.89V127H669.23V128.84ZM658.65 121.51V119.67H654.75V117.84H649.74V116.01H645.84V117.84H649.18V119.67H654.19V121.51Z"/>
<path fill="#C32200" d="M752.19 337.7H755.53V330.37H754.97V323.04H754.42V319.38H753.86V317.55H753.3V315.71H752.19V313.88H750.52V312.05H747.73V310.22H743.84V308.39H739.94V306.55H736.04V304.72H732.7V302.89H729.92V301.06H727.13V299.22H724.91V297.39H722.68V295.56H721.01V293.73H718.78V291.9H717.11V290.06H716V288.23H714.33V286.4H713.21V284.57H712.1V282.74H710.99V280.9H710.43V279.07H709.32V277.24H708.76V275.41H708.2V273.57H707.09V275.41H707.65V277.24H708.2V279.07H708.76V280.9H709.32V282.74H710.43V284.57H711.54V286.4H712.1V288.23H713.21V290.06H714.88V291.9H716V293.73H717.67V295.56H719.34V297.39H721.01V299.22H723.24V301.06H725.46V302.89H727.69V304.72H730.47V306.55H733.26V308.39H736.6V310.22H740.5V312.05H743.28V313.88H745.51V315.71H747.18V317.55H748.29V319.38H749.4V321.21H749.96V323.04H750.52V324.88H751.08V328.54H751.63V332.2H752.19ZM754.42 304.72H757.2V302.89H756.64V301.06H751.08V299.22H746.62V297.39H742.72V295.56H738.83V293.73H734.93V291.9H732.14V290.06H729.36V288.23H726.58V286.4H724.35V284.57H722.12V282.74H720.45V280.9H718.22V279.07H717.11V277.24H715.44V275.41H714.33V273.57H713.21V271.74H712.1V269.91H710.99V268.08H709.87V269.91H710.43V271.74H711.54V273.57H712.66V275.41H713.77V277.24H714.88V279.07H716.55V280.9H717.67V282.74H719.89V284.57H721.57V286.4H723.79V288.23H726.02V290.06H728.25V291.9H731.03V293.73H734.37V295.56H737.71V297.39H741.05V299.22H745.51V301.06H749.96V302.89H754.42ZM707.09 273.57V271.74H706.53V273.57ZM706.53 271.74V268.08H705.97V266.25H705.42V264.41H704.86V268.08H705.42V269.91H705.97V271.74ZM709.87 268.08V266.25H709.32V264.41H708.2V266.25H708.76V268.08ZM704.86 264.41V260.75H704.3V264.41ZM708.2 264.41V262.58H707.65V264.41ZM707.65 262.58V260.75H707.09V262.58ZM704.3 260.75V257.09H703.75V260.75ZM707.09 260.75V258.92H706.53V260.75ZM706.53 258.92V257.09H705.97V258.92ZM703.75 257.09V253.42H703.19V257.09ZM705.97 257.09V255.25H705.42V257.09ZM704.86 253.42H705.42V251.59H704.86ZM704.86 251.59V249.76H704.3V251.59ZM702.63 251.59H703.19V247.93H702.63ZM703.75 247.93H704.3V246.09H703.75ZM702.08 244.26H702.63V240.6H702.08ZM703.19 244.26H703.75V240.6H703.19ZM702.63 238.76H703.19V235.1H702.63ZM701.52 231.44H702.08V229.6H701.52ZM700.96 189.3H701.52V187.46H700.96ZM699.85 183.8H700.41V180.14H699.85ZM699.29 178.3H699.85V174.64H699.29ZM700.41 178.3H700.96V174.64H700.41ZM698.74 172.81H699.29V170.97H698.74ZM699.85 170.97H700.41V167.31H699.85ZM698.18 169.14H698.74V167.31H698.18ZM698.18 167.31V165.48H697.62V167.31ZM699.29 165.48H699.85V161.81H699.29ZM697.07 163.65H697.62V161.81H697.07ZM697.07 161.81V159.98H696.51V161.81ZM699.29 161.81V158.15H698.74V161.81ZM696.51 159.98V158.15H695.95V159.98ZM695.95 158.15V156.32H695.4V158.15ZM698.74 158.15V154.49H698.18V158.15ZM695.4 156.32V154.49H694.84V156.32ZM694.84 154.49V152.65H694.28V150.82H693.17V152.65H693.73V154.49ZM698.18 154.49V150.82H697.62V148.99H697.07V147.16H696.51V150.82H697.07V152.65H697.62V154.49ZM693.17 150.82V148.99H692.61V147.16H691.5V145.32H690.38V143.49H689.27V141.66H688.16V139.83H686.49V138H685.37V136.16H683.15V134.33H681.48V132.5H679.25V130.67H677.02V128.84H674.79V127H672.01V125.17H668.67V123.34H665.33V121.51H661.99V119.67H657.53V117.84H653.08V116.01H648.62V114.18H645.84V116.01H646.4V117.84H651.97V119.67H656.42V121.51H660.32V123.34H664.22V125.17H668.11V127H670.9V128.84H673.68V130.67H676.46V132.5H678.69V134.33H680.92V136.16H682.59V138H684.82V139.83H685.93V141.66H687.6V143.49H688.71V145.32H689.83V147.16H690.94V148.99H692.05V150.82ZM696.51 147.16V145.32H695.95V147.16ZM695.95 145.32V143.49H695.4V141.66H694.84V139.83H694.28V138H693.73V136.16H692.61V134.33H691.5V132.5H690.94V130.67H689.83V128.84H688.16V127H687.04V125.17H685.37V123.34H683.7V121.51H682.03V119.67H679.81V117.84H677.58V116.01H675.35V114.18H672.57V112.35H669.78V110.51H666.44V108.68H662.54V106.85H659.76V105.02H657.53V103.19H655.86V101.35H654.75V99.52H653.64V97.69H653.08V95.86H652.52V94.03H651.97V90.36H651.41V86.7H650.85V81.2H647.51V88.53H648.07V95.86H648.62V99.52H649.18V101.35H649.74V103.19H650.85V105.02H652.52V106.85H655.31V108.68H659.2V110.51H663.1V112.35H667V114.18H670.34V116.01H673.12V117.84H675.91V119.67H678.13V121.51H680.36V123.34H682.03V125.17H684.26V127H685.93V128.84H687.04V130.67H688.71V132.5H689.83V134.33H690.94V136.16H692.05V138H692.61V139.83H693.73V141.66H694.28V143.49H694.84V145.32Z"/>
<path fill="#A20706" d="M753.86 337.7H757.2V302.89H753.3V301.06H748.29V299.22H744.39V297.39H739.94V295.56H736.6V293.73H733.26V291.9H730.47V290.06H727.69V288.23H725.46V286.4H723.24V284.57H721.01V282.74H719.34V280.9H717.67V279.07H716V277.24H714.88V275.41H713.21V273.57H712.1V271.74H711.54V269.91H710.43V268.08H709.32V266.25H708.76V264.41H708.2V262.58H707.65V260.75H707.09V258.92H706.53V257.09H705.97V255.25H705.42V253.42H704.86V249.76H704.3V246.09H703.75V242.43H703.19V236.93H702.63V227.77H702.08V209.45H701.52V231.44H702.08V242.43H702.63V249.76H703.19V255.25H703.75V258.92H704.3V262.58H704.86V266.25H705.42V268.08H705.97V269.91H706.53V273.57H707.09V275.41H708.2V277.24H708.76V279.07H709.32V280.9H710.43V282.74H710.99V284.57H712.1V286.4H713.21V288.23H714.33V290.06H716V291.9H717.11V293.73H718.78V295.56H721.01V297.39H722.68V299.22H724.91V301.06H727.13V302.89H729.92V304.72H732.7V306.55H736.04V308.39H739.94V310.22H743.84V312.05H746.62V313.88H748.85V315.71H749.96V317.55H751.08V319.38H751.63V321.21H752.19V323.04H752.75V326.71H753.3V330.37H753.86ZM701.52 209.45V187.46H700.96V176.47H700.41V169.14H699.85V163.65H699.29V159.98H698.74V156.32H698.18V152.65H697.62V150.82H697.07V148.99H696.51V145.32H695.95V143.49H694.84V141.66H694.28V139.83H693.73V138H692.61V136.16H692.05V134.33H690.94V132.5H689.83V130.67H688.71V128.84H687.04V127H685.93V125.17H684.26V123.34H682.03V121.51H680.36V119.67H678.13V117.84H675.91V116.01H673.12V114.18H670.34V112.35H667V110.51H663.1V108.68H659.2V106.85H656.42V105.02H654.19V103.19H653.08V101.35H651.97V99.52H651.41V97.69H650.85V95.86H650.3V92.19H649.74V88.53H649.18V81.2H645.84V116.01H649.74V117.84H654.75V119.67H658.65V121.51H663.1V123.34H666.44V125.17H669.78V127H672.57V128.84H675.35V130.67H677.58V132.5H679.81V134.33H682.03V136.16H683.7V138H685.37V139.83H687.04V141.66H688.16V143.49H689.83V145.32H690.94V147.16H691.5V148.99H692.61V150.82H693.73V152.65H694.28V154.49H694.84V156.32H695.4V158.15H695.95V159.98H696.51V161.81H697.07V163.65H697.62V165.48H698.18V169.14H698.74V172.81H699.29V176.47H699.85V181.97H700.41V191.13H700.96V209.45Z"/>
<path fill="#7D0025" d="M755.53 337.7H757.2V304.72H754.42V302.89H749.96V301.06H745.51V299.22H741.05V297.39H737.71V295.56H734.37V293.73H731.03V291.9H728.25V290.06H726.02V288.23H723.79V286.4H721.57V284.57H719.89V282.74H717.67V280.9H716.55V279.07H714.88V277.24H713.77V275.41H712.66V273.57H711.54V271.74H710.43V269.91H709.87V268.08H708.76V266.25H708.2V264.41H707.65V262.58H707.09V260.75H706.53V258.92H705.97V257.09H705.42V253.42H704.86V251.59H704.3V247.93H703.75V244.26H703.19V238.76H702.63V227.77H702.08V209.45H701.52V229.6H702.08V240.6H702.63V247.93H703.19V253.42H703.75V257.09H704.3V260.75H704.86V264.41H705.42V266.25H705.97V268.08H706.53V271.74H707.09V273.57H708.2V275.41H708.76V277.24H709.32V279.07H710.43V280.9H710.99V282.74H712.1V284.57H713.21V286.4H714.33V288.23H716V290.06H717.11V291.9H718.78V293.73H721.01V295.56H722.68V297.39H724.91V299.22H727.13V301.06H729.92V302.89H732.7V304.72H736.04V306.55H739.94V308.39H743.84V310.22H747.73V312.05H750.52V313.88H752.19V315.71H753.3V317.55H753.86V319.38H754.42V323.04H754.97V330.37H755.53ZM701.52 209.45V189.3H700.96V178.3H700.41V170.97H699.85V165.48H699.29V161.81H698.74V158.15H698.18V154.49H697.62V152.65H697.07V150.82H696.51V147.16H695.95V145.32H694.84V143.49H694.28V141.66H693.73V139.83H692.61V138H692.05V136.16H690.94V134.33H689.83V132.5H688.71V130.67H687.04V128.84H685.93V127H684.26V125.17H682.03V123.34H680.36V121.51H678.13V119.67H675.91V117.84H673.12V116.01H670.34V114.18H667V112.35H663.1V110.51H659.2V108.68H655.31V106.85H652.52V105.02H650.85V103.19H649.74V101.35H649.18V99.52H648.62V95.86H648.07V88.53H647.51V81.2H645.84V114.18H648.62V116.01H653.08V117.84H657.53V119.67H661.99V121.51H665.33V123.34H668.67V125.17H672.01V127H674.79V128.84H677.02V130.67H679.25V132.5H681.48V134.33H683.15V136.16H685.37V138H686.49V139.83H688.16V141.66H689.27V143.49H690.38V145.32H691.5V147.16H692.61V148.99H693.17V150.82H694.28V152.65H694.84V154.49H695.4V156.32H695.95V158.15H696.51V159.98H697.07V161.81H697.62V165.48H698.18V167.31H698.74V170.97H699.29V174.64H699.85V180.14H700.41V191.13H700.96V209.45Z"/>
</g></g>
<rect x="642.5" y="81.2" width="114.7" height="256.5" fill="none" stroke="#000" stroke-opacity="0.55" stroke-width="0.7"/>
<text x="645.56" y="364" font-size="12" text-anchor="middle">−10</text>
<text x="673.4" y="364" font-size="12" text-anchor="middle">−5</text>
<text x="701.24" y="364" font-size="12" text-anchor="middle">0</text>
<text x="729.08" y="364" font-size="12" text-anchor="middle">5</text>
<text x="756.92" y="364" font-size="12" text-anchor="middle">10</text>
<text x="625.7" y="302.77" font-size="12" text-anchor="middle" transform="rotate(-90 625.7 302.77)">20</text>
<text x="625.7" y="266.13" font-size="12" text-anchor="middle" transform="rotate(-90 625.7 266.13)">40</text>
<text x="625.7" y="229.49" font-size="12" text-anchor="middle" transform="rotate(-90 625.7 229.49)">60</text>
<text x="625.7" y="192.84" font-size="12" text-anchor="middle" transform="rotate(-90 625.7 192.84)">80</text>
<text x="625.7" y="156.2" font-size="12" text-anchor="middle" transform="rotate(-90 625.7 156.2)">100</text>
<text x="625.7" y="119.56" font-size="12" text-anchor="middle" transform="rotate(-90 625.7 119.56)">120</text>
<text x="625.7" y="82.92" font-size="12" text-anchor="middle" transform="rotate(-90 625.7 82.92)">140</text>
<text x="699.85" y="392.9" font-size="12" text-anchor="middle">time</text>
<text x="597.6" y="209.95" font-size="12" text-anchor="middle" transform="rotate(-90 597.6 209.95)">Cell number</text>
<text x="699.85" y="58" font-size="13.9" text-anchor="middle" font-weight="bold">Inverse</text>
</svg>
</body></html>
